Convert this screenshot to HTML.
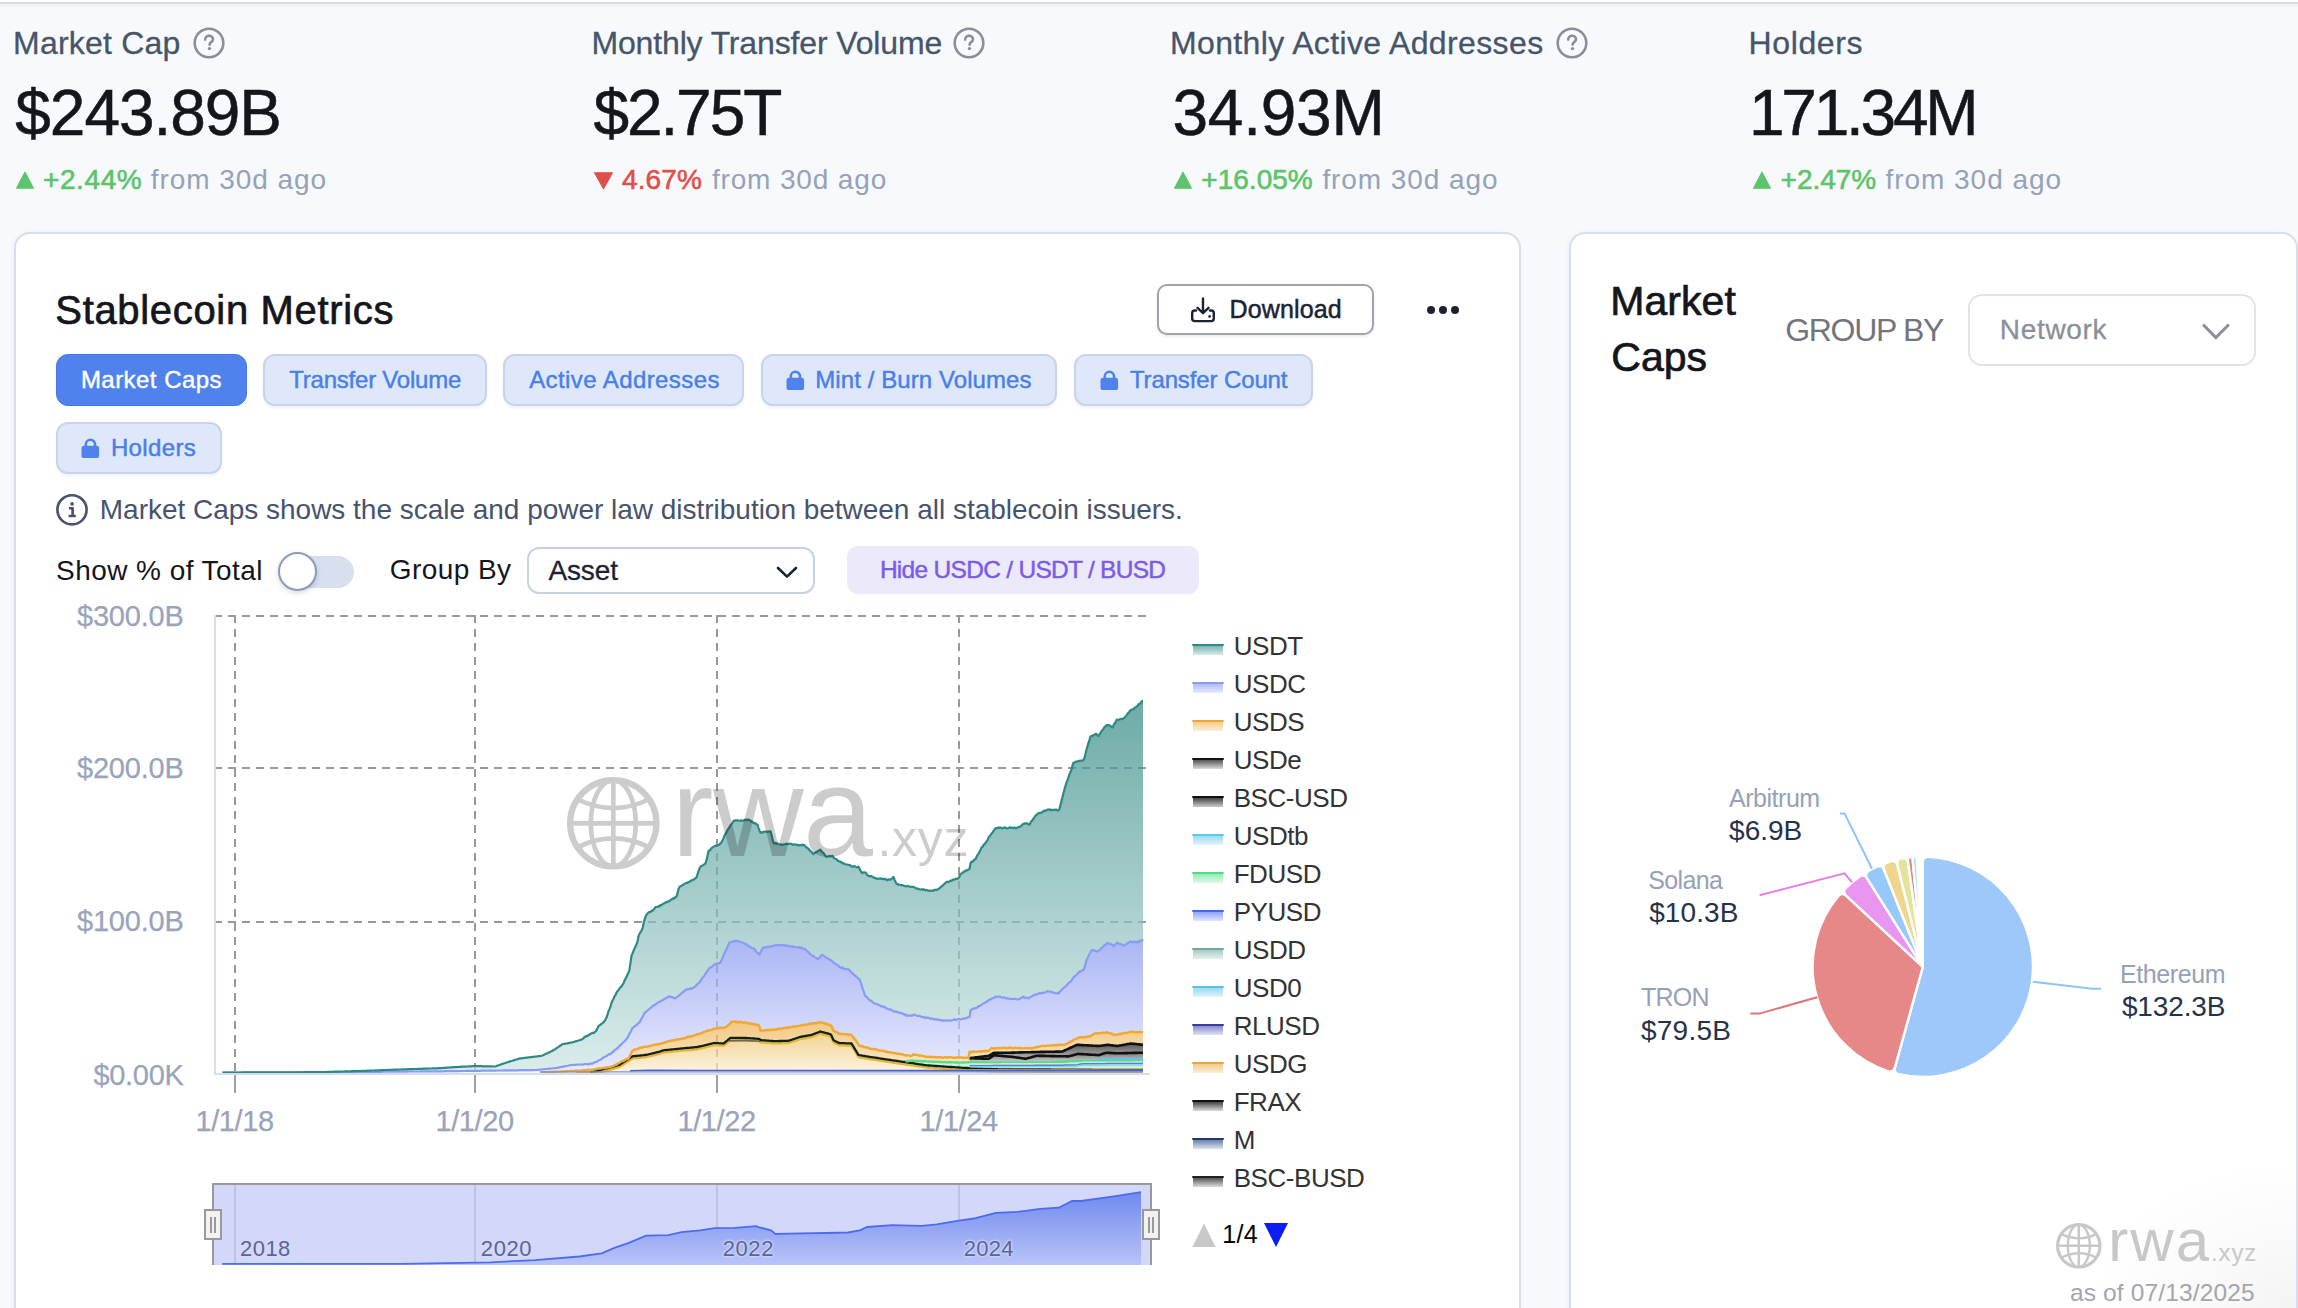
<!DOCTYPE html>
<html><head><meta charset="utf-8"><title>Stablecoin Metrics</title>
<style>
html,body{margin:0;padding:0}
body{width:2298px;height:1308px;overflow:hidden;position:relative;background:#f8f9fd;font-family:"Liberation Sans",Arial,sans-serif}
.t{position:absolute;white-space:nowrap;line-height:1;font-family:"Liberation Sans",Arial,sans-serif}
.b{position:absolute}
.card{background:#fff;border:2px solid #d7ddec;border-radius:16px;box-sizing:border-box;box-shadow:-2px 0 4px rgba(20,40,80,0.03)}
</style></head><body>
<div class="b" style="left:0;top:0;width:2298px;height:2px;background:#fff"></div>
<div class="b" style="left:0;top:2px;width:2298px;height:2px;background:#d5dcea"></div>
<div class="b" style="left:0;top:4px;width:2298px;height:6px;background:linear-gradient(#eff1f6,#f8f9fd)"></div>
<div class="t" style="left:13.00px;top:26.91px;font-size:32px;color:#475569;letter-spacing:0.22px;-webkit-text-stroke:0.3px #475569;">Market Cap</div>
<svg class="b" style="left:192px;top:25.700000000000003px" width="34" height="34" viewBox="0 0 34 34"><circle cx="17" cy="17" r="14.3" fill="none" stroke="#8a8e98" stroke-width="2.6"/><path d="M13.2 13.6c0-2.3 1.7-3.8 3.9-3.8s3.9 1.4 3.9 3.4c0 2.6-3.4 2.8-3.4 5.4" fill="none" stroke="#8a8e98" stroke-width="2.6" stroke-linecap="round"/><circle cx="17.5" cy="22.6" r="1.7" fill="#8a8e98"/></svg>
<div class="t" style="left:15.30px;top:80.81px;font-size:64px;color:#15161c;letter-spacing:-1.04px;-webkit-text-stroke:0.5px #15161c;">$243.89B</div>
<svg class="b" style="left:16px;top:171px" width="18" height="18" viewBox="0 0 18 18"><path d="M9.0 1.2 L17.4 17.2 L0.6 17.2Z" fill="#5cc46a" stroke="#5cc46a" stroke-width="1.2" stroke-linejoin="round"/></svg>
<div class="t" style="left:43.00px;top:166.29px;font-size:28px;color:#5cc46a;letter-spacing:0.60px;-webkit-text-stroke:0.6px #5cc46a;">+2.44%</div>
<div class="t" style="left:150.70px;top:166.29px;font-size:28px;color:#94a3b8;letter-spacing:0.94px;">from 30d ago</div>
<div class="t" style="left:591.40px;top:26.91px;font-size:32px;color:#475569;letter-spacing:-0.14px;-webkit-text-stroke:0.3px #475569;">Monthly Transfer Volume</div>
<svg class="b" style="left:952px;top:25.700000000000003px" width="34" height="34" viewBox="0 0 34 34"><circle cx="17" cy="17" r="14.3" fill="none" stroke="#8a8e98" stroke-width="2.6"/><path d="M13.2 13.6c0-2.3 1.7-3.8 3.9-3.8s3.9 1.4 3.9 3.4c0 2.6-3.4 2.8-3.4 5.4" fill="none" stroke="#8a8e98" stroke-width="2.6" stroke-linecap="round"/><circle cx="17.5" cy="22.6" r="1.7" fill="#8a8e98"/></svg>
<div class="t" style="left:593.40px;top:80.81px;font-size:64px;color:#15161c;letter-spacing:-2.08px;-webkit-text-stroke:0.5px #15161c;">$2.75T</div>
<svg class="b" style="left:594px;top:172px" width="19" height="18" viewBox="0 0 19 18"><path d="M0.6 0.8 L18.4 0.8 L9.5 16.8Z" fill="#e0504a" stroke="#e0504a" stroke-width="1.2" stroke-linejoin="round"/></svg>
<div class="t" style="left:622.00px;top:166.29px;font-size:28px;color:#e0504a;letter-spacing:0.10px;-webkit-text-stroke:0.6px #e0504a;">4.67%</div>
<div class="t" style="left:711.90px;top:166.29px;font-size:28px;color:#94a3b8;letter-spacing:0.85px;">from 30d ago</div>
<div class="t" style="left:1170.00px;top:26.91px;font-size:32px;color:#475569;letter-spacing:0.37px;-webkit-text-stroke:0.3px #475569;">Monthly Active Addresses</div>
<svg class="b" style="left:1555px;top:25.700000000000003px" width="34" height="34" viewBox="0 0 34 34"><circle cx="17" cy="17" r="14.3" fill="none" stroke="#8a8e98" stroke-width="2.6"/><path d="M13.2 13.6c0-2.3 1.7-3.8 3.9-3.8s3.9 1.4 3.9 3.4c0 2.6-3.4 2.8-3.4 5.4" fill="none" stroke="#8a8e98" stroke-width="2.6" stroke-linecap="round"/><circle cx="17.5" cy="22.6" r="1.7" fill="#8a8e98"/></svg>
<div class="t" style="left:1172.40px;top:80.81px;font-size:64px;color:#15161c;letter-spacing:-0.22px;-webkit-text-stroke:0.5px #15161c;">34.93M</div>
<svg class="b" style="left:1174px;top:171px" width="18" height="18" viewBox="0 0 18 18"><path d="M9.0 1.2 L17.4 17.2 L0.6 17.2Z" fill="#5cc46a" stroke="#5cc46a" stroke-width="1.2" stroke-linejoin="round"/></svg>
<div class="t" style="left:1201.30px;top:166.29px;font-size:28px;color:#5cc46a;letter-spacing:0.02px;-webkit-text-stroke:0.6px #5cc46a;">+16.05%</div>
<div class="t" style="left:1322.40px;top:166.29px;font-size:28px;color:#94a3b8;letter-spacing:0.92px;">from 30d ago</div>
<div class="t" style="left:1748.50px;top:26.91px;font-size:32px;color:#475569;letter-spacing:0.62px;-webkit-text-stroke:0.3px #475569;">Holders</div>
<div class="t" style="left:1749.00px;top:80.81px;font-size:64px;color:#15161c;letter-spacing:-3.25px;-webkit-text-stroke:0.5px #15161c;">171.34M</div>
<svg class="b" style="left:1753px;top:171px" width="18" height="18" viewBox="0 0 18 18"><path d="M9.0 1.2 L17.4 17.2 L0.6 17.2Z" fill="#5cc46a" stroke="#5cc46a" stroke-width="1.2" stroke-linejoin="round"/></svg>
<div class="t" style="left:1780.60px;top:166.29px;font-size:28px;color:#5cc46a;letter-spacing:-0.02px;-webkit-text-stroke:0.6px #5cc46a;">+2.47%</div>
<div class="t" style="left:1885.50px;top:166.29px;font-size:28px;color:#94a3b8;letter-spacing:0.96px;">from 30d ago</div>
<div class="b card" style="left:14px;top:232px;width:1507px;height:1100px"></div>
<div class="b card" style="left:1569px;top:232px;width:729px;height:1100px"></div>
<div class="t" style="left:55.30px;top:289.93px;font-size:40px;color:#15161c;letter-spacing:0.67px;-webkit-text-stroke:0.7px #15161c;">Stablecoin Metrics</div>
<div class="b" style="left:1157px;top:284px;width:217px;height:51px;border:2px solid #9ea3ad;border-radius:10px;box-sizing:border-box;background:#fff;box-shadow:0 2px 3px rgba(0,0,0,0.08)"></div>
<svg class="b" style="left:1189px;top:296px" width="28" height="28" viewBox="0 0 28 28"><path d="M14 2.5V17M8.5 11.8L14 17.2L19.5 11.8" fill="none" stroke="#1b2333" stroke-width="2.4" stroke-linecap="round" stroke-linejoin="round"/><path d="M7 14.5H5.8a2.6 2.6 0 0 0-2.6 2.6v5.4a2.6 2.6 0 0 0 2.6 2.6h16.4a2.6 2.6 0 0 0 2.6-2.6v-5.4a2.6 2.6 0 0 0-2.6-2.6H21" fill="none" stroke="#1b2333" stroke-width="2.4" stroke-linecap="round"/><circle cx="20.6" cy="20.4" r="1.3" fill="#1b2333"/></svg>
<div class="t" style="left:1229.60px;top:297.33px;font-size:25px;color:#1b2333;letter-spacing:0.13px;-webkit-text-stroke:0.5px #1b2333;">Download</div>
<div class="b" style="left:1426.5px;top:305.8px;width:8.4px;height:8.4px;border-radius:50%;background:#1b2333"></div>
<div class="b" style="left:1438.8px;top:305.8px;width:8.4px;height:8.4px;border-radius:50%;background:#1b2333"></div>
<div class="b" style="left:1451.1px;top:305.8px;width:8.4px;height:8.4px;border-radius:50%;background:#1b2333"></div>
<div class="b" style="left:56px;top:354px;width:191px;height:52px;border-radius:12px;background:#4f82ec;border:1.5px solid #4577e6;box-sizing:border-box"></div>
<div class="t" style="left:80.90px;top:367.98px;font-size:24px;color:#ffffff;letter-spacing:0.46px;-webkit-text-stroke:0.45px #ffffff;">Market Caps</div>
<div class="b" style="left:263px;top:354px;width:224px;height:52px;border-radius:12px;background:#dfe8fa;border:2px solid #c7d4ec;box-sizing:border-box;box-shadow:0 2px 3px rgba(30,50,90,0.07)"></div>
<div class="t" style="left:289.30px;top:367.98px;font-size:24px;color:#4a7fe8;letter-spacing:-0.23px;-webkit-text-stroke:0.45px #4a7fe8;">Transfer Volume</div>
<div class="b" style="left:503px;top:354px;width:241px;height:52px;border-radius:12px;background:#dfe8fa;border:2px solid #c7d4ec;box-sizing:border-box;box-shadow:0 2px 3px rgba(30,50,90,0.07)"></div>
<div class="t" style="left:529.20px;top:367.98px;font-size:24px;color:#4a7fe8;letter-spacing:0.41px;-webkit-text-stroke:0.45px #4a7fe8;">Active Addresses</div>
<div class="b" style="left:761px;top:354px;width:296px;height:52px;border-radius:12px;background:#dfe8fa;border:2px solid #c7d4ec;box-sizing:border-box;box-shadow:0 2px 3px rgba(30,50,90,0.07)"></div>
<svg class="b" style="left:786px;top:370px" width="19" height="21" viewBox="0 0 19 21"><path d="M4.8 8.5V6.3a4.6 4.6 0 0 1 9.2 0V8.5" fill="none" stroke="#4f82ec" stroke-width="2.6"/><rect x="0.5" y="7.8" width="17.6" height="12.2" rx="2.6" fill="#4f82ec"/></svg>
<div class="t" style="left:815.30px;top:367.98px;font-size:24px;color:#4a7fe8;letter-spacing:0.08px;-webkit-text-stroke:0.45px #4a7fe8;">Mint / Burn Volumes</div>
<div class="b" style="left:1074px;top:354px;width:239px;height:52px;border-radius:12px;background:#dfe8fa;border:2px solid #c7d4ec;box-sizing:border-box;box-shadow:0 2px 3px rgba(30,50,90,0.07)"></div>
<svg class="b" style="left:1099.5px;top:370px" width="19" height="21" viewBox="0 0 19 21"><path d="M4.8 8.5V6.3a4.6 4.6 0 0 1 9.2 0V8.5" fill="none" stroke="#4f82ec" stroke-width="2.6"/><rect x="0.5" y="7.8" width="17.6" height="12.2" rx="2.6" fill="#4f82ec"/></svg>
<div class="t" style="left:1129.90px;top:367.98px;font-size:24px;color:#4a7fe8;letter-spacing:-0.12px;-webkit-text-stroke:0.45px #4a7fe8;">Transfer Count</div>
<div class="b" style="left:56px;top:422px;width:166px;height:52px;border-radius:12px;background:#dfe8fa;border:2px solid #c7d4ec;box-sizing:border-box;box-shadow:0 2px 3px rgba(30,50,90,0.07)"></div>
<svg class="b" style="left:81px;top:438px" width="19" height="21" viewBox="0 0 19 21"><path d="M4.8 8.5V6.3a4.6 4.6 0 0 1 9.2 0V8.5" fill="none" stroke="#4f82ec" stroke-width="2.6"/><rect x="0.5" y="7.8" width="17.6" height="12.2" rx="2.6" fill="#4f82ec"/></svg>
<div class="t" style="left:110.90px;top:435.68px;font-size:24px;color:#4a7fe8;letter-spacing:0.38px;-webkit-text-stroke:0.45px #4a7fe8;">Holders</div>
<svg class="b" style="left:55px;top:493px" width="34" height="34" viewBox="0 0 34 34"><circle cx="17" cy="16.8" r="14.6" fill="none" stroke="#46536d" stroke-width="2.6"/><circle cx="17.1" cy="10.9" r="1.8" fill="#46536d"/><path d="M14 15.2h3.6v7.6M13.6 23h7.2" fill="none" stroke="#46536d" stroke-width="2.6" stroke-linejoin="round"/></svg>
<div class="t" style="left:99.80px;top:496.29px;font-size:28px;color:#46536d;letter-spacing:-0.02px;">Market Caps shows the scale and power law distribution between all stablecoin issuers.</div>
<div class="t" style="left:56.00px;top:557.29px;font-size:28px;color:#15161c;letter-spacing:0.45px;">Show % of Total</div>
<div class="b" style="left:280px;top:556px;width:74px;height:31.5px;border-radius:16px;background:#d8dfef"></div>
<div class="b" style="left:278.4px;top:552px;width:39px;height:39px;border-radius:50%;background:#fff;border:2px solid #8a9ab8;box-sizing:border-box;box-shadow:0 2px 5px rgba(0,0,0,0.15)"></div>
<div class="t" style="left:389.80px;top:556.39px;font-size:28px;color:#15161c;letter-spacing:0.43px;">Group By</div>
<div class="b" style="left:527px;top:547px;width:287.5px;height:47px;border:2px solid #c6d1e2;border-radius:12px;box-sizing:border-box;background:#fff"></div>
<div class="t" style="left:548.40px;top:557.39px;font-size:28px;color:#1b2333;letter-spacing:-0.12px;-webkit-text-stroke:0.3px #1b2333;">Asset</div>
<svg class="b" style="left:775px;top:564px" width="24" height="16" viewBox="0 0 24 16"><path d="M3 4L12 12.6L21 4" fill="none" stroke="#1b2333" stroke-width="2.6" stroke-linecap="round" stroke-linejoin="round"/></svg>
<div class="b" style="left:847px;top:546px;width:352px;height:47.5px;border-radius:11px;background:#ece9fb"></div>
<div class="t" style="left:879.90px;top:557.56px;font-size:24.5px;color:#7b5ce9;letter-spacing:-0.71px;-webkit-text-stroke:0.45px #7b5ce9;">Hide USDC / USDT / BUSD</div>
<svg class="b" style="left:0;top:0" width="2298" height="1308" viewBox="0 0 2298 1308">
<defs>
<linearGradient id="gT" x1="0" y1="701" x2="0" y2="1073" gradientUnits="userSpaceOnUse"><stop offset="0" stop-color="#2f8783"/><stop offset="1" stop-color="#cbe5e3"/></linearGradient>
<linearGradient id="gC" x1="0" y1="940" x2="0" y2="1073" gradientUnits="userSpaceOnUse"><stop offset="0" stop-color="#8797f0"/><stop offset="1" stop-color="#dfe3fc"/></linearGradient>
<linearGradient id="gO" x1="0" y1="1022" x2="0" y2="1073" gradientUnits="userSpaceOnUse"><stop offset="0" stop-color="#eeb04e"/><stop offset="1" stop-color="#f9e2b8"/></linearGradient>
<linearGradient id="gY" x1="0" y1="1031" x2="0" y2="1073" gradientUnits="userSpaceOnUse"><stop offset="0" stop-color="#ebbf5c"/><stop offset="1" stop-color="#fbf0d6"/></linearGradient>
<linearGradient id="gK" x1="0" y1="1044" x2="0" y2="1062" gradientUnits="userSpaceOnUse"><stop offset="0" stop-color="#222"/><stop offset="1" stop-color="#b8b8b8"/></linearGradient>
<linearGradient id="gK1" x1="0" y1="0" x2="0" y2="1"><stop offset="0" stop-color="#3c3c3c"/><stop offset="1" stop-color="#a8a8a8"/></linearGradient>
<linearGradient id="gK2" x1="0" y1="0" x2="0" y2="1"><stop offset="0" stop-color="#5a5a5a"/><stop offset="1" stop-color="#c4c4c4"/></linearGradient>
<linearGradient id="gN" x1="0" y1="1192" x2="0" y2="1265" gradientUnits="userSpaceOnUse"><stop offset="0" stop-color="#7089ef"/><stop offset="1" stop-color="#b9c4f8"/></linearGradient>
</defs>
<line x1="214" y1="616" x2="1146" y2="616" stroke="#999" stroke-width="2" stroke-dasharray="8 6"/>
<line x1="214" y1="768" x2="1146" y2="768" stroke="#999" stroke-width="2" stroke-dasharray="8 6"/>
<line x1="214" y1="922" x2="1146" y2="922" stroke="#999" stroke-width="2" stroke-dasharray="8 6"/>
<line x1="235" y1="615" x2="235" y2="1073" stroke="#999" stroke-width="2" stroke-dasharray="8 6"/>
<line x1="235" y1="1075" x2="235" y2="1093" stroke="#a0a0a0" stroke-width="2"/>
<line x1="475" y1="615" x2="475" y2="1073" stroke="#999" stroke-width="2" stroke-dasharray="8 6"/>
<line x1="475" y1="1075" x2="475" y2="1093" stroke="#a0a0a0" stroke-width="2"/>
<line x1="717" y1="615" x2="717" y2="1073" stroke="#999" stroke-width="2" stroke-dasharray="8 6"/>
<line x1="717" y1="1075" x2="717" y2="1093" stroke="#a0a0a0" stroke-width="2"/>
<line x1="959" y1="615" x2="959" y2="1073" stroke="#999" stroke-width="2" stroke-dasharray="8 6"/>
<line x1="959" y1="1075" x2="959" y2="1093" stroke="#a0a0a0" stroke-width="2"/>
<path d="M222.5,1072.5 223.5,1072.5 224.5,1072.5 225.5,1072.5 226.5,1072.5 227.5,1072.5 228.5,1072.5 229.5,1072.5 230.5,1072.5 231.5,1072.5 232.5,1072.5 233.5,1072.5 234.5,1072.5 235.5,1072.5 236.5,1072.5 237.5,1072.5 238.5,1072.5 239.5,1072.5 240.5,1072.5 241.5,1072.5 242.5,1072.4 243.5,1072.4 244.5,1072.4 245.5,1072.4 246.5,1072.4 247.5,1072.4 248.5,1072.4 249.5,1072.4 250.5,1072.4 251.5,1072.4 252.5,1072.4 253.5,1072.4 254.5,1072.4 255.5,1072.4 256.5,1072.4 257.5,1072.4 258.5,1072.4 259.5,1072.4 260.5,1072.4 261.5,1072.4 262.5,1072.4 263.5,1072.4 264.5,1072.4 265.5,1072.4 266.5,1072.4 267.5,1072.4 268.5,1072.4 269.5,1072.4 270.5,1072.4 271.5,1072.4 272.5,1072.4 273.5,1072.4 274.5,1072.4 275.5,1072.4 276.5,1072.4 277.5,1072.4 278.5,1072.4 279.5,1072.4 280.5,1072.4 281.5,1072.3 282.5,1072.3 283.5,1072.3 284.5,1072.3 285.5,1072.3 286.5,1072.3 287.5,1072.3 288.5,1072.3 289.5,1072.3 290.5,1072.3 291.5,1072.3 292.5,1072.3 293.5,1072.3 294.5,1072.3 295.5,1072.3 296.5,1072.3 297.5,1072.3 298.5,1072.3 299.5,1072.3 300.5,1072.3 301.5,1072.3 302.5,1072.3 303.5,1072.3 304.5,1072.2 305.5,1072.2 306.5,1072.2 307.5,1072.2 308.5,1072.2 309.5,1072.2 310.5,1072.2 311.5,1072.2 312.5,1072.2 313.5,1072.1 314.5,1072.1 315.5,1072.1 316.5,1072.1 317.5,1072.1 318.5,1072.1 319.5,1072.1 320.5,1072.1 321.5,1072.0 322.5,1072.0 323.5,1072.0 324.5,1072.0 325.5,1072.0 326.5,1072.0 327.5,1071.9 328.5,1071.9 329.5,1071.9 330.5,1071.8 331.5,1071.8 332.5,1071.8 333.5,1071.8 334.5,1071.7 335.5,1071.7 336.5,1071.7 337.5,1071.6 338.5,1071.6 339.5,1071.6 340.5,1071.6 341.5,1071.5 342.5,1071.5 343.5,1071.5 344.5,1071.4 345.5,1071.4 346.5,1071.4 347.5,1071.4 348.5,1071.3 349.5,1071.3 350.5,1071.3 351.5,1071.2 352.5,1071.2 353.5,1071.2 354.5,1071.2 355.5,1071.1 356.5,1071.1 357.5,1071.1 358.5,1071.0 359.5,1071.0 360.5,1071.0 361.5,1070.9 362.5,1070.9 363.5,1070.9 364.5,1070.8 365.5,1070.8 366.5,1070.8 367.5,1070.7 368.5,1070.7 369.5,1070.6 370.5,1070.6 371.5,1070.6 372.5,1070.5 373.5,1070.5 374.5,1070.5 375.5,1070.4 376.5,1070.4 377.5,1070.3 378.5,1070.3 379.5,1070.3 380.5,1070.2 381.5,1070.2 382.5,1070.2 383.5,1070.1 384.5,1070.1 385.5,1070.0 386.5,1070.0 387.5,1070.0 388.5,1069.9 389.5,1069.9 390.5,1069.9 391.5,1069.8 392.5,1069.8 393.5,1069.7 394.5,1069.7 395.5,1069.7 396.5,1069.6 397.5,1069.6 398.5,1069.6 399.5,1069.5 400.5,1069.5 401.5,1069.5 402.5,1069.4 403.5,1069.4 404.5,1069.4 405.5,1069.3 406.5,1069.3 407.5,1069.3 408.5,1069.2 409.5,1069.2 410.5,1069.2 411.5,1069.1 412.5,1069.1 413.5,1069.1 414.5,1069.0 415.5,1069.0 416.5,1069.0 417.5,1068.9 418.5,1068.9 419.5,1068.9 420.5,1068.8 421.5,1068.8 422.5,1068.8 423.5,1068.7 424.5,1068.7 425.5,1068.7 426.5,1068.6 427.5,1068.6 428.5,1068.6 429.5,1068.5 430.5,1068.5 431.5,1068.5 432.5,1068.4 433.5,1068.4 434.5,1068.4 435.5,1068.3 436.5,1068.3 437.5,1068.3 438.5,1068.2 439.5,1068.2 440.5,1068.2 441.5,1068.1 442.5,1068.0 443.5,1067.9 444.5,1067.9 445.5,1067.8 446.5,1067.7 447.5,1067.7 448.5,1067.6 449.5,1067.5 450.5,1067.4 451.5,1067.4 452.5,1067.3 453.5,1067.2 454.5,1067.2 455.5,1067.1 456.5,1067.1 457.5,1067.0 458.5,1066.9 459.5,1066.9 460.5,1066.8 461.5,1066.8 462.5,1066.7 463.5,1066.7 464.5,1066.6 465.5,1066.6 466.5,1066.5 467.5,1066.5 468.5,1066.4 469.5,1066.4 470.5,1066.3 471.5,1066.3 472.5,1066.2 473.5,1066.1 474.5,1066.1 475.5,1066.1 476.5,1066.1 477.5,1066.2 478.5,1066.2 479.5,1066.2 480.5,1066.2 481.5,1066.2 482.5,1066.3 483.5,1066.3 484.5,1066.3 485.5,1066.3 486.5,1066.3 487.5,1066.4 488.5,1066.4 489.5,1066.4 490.5,1066.4 491.5,1066.4 492.5,1066.5 493.5,1066.5 494.5,1066.5 495.5,1066.3 496.5,1066.0 497.5,1065.6 498.5,1065.3 499.5,1064.9 500.5,1064.6 501.5,1064.2 502.5,1063.9 503.5,1063.5 504.5,1063.2 505.5,1062.9 506.5,1062.6 507.5,1062.2 508.5,1061.9 509.5,1061.6 510.5,1061.3 511.5,1061.0 512.5,1060.7 513.5,1060.4 514.5,1060.1 515.5,1059.8 516.5,1059.5 517.5,1059.2 518.5,1058.9 519.5,1058.6 520.5,1058.4 521.5,1058.3 522.5,1058.2 523.5,1058.0 524.5,1057.9 525.5,1057.8 526.5,1057.7 527.5,1057.6 528.5,1057.4 529.5,1057.3 530.5,1057.2 531.5,1057.1 532.5,1056.9 533.5,1056.8 534.5,1056.7 535.5,1056.6 536.5,1056.5 537.5,1056.3 538.5,1056.2 539.5,1056.1 540.5,1056.0 541.5,1055.8 542.5,1055.5 543.5,1055.0 544.5,1054.5 545.5,1054.1 546.5,1053.6 547.5,1053.2 548.5,1052.7 549.5,1052.2 550.5,1051.8 551.5,1051.3 552.5,1050.8 553.5,1050.2 554.5,1049.6 555.5,1048.9 556.5,1048.2 557.5,1047.6 558.5,1046.9 559.5,1046.2 560.5,1045.5 561.5,1044.9 562.5,1044.2 563.5,1044.0 564.5,1043.8 565.5,1043.6 566.5,1043.5 567.5,1043.3 568.5,1043.1 569.5,1042.9 570.5,1042.7 571.5,1042.5 572.5,1042.3 573.5,1042.0 574.5,1041.7 575.5,1041.4 576.5,1041.1 577.5,1040.8 578.5,1040.5 579.5,1040.2 580.5,1039.8 581.5,1039.6 582.5,1038.8 583.5,1038.4 584.5,1037.0 585.5,1036.3 586.5,1036.6 587.5,1035.5 588.5,1035.4 589.5,1034.5 590.5,1033.8 591.5,1033.4 592.5,1032.8 593.5,1033.1 594.5,1032.3 595.5,1031.5 596.5,1030.3 597.5,1028.2 598.5,1025.9 599.5,1025.5 600.5,1024.4 601.5,1024.1 602.5,1022.9 603.5,1022.4 604.5,1021.2 605.5,1019.5 606.5,1017.6 607.5,1014.7 608.5,1011.2 609.5,1009.1 610.5,1006.3 611.5,1003.0 612.5,1000.6 613.5,998.7 614.5,996.4 615.5,995.1 616.5,992.5 617.5,991.2 618.5,990.3 619.5,988.4 620.5,987.2 621.5,986.5 622.5,984.8 623.5,983.3 624.5,980.8 625.5,978.7 626.5,976.9 627.5,974.3 628.5,972.7 629.5,969.5 630.5,962.7 631.5,955.6 632.5,953.5 633.5,950.8 634.5,948.7 635.5,946.3 636.5,944.4 637.5,941.5 638.5,936.3 639.5,933.9 640.5,932.2 641.5,930.6 642.5,928.6 643.5,923.8 644.5,919.9 645.5,916.8 646.5,914.7 647.5,913.6 648.5,912.4 649.5,912.1 650.5,912.2 651.5,910.9 652.5,910.6 653.5,909.7 654.5,908.5 655.5,907.2 656.5,907.0 657.5,907.0 658.5,906.1 659.5,906.3 660.5,905.0 661.5,905.3 662.5,904.3 663.5,903.5 664.5,903.3 665.5,902.4 666.5,902.5 667.5,901.5 668.5,901.7 669.5,900.8 670.5,900.0 671.5,899.3 672.5,899.1 673.5,898.1 674.5,898.3 675.5,896.9 676.5,896.7 677.5,893.4 678.5,889.1 679.5,887.0 680.5,886.1 681.5,885.8 682.5,885.2 683.5,884.4 684.5,884.0 685.5,883.2 686.5,882.8 687.5,883.0 688.5,882.0 689.5,881.8 690.5,880.7 691.5,880.7 692.5,880.0 693.5,879.7 694.5,879.0 695.5,878.2 696.5,877.5 697.5,874.3 698.5,871.2 699.5,868.8 700.5,866.6 701.5,865.9 702.5,865.7 703.5,864.8 704.5,864.1 705.5,863.3 706.5,860.2 707.5,855.7 708.5,850.9 709.5,850.6 710.5,849.6 711.5,848.2 712.5,847.3 713.5,846.6 714.5,846.4 715.5,845.6 716.5,846.0 717.5,845.2 718.5,845.2 719.5,844.4 720.5,843.4 721.5,842.4 722.5,840.3 723.5,838.4 724.5,835.7 725.5,833.8 726.5,832.1 727.5,830.2 728.5,828.6 729.5,827.2 730.5,825.3 731.5,824.1 732.5,822.9 733.5,820.9 734.5,820.6 735.5,820.4 736.5,820.6 737.5,820.2 738.5,820.5 739.5,820.8 740.5,820.6 741.5,820.3 742.5,821.0 743.5,820.7 744.5,820.0 745.5,819.5 746.5,820.2 747.5,819.7 748.5,819.6 749.5,820.3 750.5,820.6 751.5,821.9 752.5,821.7 753.5,823.0 754.5,823.3 755.5,823.1 756.5,824.3 757.5,824.7 758.5,827.8 759.5,830.6 760.5,832.8 761.5,832.1 762.5,832.7 763.5,831.7 764.5,831.8 765.5,831.5 766.5,831.6 767.5,831.8 768.5,831.7 769.5,831.6 770.5,831.3 771.5,834.8 772.5,839.1 773.5,842.9 774.5,843.6 775.5,842.9 776.5,843.9 777.5,843.3 778.5,844.3 779.5,844.6 780.5,844.3 781.5,844.6 782.5,845.0 783.5,844.6 784.5,844.4 785.5,844.0 786.5,843.7 787.5,844.0 788.5,844.0 789.5,843.7 790.5,843.9 791.5,843.9 792.5,844.6 793.5,844.7 794.5,844.3 795.5,844.5 796.5,844.9 797.5,844.9 798.5,845.6 799.5,845.1 800.5,845.0 801.5,845.5 802.5,844.6 803.5,844.9 804.5,845.1 805.5,846.6 806.5,847.2 807.5,848.3 808.5,848.6 809.5,850.1 810.5,851.1 811.5,851.9 812.5,853.2 813.5,854.3 814.5,852.9 815.5,852.6 816.5,852.1 817.5,851.3 818.5,850.6 819.5,850.3 820.5,849.7 821.5,851.4 822.5,852.4 823.5,853.2 824.5,854.7 825.5,856.0 826.5,857.1 827.5,856.7 828.5,856.3 829.5,855.9 830.5,856.7 831.5,856.1 832.5,855.8 833.5,857.3 834.5,858.4 835.5,858.8 836.5,859.1 837.5,860.3 838.5,861.1 839.5,861.3 840.5,862.1 841.5,861.9 842.5,863.3 843.5,863.3 844.5,863.7 845.5,864.5 846.5,864.5 847.5,864.5 848.5,864.9 849.5,865.2 850.5,865.4 851.5,866.5 852.5,866.7 853.5,866.2 854.5,866.2 855.5,866.8 856.5,867.1 857.5,867.3 858.5,866.6 859.5,868.7 860.5,870.6 861.5,872.4 862.5,873.1 863.5,872.3 864.5,872.4 865.5,872.5 866.5,873.9 867.5,875.4 868.5,875.5 869.5,876.3 870.5,876.0 871.5,876.1 872.5,877.0 873.5,877.3 874.5,877.9 875.5,878.1 876.5,878.6 877.5,878.9 878.5,878.5 879.5,878.6 880.5,878.4 881.5,878.7 882.5,879.1 883.5,878.7 884.5,879.5 885.5,879.1 886.5,879.5 887.5,880.3 888.5,879.4 889.5,879.5 890.5,879.7 891.5,878.7 892.5,878.5 893.5,876.9 894.5,879.6 895.5,881.7 896.5,883.7 897.5,884.4 898.5,884.4 899.5,885.0 900.5,885.0 901.5,885.1 902.5,885.2 903.5,885.5 904.5,885.9 905.5,886.3 906.5,886.5 907.5,885.9 908.5,886.2 909.5,886.5 910.5,886.8 911.5,886.8 912.5,886.8 913.5,886.9 914.5,887.4 915.5,887.8 916.5,888.6 917.5,888.7 918.5,888.9 919.5,889.3 920.5,889.5 921.5,889.3 922.5,889.8 923.5,889.2 924.5,890.0 925.5,890.1 926.5,889.9 927.5,890.3 928.5,890.9 929.5,890.5 930.5,890.9 931.5,890.6 932.5,890.6 933.5,891.0 934.5,889.8 935.5,889.8 936.5,890.1 937.5,889.6 938.5,888.7 939.5,888.4 940.5,887.2 941.5,886.6 942.5,885.5 943.5,884.8 944.5,883.9 945.5,882.9 946.5,882.0 947.5,881.7 948.5,882.1 949.5,881.4 950.5,880.6 951.5,881.0 952.5,880.0 953.5,879.4 954.5,879.6 955.5,878.9 956.5,878.9 957.5,878.7 958.5,878.1 959.5,876.7 960.5,873.8 961.5,873.5 962.5,873.0 963.5,871.8 964.5,871.6 965.5,870.6 966.5,870.4 967.5,870.3 968.5,869.4 969.5,869.0 970.5,863.2 971.5,861.7 972.5,861.9 973.5,860.9 974.5,859.4 975.5,859.4 976.5,857.0 977.5,854.9 978.5,854.0 979.5,851.7 980.5,850.1 981.5,847.5 982.5,847.0 983.5,845.1 984.5,844.1 985.5,843.1 986.5,841.5 987.5,840.3 988.5,837.8 989.5,836.1 990.5,835.2 991.5,833.5 992.5,832.6 993.5,830.9 994.5,829.7 995.5,828.0 996.5,828.3 997.5,828.2 998.5,827.4 999.5,828.1 1000.5,827.6 1001.5,828.1 1002.5,828.0 1003.5,828.2 1004.5,827.4 1005.5,827.7 1006.5,828.1 1007.5,828.3 1008.5,828.0 1009.5,827.3 1010.5,827.9 1011.5,827.4 1012.5,827.9 1013.5,828.1 1014.5,827.4 1015.5,828.3 1016.5,828.0 1017.5,827.5 1018.5,827.0 1019.5,826.7 1020.5,826.5 1021.5,825.6 1022.5,824.5 1023.5,823.9 1024.5,823.4 1025.5,823.5 1026.5,823.2 1027.5,823.9 1028.5,824.0 1029.5,824.6 1030.5,822.7 1031.5,821.0 1032.5,820.3 1033.5,818.4 1034.5,817.1 1035.5,815.7 1036.5,815.0 1037.5,813.6 1038.5,813.5 1039.5,812.8 1040.5,812.8 1041.5,812.7 1042.5,812.2 1043.5,810.9 1044.5,810.6 1045.5,810.9 1046.5,810.3 1047.5,809.5 1048.5,809.6 1049.5,809.3 1050.5,810.1 1051.5,809.7 1052.5,810.3 1053.5,810.0 1054.5,809.5 1055.5,809.8 1056.5,809.7 1057.5,810.5 1058.5,810.3 1059.5,808.9 1060.5,804.9 1061.5,800.9 1062.5,796.9 1063.5,793.0 1064.5,789.3 1065.5,785.8 1066.5,782.4 1067.5,780.3 1068.5,777.3 1069.5,774.2 1070.5,771.9 1071.5,769.6 1072.5,765.6 1073.5,762.7 1074.5,762.7 1075.5,761.9 1076.5,761.6 1077.5,761.5 1078.5,760.9 1079.5,760.9 1080.5,760.5 1081.5,760.7 1082.5,760.7 1083.5,759.7 1084.5,758.0 1085.5,753.7 1086.5,749.4 1087.5,746.1 1088.5,742.9 1089.5,739.9 1090.5,736.6 1091.5,735.9 1092.5,735.9 1093.5,735.3 1094.5,734.7 1095.5,733.8 1096.5,734.1 1097.5,735.6 1098.5,736.1 1099.5,734.3 1100.5,733.0 1101.5,731.2 1102.5,730.0 1103.5,728.7 1104.5,727.2 1105.5,726.4 1106.5,725.2 1107.5,725.0 1108.5,725.1 1109.5,725.6 1110.5,726.1 1111.5,726.7 1112.5,727.5 1113.5,725.5 1114.5,723.4 1115.5,722.3 1116.5,719.8 1117.5,719.7 1118.5,719.8 1119.5,719.4 1120.5,719.1 1121.5,718.9 1122.5,719.0 1123.5,718.4 1124.5,717.6 1125.5,716.3 1126.5,715.5 1127.5,713.6 1128.5,713.1 1129.5,711.5 1130.5,710.2 1131.5,709.7 1132.5,709.4 1133.5,709.2 1134.5,707.8 1135.5,707.5 1136.5,706.4 1137.5,705.9 1138.5,704.2 1139.5,703.7 1140.5,703.3 1141.5,701.7 1142.5,700.7 1143.0,700.5 L1143.0,939.3 1142.5,940.0 1141.5,940.7 1140.5,940.4 1139.5,941.7 1138.5,941.5 1137.5,942.4 1136.5,941.8 1135.5,942.0 1134.5,941.7 1133.5,941.9 1132.5,942.3 1131.5,941.8 1130.5,941.7 1129.5,942.0 1128.5,942.5 1127.5,943.6 1126.5,943.6 1125.5,944.5 1124.5,945.3 1123.5,945.3 1122.5,944.9 1121.5,944.4 1120.5,944.3 1119.5,943.7 1118.5,943.5 1117.5,942.6 1116.5,943.2 1115.5,944.3 1114.5,945.3 1113.5,946.0 1112.5,944.7 1111.5,944.5 1110.5,943.7 1109.5,943.9 1108.5,943.4 1107.5,943.1 1106.5,943.4 1105.5,945.0 1104.5,945.1 1103.5,946.2 1102.5,947.6 1101.5,947.9 1100.5,949.4 1099.5,949.9 1098.5,950.9 1097.5,951.4 1096.5,951.4 1095.5,950.8 1094.5,950.6 1093.5,950.4 1092.5,949.9 1091.5,950.6 1090.5,952.3 1089.5,953.9 1088.5,956.1 1087.5,958.2 1086.5,960.5 1085.5,963.9 1084.5,967.7 1083.5,969.8 1082.5,970.1 1081.5,970.8 1080.5,971.5 1079.5,971.4 1078.5,972.7 1077.5,973.8 1076.5,974.9 1075.5,975.5 1074.5,976.6 1073.5,977.5 1072.5,978.8 1071.5,980.7 1070.5,981.8 1069.5,982.2 1068.5,983.4 1067.5,984.2 1066.5,985.4 1065.5,986.6 1064.5,987.2 1063.5,988.1 1062.5,988.7 1061.5,990.4 1060.5,990.8 1059.5,992.3 1058.5,993.5 1057.5,992.8 1056.5,993.4 1055.5,993.3 1054.5,992.7 1053.5,992.9 1052.5,992.5 1051.5,991.8 1050.5,991.7 1049.5,991.6 1048.5,991.5 1047.5,991.2 1046.5,991.6 1045.5,992.5 1044.5,992.6 1043.5,992.7 1042.5,993.1 1041.5,992.9 1040.5,993.4 1039.5,993.2 1038.5,993.6 1037.5,993.8 1036.5,994.4 1035.5,995.0 1034.5,994.6 1033.5,995.1 1032.5,996.1 1031.5,996.4 1030.5,997.2 1029.5,997.3 1028.5,998.4 1027.5,998.3 1026.5,997.6 1025.5,997.5 1024.5,997.9 1023.5,996.8 1022.5,997.1 1021.5,997.9 1020.5,998.3 1019.5,999.0 1018.5,999.3 1017.5,999.6 1016.5,999.0 1015.5,998.9 1014.5,998.8 1013.5,999.1 1012.5,998.8 1011.5,998.8 1010.5,999.0 1009.5,998.9 1008.5,998.5 1007.5,998.1 1006.5,998.4 1005.5,998.3 1004.5,997.4 1003.5,997.6 1002.5,997.7 1001.5,997.5 1000.5,996.9 999.5,996.7 998.5,996.7 997.5,996.8 996.5,996.5 995.5,996.6 994.5,997.7 993.5,998.0 992.5,998.0 991.5,999.1 990.5,999.3 989.5,999.4 988.5,1000.2 987.5,1001.3 986.5,1001.7 985.5,1002.4 984.5,1003.1 983.5,1003.2 982.5,1004.0 981.5,1004.9 980.5,1005.5 979.5,1006.1 978.5,1006.0 977.5,1007.4 976.5,1007.9 975.5,1008.1 974.5,1008.4 973.5,1008.7 972.5,1008.9 971.5,1009.6 970.5,1010.6 969.5,1017.1 968.5,1017.2 967.5,1017.6 966.5,1017.7 965.5,1018.5 964.5,1018.4 963.5,1018.4 962.5,1018.8 961.5,1019.1 960.5,1019.3 959.5,1019.1 958.5,1018.9 957.5,1019.5 956.5,1019.6 955.5,1020.0 954.5,1019.3 953.5,1019.7 952.5,1020.1 951.5,1020.5 950.5,1020.7 949.5,1020.6 948.5,1020.3 947.5,1020.3 946.5,1020.6 945.5,1020.6 944.5,1020.4 943.5,1020.8 942.5,1020.3 941.5,1020.6 940.5,1020.2 939.5,1020.2 938.5,1019.8 937.5,1019.4 936.5,1019.6 935.5,1019.7 934.5,1018.9 933.5,1019.2 932.5,1018.7 931.5,1018.3 930.5,1018.8 929.5,1018.4 928.5,1017.7 927.5,1017.5 926.5,1018.0 925.5,1018.0 924.5,1017.1 923.5,1017.5 922.5,1016.8 921.5,1016.8 920.5,1016.4 919.5,1015.7 918.5,1016.0 917.5,1015.9 916.5,1015.5 915.5,1015.3 914.5,1014.5 913.5,1014.8 912.5,1015.5 911.5,1015.3 910.5,1015.9 909.5,1015.5 908.5,1015.5 907.5,1015.9 906.5,1014.8 905.5,1015.3 904.5,1014.2 903.5,1014.4 902.5,1013.4 901.5,1013.1 900.5,1012.9 899.5,1012.6 898.5,1012.7 897.5,1011.9 896.5,1011.8 895.5,1011.5 894.5,1011.7 893.5,1011.3 892.5,1010.6 891.5,1010.1 890.5,1009.4 889.5,1009.4 888.5,1009.4 887.5,1008.7 886.5,1008.5 885.5,1007.5 884.5,1007.0 883.5,1007.1 882.5,1006.2 881.5,1006.6 880.5,1005.9 879.5,1005.3 878.5,1004.8 877.5,1004.5 876.5,1004.0 875.5,1003.6 874.5,1003.5 873.5,1002.9 872.5,1002.2 871.5,1001.0 870.5,1000.5 869.5,1000.0 868.5,999.1 867.5,997.7 866.5,997.0 865.5,996.2 864.5,994.1 863.5,990.8 862.5,988.1 861.5,984.7 860.5,982.1 859.5,979.3 858.5,978.6 857.5,977.7 856.5,976.8 855.5,976.0 854.5,975.4 853.5,974.4 852.5,973.4 851.5,972.4 850.5,971.7 849.5,970.0 848.5,969.4 847.5,969.4 846.5,968.8 845.5,969.0 844.5,969.0 843.5,968.5 842.5,967.6 841.5,968.0 840.5,967.5 839.5,966.9 838.5,965.9 837.5,965.2 836.5,964.4 835.5,964.1 834.5,963.2 833.5,962.7 832.5,961.5 831.5,960.6 830.5,960.1 829.5,959.4 828.5,959.1 827.5,958.0 826.5,957.9 825.5,957.0 824.5,956.3 823.5,955.7 822.5,954.9 821.5,955.3 820.5,956.4 819.5,957.6 818.5,958.8 817.5,959.1 816.5,958.0 815.5,957.7 814.5,957.2 813.5,956.0 812.5,956.1 811.5,955.2 810.5,954.2 809.5,953.7 808.5,952.1 807.5,951.7 806.5,950.5 805.5,949.5 804.5,948.7 803.5,948.9 802.5,948.5 801.5,947.6 800.5,948.1 799.5,947.4 798.5,947.2 797.5,947.5 796.5,947.2 795.5,947.0 794.5,946.8 793.5,947.0 792.5,946.1 791.5,946.7 790.5,946.3 789.5,946.1 788.5,946.0 787.5,945.6 786.5,945.8 785.5,945.3 784.5,945.6 783.5,945.2 782.5,945.2 781.5,945.1 780.5,945.3 779.5,945.4 778.5,944.9 777.5,945.1 776.5,945.1 775.5,945.5 774.5,945.2 773.5,946.0 772.5,946.2 771.5,946.4 770.5,946.4 769.5,946.7 768.5,946.8 767.5,947.2 766.5,946.8 765.5,947.5 764.5,947.8 763.5,947.3 762.5,948.1 761.5,950.7 760.5,952.3 759.5,954.4 758.5,953.9 757.5,952.7 756.5,951.9 755.5,950.9 754.5,948.9 753.5,948.3 752.5,948.3 751.5,947.9 750.5,946.7 749.5,946.6 748.5,946.1 747.5,945.5 746.5,944.2 745.5,944.3 744.5,943.8 743.5,942.7 742.5,942.6 741.5,942.3 740.5,941.9 739.5,941.7 738.5,941.3 737.5,941.0 736.5,940.8 735.5,941.3 734.5,940.9 733.5,941.3 732.5,941.8 731.5,941.9 730.5,942.2 729.5,942.4 728.5,944.9 727.5,946.7 726.5,949.3 725.5,950.9 724.5,953.5 723.5,955.4 722.5,957.8 721.5,960.3 720.5,962.5 719.5,963.1 718.5,963.1 717.5,963.9 716.5,963.6 715.5,964.2 714.5,964.4 713.5,965.3 712.5,966.3 711.5,967.1 710.5,967.3 709.5,968.2 708.5,969.3 707.5,971.1 706.5,972.0 705.5,973.8 704.5,975.6 703.5,976.8 702.5,977.8 701.5,979.3 700.5,980.8 699.5,982.5 698.5,983.2 697.5,984.2 696.5,984.9 695.5,986.2 694.5,987.1 693.5,987.6 692.5,988.1 691.5,988.8 690.5,988.3 689.5,989.1 688.5,989.0 687.5,989.4 686.5,989.2 685.5,990.3 684.5,990.7 683.5,991.6 682.5,992.7 681.5,993.4 680.5,994.1 679.5,995.1 678.5,995.8 677.5,996.7 676.5,997.1 675.5,998.2 674.5,998.3 673.5,997.9 672.5,997.1 671.5,997.2 670.5,996.5 669.5,997.1 668.5,996.6 667.5,997.1 666.5,998.0 665.5,998.5 664.5,998.6 663.5,999.9 662.5,1000.3 661.5,1000.6 660.5,1001.4 659.5,1001.8 658.5,1002.3 657.5,1002.8 656.5,1003.7 655.5,1004.3 654.5,1005.1 653.5,1005.5 652.5,1006.0 651.5,1007.3 650.5,1007.8 649.5,1008.7 648.5,1009.7 647.5,1010.5 646.5,1011.4 645.5,1012.1 644.5,1013.0 643.5,1015.1 642.5,1017.0 641.5,1018.5 640.5,1020.6 639.5,1022.4 638.5,1023.1 637.5,1023.8 636.5,1025.1 635.5,1025.8 634.5,1026.4 633.5,1027.4 632.5,1028.0 631.5,1030.1 630.5,1032.1 629.5,1033.8 628.5,1035.7 627.5,1037.6 626.5,1039.1 625.5,1040.2 624.5,1041.5 623.5,1042.2 622.5,1043.0 621.5,1044.4 620.5,1044.9 619.5,1046.0 618.5,1047.1 617.5,1048.1 616.5,1049.1 615.5,1049.5 614.5,1050.1 613.5,1051.8 612.5,1051.9 611.5,1053.2 610.5,1054.0 609.5,1053.9 608.5,1054.7 607.5,1055.1 606.5,1056.0 605.5,1056.5 604.5,1057.0 603.5,1057.5 602.5,1058.1 601.5,1059.3 600.5,1059.8 599.5,1060.0 598.5,1060.5 597.5,1061.1 596.5,1062.0 595.5,1062.1 594.5,1062.2 593.5,1063.0 592.5,1063.6 591.5,1063.7 590.5,1063.6 589.5,1064.1 588.5,1064.1 587.5,1064.4 586.5,1063.8 585.5,1064.0 584.5,1064.1 583.5,1064.4 582.5,1064.6 581.5,1064.7 580.5,1064.5 579.5,1064.5 578.5,1064.6 577.5,1064.7 576.5,1064.7 575.5,1064.8 574.5,1064.9 573.5,1064.9 572.5,1065.0 571.5,1065.0 570.5,1065.1 569.5,1065.3 568.5,1065.5 567.5,1065.8 566.5,1066.0 565.5,1066.2 564.5,1066.4 563.5,1066.6 562.5,1066.8 561.5,1067.0 560.5,1067.2 559.5,1067.4 558.5,1067.6 557.5,1067.8 556.5,1068.0 555.5,1068.1 554.5,1068.2 553.5,1068.3 552.5,1068.4 551.5,1068.5 550.5,1068.6 549.5,1068.7 548.5,1068.8 547.5,1068.9 546.5,1069.0 545.5,1069.1 544.5,1069.2 543.5,1069.3 542.5,1069.4 541.5,1069.5 540.5,1069.6 539.5,1069.7 538.5,1069.8 537.5,1069.9 536.5,1070.0 535.5,1070.0 534.5,1070.0 533.5,1070.0 532.5,1070.1 531.5,1070.1 530.5,1070.1 529.5,1070.1 528.5,1070.1 527.5,1070.1 526.5,1070.1 525.5,1070.1 524.5,1070.2 523.5,1070.2 522.5,1070.2 521.5,1070.2 520.5,1070.2 519.5,1070.2 518.5,1070.2 517.5,1070.3 516.5,1070.3 515.5,1070.3 514.5,1070.3 513.5,1070.3 512.5,1070.3 511.5,1070.3 510.5,1070.3 509.5,1070.4 508.5,1070.4 507.5,1070.4 506.5,1070.4 505.5,1070.4 504.5,1070.4 503.5,1070.4 502.5,1070.5 501.5,1070.5 500.5,1070.5 499.5,1070.5 498.5,1070.5 497.5,1070.5 496.5,1070.5 495.5,1070.6 494.5,1070.6 493.5,1070.6 492.5,1070.6 491.5,1070.6 490.5,1070.6 489.5,1070.6 488.5,1070.6 487.5,1070.7 486.5,1070.7 485.5,1070.7 484.5,1070.7 483.5,1070.7 482.5,1070.7 481.5,1070.7 480.5,1070.8 479.5,1070.8 478.5,1070.8 477.5,1070.8 476.5,1070.8 475.5,1070.8 474.5,1070.8 473.5,1070.8 472.5,1070.9 471.5,1070.9 470.5,1070.9 469.5,1070.9 468.5,1070.9 467.5,1070.9 466.5,1070.9 465.5,1071.0 464.5,1071.0 463.5,1071.0 462.5,1071.0 461.5,1071.0 460.5,1071.0 459.5,1071.0 458.5,1071.1 457.5,1071.1 456.5,1071.1 455.5,1071.1 454.5,1071.1 453.5,1071.1 452.5,1071.1 451.5,1071.1 450.5,1071.2 449.5,1071.2 448.5,1071.2 447.5,1071.2 446.5,1071.2 445.5,1071.2 444.5,1071.2 443.5,1071.3 442.5,1071.3 441.5,1071.3 440.5,1071.3 439.5,1071.3 438.5,1071.3 437.5,1071.3 436.5,1071.3 435.5,1071.3 434.5,1071.3 433.5,1071.4 432.5,1071.4 431.5,1071.4 430.5,1071.4 429.5,1071.4 428.5,1071.4 427.5,1071.4 426.5,1071.4 425.5,1071.4 424.5,1071.4 423.5,1071.4 422.5,1071.4 421.5,1071.4 420.5,1071.5 419.5,1071.5 418.5,1071.5 417.5,1071.5 416.5,1071.5 415.5,1071.5 414.5,1071.5 413.5,1071.5 412.5,1071.5 411.5,1071.5 410.5,1071.5 409.5,1071.5 408.5,1071.5 407.5,1071.6 406.5,1071.6 405.5,1071.6 404.5,1071.6 403.5,1071.6 402.5,1071.6 401.5,1071.6 400.5,1071.6 399.5,1071.6 398.5,1071.6 397.5,1071.6 396.5,1071.6 395.5,1071.6 394.5,1071.7 393.5,1071.7 392.5,1071.7 391.5,1071.7 390.5,1071.7 389.5,1071.7 388.5,1071.7 387.5,1071.7 386.5,1071.7 385.5,1071.7 384.5,1071.7 383.5,1071.7 382.5,1071.7 381.5,1071.8 380.5,1071.8 379.5,1071.8 378.5,1071.8 377.5,1071.8 376.5,1071.8 375.5,1071.8 374.5,1071.8 373.5,1071.8 372.5,1071.8 371.5,1071.8 370.5,1071.8 369.5,1071.9 368.5,1071.9 367.5,1071.9 366.5,1071.9 365.5,1071.9 364.5,1071.9 363.5,1071.9 362.5,1071.9 361.5,1071.9 360.5,1071.9 359.5,1071.9 358.5,1071.9 357.5,1071.9 356.5,1072.0 355.5,1072.0 354.5,1072.0 353.5,1072.0 352.5,1072.0 351.5,1072.0 350.5,1072.0 349.5,1072.0 348.5,1072.0 347.5,1072.0 346.5,1072.0 345.5,1072.0 344.5,1072.0 343.5,1072.1 342.5,1072.1 341.5,1072.1 340.5,1072.1 339.5,1072.1 338.5,1072.1 337.5,1072.1 336.5,1072.1 335.5,1072.1 334.5,1072.1 333.5,1072.1 332.5,1072.1 331.5,1072.1 330.5,1072.2 329.5,1072.2 328.5,1072.2 327.5,1072.2 326.5,1072.2 325.5,1072.2 324.5,1072.2 323.5,1072.2 322.5,1072.2 321.5,1072.2 320.5,1072.2 319.5,1072.2 318.5,1072.2 317.5,1072.3 316.5,1072.3 315.5,1072.3 314.5,1072.3 313.5,1072.3 312.5,1072.3 311.5,1072.3 310.5,1072.3 309.5,1072.3 308.5,1072.3 307.5,1072.3 306.5,1072.3 305.5,1072.4 304.5,1072.4 303.5,1072.4 302.5,1072.4 301.5,1072.4 300.5,1072.4 299.5,1072.4 298.5,1072.4 297.5,1072.4 296.5,1072.4 295.5,1072.4 294.5,1072.4 293.5,1072.4 292.5,1072.5 291.5,1072.5 290.5,1072.5 289.5,1072.5 288.5,1072.5 287.5,1072.5 286.5,1072.5 285.5,1072.5 284.5,1072.5 283.5,1072.5 282.5,1072.5 281.5,1072.5 280.5,1072.5 279.5,1072.5 278.5,1072.5 277.5,1072.5 276.5,1072.5 275.5,1072.5 274.5,1072.5 273.5,1072.5 272.5,1072.5 271.5,1072.5 270.5,1072.5 269.5,1072.5 268.5,1072.5 267.5,1072.5 266.5,1072.5 265.5,1072.5 264.5,1072.5 263.5,1072.5 262.5,1072.5 261.5,1072.5 260.5,1072.5 259.5,1072.5 258.5,1072.5 257.5,1072.5 256.5,1072.5 255.5,1072.5 254.5,1072.5 253.5,1072.5 252.5,1072.5 251.5,1072.5 250.5,1072.5 249.5,1072.5 248.5,1072.5 247.5,1072.5 246.5,1072.5 245.5,1072.5 244.5,1072.5 243.5,1072.5 242.5,1072.5 241.5,1072.5 240.5,1072.5 239.5,1072.5 238.5,1072.5 237.5,1072.5 236.5,1072.5 235.5,1072.5 234.5,1072.5 233.5,1072.5 232.5,1072.5 231.5,1072.5 230.5,1072.5 229.5,1072.5 228.5,1072.5 227.5,1072.5 226.5,1072.5 225.5,1072.5 224.5,1072.5 223.5,1072.5 222.5,1072.5 Z" fill="url(#gT)" fill-opacity="0.7"/>
<path d="M222.5,1072.5 223.5,1072.5 224.5,1072.5 225.5,1072.5 226.5,1072.5 227.5,1072.5 228.5,1072.5 229.5,1072.5 230.5,1072.5 231.5,1072.5 232.5,1072.5 233.5,1072.5 234.5,1072.5 235.5,1072.5 236.5,1072.5 237.5,1072.5 238.5,1072.5 239.5,1072.5 240.5,1072.5 241.5,1072.5 242.5,1072.5 243.5,1072.5 244.5,1072.5 245.5,1072.5 246.5,1072.5 247.5,1072.5 248.5,1072.5 249.5,1072.5 250.5,1072.5 251.5,1072.5 252.5,1072.5 253.5,1072.5 254.5,1072.5 255.5,1072.5 256.5,1072.5 257.5,1072.5 258.5,1072.5 259.5,1072.5 260.5,1072.5 261.5,1072.5 262.5,1072.5 263.5,1072.5 264.5,1072.5 265.5,1072.5 266.5,1072.5 267.5,1072.5 268.5,1072.5 269.5,1072.5 270.5,1072.5 271.5,1072.5 272.5,1072.5 273.5,1072.5 274.5,1072.5 275.5,1072.5 276.5,1072.5 277.5,1072.5 278.5,1072.5 279.5,1072.5 280.5,1072.5 281.5,1072.5 282.5,1072.5 283.5,1072.5 284.5,1072.5 285.5,1072.5 286.5,1072.5 287.5,1072.5 288.5,1072.5 289.5,1072.5 290.5,1072.5 291.5,1072.5 292.5,1072.5 293.5,1072.4 294.5,1072.4 295.5,1072.4 296.5,1072.4 297.5,1072.4 298.5,1072.4 299.5,1072.4 300.5,1072.4 301.5,1072.4 302.5,1072.4 303.5,1072.4 304.5,1072.4 305.5,1072.4 306.5,1072.3 307.5,1072.3 308.5,1072.3 309.5,1072.3 310.5,1072.3 311.5,1072.3 312.5,1072.3 313.5,1072.3 314.5,1072.3 315.5,1072.3 316.5,1072.3 317.5,1072.3 318.5,1072.2 319.5,1072.2 320.5,1072.2 321.5,1072.2 322.5,1072.2 323.5,1072.2 324.5,1072.2 325.5,1072.2 326.5,1072.2 327.5,1072.2 328.5,1072.2 329.5,1072.2 330.5,1072.2 331.5,1072.1 332.5,1072.1 333.5,1072.1 334.5,1072.1 335.5,1072.1 336.5,1072.1 337.5,1072.1 338.5,1072.1 339.5,1072.1 340.5,1072.1 341.5,1072.1 342.5,1072.1 343.5,1072.1 344.5,1072.0 345.5,1072.0 346.5,1072.0 347.5,1072.0 348.5,1072.0 349.5,1072.0 350.5,1072.0 351.5,1072.0 352.5,1072.0 353.5,1072.0 354.5,1072.0 355.5,1072.0 356.5,1072.0 357.5,1071.9 358.5,1071.9 359.5,1071.9 360.5,1071.9 361.5,1071.9 362.5,1071.9 363.5,1071.9 364.5,1071.9 365.5,1071.9 366.5,1071.9 367.5,1071.9 368.5,1071.9 369.5,1071.9 370.5,1071.8 371.5,1071.8 372.5,1071.8 373.5,1071.8 374.5,1071.8 375.5,1071.8 376.5,1071.8 377.5,1071.8 378.5,1071.8 379.5,1071.8 380.5,1071.8 381.5,1071.8 382.5,1071.7 383.5,1071.7 384.5,1071.7 385.5,1071.7 386.5,1071.7 387.5,1071.7 388.5,1071.7 389.5,1071.7 390.5,1071.7 391.5,1071.7 392.5,1071.7 393.5,1071.7 394.5,1071.7 395.5,1071.6 396.5,1071.6 397.5,1071.6 398.5,1071.6 399.5,1071.6 400.5,1071.6 401.5,1071.6 402.5,1071.6 403.5,1071.6 404.5,1071.6 405.5,1071.6 406.5,1071.6 407.5,1071.6 408.5,1071.5 409.5,1071.5 410.5,1071.5 411.5,1071.5 412.5,1071.5 413.5,1071.5 414.5,1071.5 415.5,1071.5 416.5,1071.5 417.5,1071.5 418.5,1071.5 419.5,1071.5 420.5,1071.5 421.5,1071.4 422.5,1071.4 423.5,1071.4 424.5,1071.4 425.5,1071.4 426.5,1071.4 427.5,1071.4 428.5,1071.4 429.5,1071.4 430.5,1071.4 431.5,1071.4 432.5,1071.4 433.5,1071.4 434.5,1071.3 435.5,1071.3 436.5,1071.3 437.5,1071.3 438.5,1071.3 439.5,1071.3 440.5,1071.3 441.5,1071.3 442.5,1071.3 443.5,1071.3 444.5,1071.2 445.5,1071.2 446.5,1071.2 447.5,1071.2 448.5,1071.2 449.5,1071.2 450.5,1071.2 451.5,1071.1 452.5,1071.1 453.5,1071.1 454.5,1071.1 455.5,1071.1 456.5,1071.1 457.5,1071.1 458.5,1071.1 459.5,1071.0 460.5,1071.0 461.5,1071.0 462.5,1071.0 463.5,1071.0 464.5,1071.0 465.5,1071.0 466.5,1070.9 467.5,1070.9 468.5,1070.9 469.5,1070.9 470.5,1070.9 471.5,1070.9 472.5,1070.9 473.5,1070.8 474.5,1070.8 475.5,1070.8 476.5,1070.8 477.5,1070.8 478.5,1070.8 479.5,1070.8 480.5,1070.8 481.5,1070.7 482.5,1070.7 483.5,1070.7 484.5,1070.7 485.5,1070.7 486.5,1070.7 487.5,1070.7 488.5,1070.6 489.5,1070.6 490.5,1070.6 491.5,1070.6 492.5,1070.6 493.5,1070.6 494.5,1070.6 495.5,1070.6 496.5,1070.5 497.5,1070.5 498.5,1070.5 499.5,1070.5 500.5,1070.5 501.5,1070.5 502.5,1070.5 503.5,1070.4 504.5,1070.4 505.5,1070.4 506.5,1070.4 507.5,1070.4 508.5,1070.4 509.5,1070.4 510.5,1070.3 511.5,1070.3 512.5,1070.3 513.5,1070.3 514.5,1070.3 515.5,1070.3 516.5,1070.3 517.5,1070.3 518.5,1070.2 519.5,1070.2 520.5,1070.2 521.5,1070.2 522.5,1070.2 523.5,1070.2 524.5,1070.2 525.5,1070.1 526.5,1070.1 527.5,1070.1 528.5,1070.1 529.5,1070.1 530.5,1070.1 531.5,1070.1 532.5,1070.1 533.5,1070.0 534.5,1070.0 535.5,1070.0 536.5,1070.0 537.5,1069.9 538.5,1069.8 539.5,1069.7 540.5,1069.6 541.5,1069.5 542.5,1069.4 543.5,1069.3 544.5,1069.2 545.5,1069.1 546.5,1069.0 547.5,1068.9 548.5,1068.8 549.5,1068.7 550.5,1068.6 551.5,1068.5 552.5,1068.4 553.5,1068.3 554.5,1068.2 555.5,1068.1 556.5,1068.0 557.5,1067.8 558.5,1067.6 559.5,1067.4 560.5,1067.2 561.5,1067.0 562.5,1066.8 563.5,1066.6 564.5,1066.4 565.5,1066.2 566.5,1066.0 567.5,1065.8 568.5,1065.5 569.5,1065.3 570.5,1065.1 571.5,1065.0 572.5,1065.0 573.5,1064.9 574.5,1064.9 575.5,1064.8 576.5,1064.7 577.5,1064.7 578.5,1064.6 579.5,1064.5 580.5,1064.5 581.5,1064.7 582.5,1064.6 583.5,1064.4 584.5,1064.1 585.5,1064.0 586.5,1063.8 587.5,1064.4 588.5,1064.1 589.5,1064.1 590.5,1063.6 591.5,1063.7 592.5,1063.6 593.5,1063.0 594.5,1062.2 595.5,1062.1 596.5,1062.0 597.5,1061.1 598.5,1060.5 599.5,1060.0 600.5,1059.8 601.5,1059.3 602.5,1058.1 603.5,1057.5 604.5,1057.0 605.5,1056.5 606.5,1056.0 607.5,1055.1 608.5,1054.7 609.5,1053.9 610.5,1054.0 611.5,1053.2 612.5,1051.9 613.5,1051.8 614.5,1050.1 615.5,1049.5 616.5,1049.1 617.5,1048.1 618.5,1047.1 619.5,1046.0 620.5,1044.9 621.5,1044.4 622.5,1043.0 623.5,1042.2 624.5,1041.5 625.5,1040.2 626.5,1039.1 627.5,1037.6 628.5,1035.7 629.5,1033.8 630.5,1032.1 631.5,1030.1 632.5,1028.0 633.5,1027.4 634.5,1026.4 635.5,1025.8 636.5,1025.1 637.5,1023.8 638.5,1023.1 639.5,1022.4 640.5,1020.6 641.5,1018.5 642.5,1017.0 643.5,1015.1 644.5,1013.0 645.5,1012.1 646.5,1011.4 647.5,1010.5 648.5,1009.7 649.5,1008.7 650.5,1007.8 651.5,1007.3 652.5,1006.0 653.5,1005.5 654.5,1005.1 655.5,1004.3 656.5,1003.7 657.5,1002.8 658.5,1002.3 659.5,1001.8 660.5,1001.4 661.5,1000.6 662.5,1000.3 663.5,999.9 664.5,998.6 665.5,998.5 666.5,998.0 667.5,997.1 668.5,996.6 669.5,997.1 670.5,996.5 671.5,997.2 672.5,997.1 673.5,997.9 674.5,998.3 675.5,998.2 676.5,997.1 677.5,996.7 678.5,995.8 679.5,995.1 680.5,994.1 681.5,993.4 682.5,992.7 683.5,991.6 684.5,990.7 685.5,990.3 686.5,989.2 687.5,989.4 688.5,989.0 689.5,989.1 690.5,988.3 691.5,988.8 692.5,988.1 693.5,987.6 694.5,987.1 695.5,986.2 696.5,984.9 697.5,984.2 698.5,983.2 699.5,982.5 700.5,980.8 701.5,979.3 702.5,977.8 703.5,976.8 704.5,975.6 705.5,973.8 706.5,972.0 707.5,971.1 708.5,969.3 709.5,968.2 710.5,967.3 711.5,967.1 712.5,966.3 713.5,965.3 714.5,964.4 715.5,964.2 716.5,963.6 717.5,963.9 718.5,963.1 719.5,963.1 720.5,962.5 721.5,960.3 722.5,957.8 723.5,955.4 724.5,953.5 725.5,950.9 726.5,949.3 727.5,946.7 728.5,944.9 729.5,942.4 730.5,942.2 731.5,941.9 732.5,941.8 733.5,941.3 734.5,940.9 735.5,941.3 736.5,940.8 737.5,941.0 738.5,941.3 739.5,941.7 740.5,941.9 741.5,942.3 742.5,942.6 743.5,942.7 744.5,943.8 745.5,944.3 746.5,944.2 747.5,945.5 748.5,946.1 749.5,946.6 750.5,946.7 751.5,947.9 752.5,948.3 753.5,948.3 754.5,948.9 755.5,950.9 756.5,951.9 757.5,952.7 758.5,953.9 759.5,954.4 760.5,952.3 761.5,950.7 762.5,948.1 763.5,947.3 764.5,947.8 765.5,947.5 766.5,946.8 767.5,947.2 768.5,946.8 769.5,946.7 770.5,946.4 771.5,946.4 772.5,946.2 773.5,946.0 774.5,945.2 775.5,945.5 776.5,945.1 777.5,945.1 778.5,944.9 779.5,945.4 780.5,945.3 781.5,945.1 782.5,945.2 783.5,945.2 784.5,945.6 785.5,945.3 786.5,945.8 787.5,945.6 788.5,946.0 789.5,946.1 790.5,946.3 791.5,946.7 792.5,946.1 793.5,947.0 794.5,946.8 795.5,947.0 796.5,947.2 797.5,947.5 798.5,947.2 799.5,947.4 800.5,948.1 801.5,947.6 802.5,948.5 803.5,948.9 804.5,948.7 805.5,949.5 806.5,950.5 807.5,951.7 808.5,952.1 809.5,953.7 810.5,954.2 811.5,955.2 812.5,956.1 813.5,956.0 814.5,957.2 815.5,957.7 816.5,958.0 817.5,959.1 818.5,958.8 819.5,957.6 820.5,956.4 821.5,955.3 822.5,954.9 823.5,955.7 824.5,956.3 825.5,957.0 826.5,957.9 827.5,958.0 828.5,959.1 829.5,959.4 830.5,960.1 831.5,960.6 832.5,961.5 833.5,962.7 834.5,963.2 835.5,964.1 836.5,964.4 837.5,965.2 838.5,965.9 839.5,966.9 840.5,967.5 841.5,968.0 842.5,967.6 843.5,968.5 844.5,969.0 845.5,969.0 846.5,968.8 847.5,969.4 848.5,969.4 849.5,970.0 850.5,971.7 851.5,972.4 852.5,973.4 853.5,974.4 854.5,975.4 855.5,976.0 856.5,976.8 857.5,977.7 858.5,978.6 859.5,979.3 860.5,982.1 861.5,984.7 862.5,988.1 863.5,990.8 864.5,994.1 865.5,996.2 866.5,997.0 867.5,997.7 868.5,999.1 869.5,1000.0 870.5,1000.5 871.5,1001.0 872.5,1002.2 873.5,1002.9 874.5,1003.5 875.5,1003.6 876.5,1004.0 877.5,1004.5 878.5,1004.8 879.5,1005.3 880.5,1005.9 881.5,1006.6 882.5,1006.2 883.5,1007.1 884.5,1007.0 885.5,1007.5 886.5,1008.5 887.5,1008.7 888.5,1009.4 889.5,1009.4 890.5,1009.4 891.5,1010.1 892.5,1010.6 893.5,1011.3 894.5,1011.7 895.5,1011.5 896.5,1011.8 897.5,1011.9 898.5,1012.7 899.5,1012.6 900.5,1012.9 901.5,1013.1 902.5,1013.4 903.5,1014.4 904.5,1014.2 905.5,1015.3 906.5,1014.8 907.5,1015.9 908.5,1015.5 909.5,1015.5 910.5,1015.9 911.5,1015.3 912.5,1015.5 913.5,1014.8 914.5,1014.5 915.5,1015.3 916.5,1015.5 917.5,1015.9 918.5,1016.0 919.5,1015.7 920.5,1016.4 921.5,1016.8 922.5,1016.8 923.5,1017.5 924.5,1017.1 925.5,1018.0 926.5,1018.0 927.5,1017.5 928.5,1017.7 929.5,1018.4 930.5,1018.8 931.5,1018.3 932.5,1018.7 933.5,1019.2 934.5,1018.9 935.5,1019.7 936.5,1019.6 937.5,1019.4 938.5,1019.8 939.5,1020.2 940.5,1020.2 941.5,1020.6 942.5,1020.3 943.5,1020.8 944.5,1020.4 945.5,1020.6 946.5,1020.6 947.5,1020.3 948.5,1020.3 949.5,1020.6 950.5,1020.7 951.5,1020.5 952.5,1020.1 953.5,1019.7 954.5,1019.3 955.5,1020.0 956.5,1019.6 957.5,1019.5 958.5,1018.9 959.5,1019.1 960.5,1019.3 961.5,1019.1 962.5,1018.8 963.5,1018.4 964.5,1018.4 965.5,1018.5 966.5,1017.7 967.5,1017.6 968.5,1017.2 969.5,1017.1 970.5,1010.6 971.5,1009.6 972.5,1008.9 973.5,1008.7 974.5,1008.4 975.5,1008.1 976.5,1007.9 977.5,1007.4 978.5,1006.0 979.5,1006.1 980.5,1005.5 981.5,1004.9 982.5,1004.0 983.5,1003.2 984.5,1003.1 985.5,1002.4 986.5,1001.7 987.5,1001.3 988.5,1000.2 989.5,999.4 990.5,999.3 991.5,999.1 992.5,998.0 993.5,998.0 994.5,997.7 995.5,996.6 996.5,996.5 997.5,996.8 998.5,996.7 999.5,996.7 1000.5,996.9 1001.5,997.5 1002.5,997.7 1003.5,997.6 1004.5,997.4 1005.5,998.3 1006.5,998.4 1007.5,998.1 1008.5,998.5 1009.5,998.9 1010.5,999.0 1011.5,998.8 1012.5,998.8 1013.5,999.1 1014.5,998.8 1015.5,998.9 1016.5,999.0 1017.5,999.6 1018.5,999.3 1019.5,999.0 1020.5,998.3 1021.5,997.9 1022.5,997.1 1023.5,996.8 1024.5,997.9 1025.5,997.5 1026.5,997.6 1027.5,998.3 1028.5,998.4 1029.5,997.3 1030.5,997.2 1031.5,996.4 1032.5,996.1 1033.5,995.1 1034.5,994.6 1035.5,995.0 1036.5,994.4 1037.5,993.8 1038.5,993.6 1039.5,993.2 1040.5,993.4 1041.5,992.9 1042.5,993.1 1043.5,992.7 1044.5,992.6 1045.5,992.5 1046.5,991.6 1047.5,991.2 1048.5,991.5 1049.5,991.6 1050.5,991.7 1051.5,991.8 1052.5,992.5 1053.5,992.9 1054.5,992.7 1055.5,993.3 1056.5,993.4 1057.5,992.8 1058.5,993.5 1059.5,992.3 1060.5,990.8 1061.5,990.4 1062.5,988.7 1063.5,988.1 1064.5,987.2 1065.5,986.6 1066.5,985.4 1067.5,984.2 1068.5,983.4 1069.5,982.2 1070.5,981.8 1071.5,980.7 1072.5,978.8 1073.5,977.5 1074.5,976.6 1075.5,975.5 1076.5,974.9 1077.5,973.8 1078.5,972.7 1079.5,971.4 1080.5,971.5 1081.5,970.8 1082.5,970.1 1083.5,969.8 1084.5,967.7 1085.5,963.9 1086.5,960.5 1087.5,958.2 1088.5,956.1 1089.5,953.9 1090.5,952.3 1091.5,950.6 1092.5,949.9 1093.5,950.4 1094.5,950.6 1095.5,950.8 1096.5,951.4 1097.5,951.4 1098.5,950.9 1099.5,949.9 1100.5,949.4 1101.5,947.9 1102.5,947.6 1103.5,946.2 1104.5,945.1 1105.5,945.0 1106.5,943.4 1107.5,943.1 1108.5,943.4 1109.5,943.9 1110.5,943.7 1111.5,944.5 1112.5,944.7 1113.5,946.0 1114.5,945.3 1115.5,944.3 1116.5,943.2 1117.5,942.6 1118.5,943.5 1119.5,943.7 1120.5,944.3 1121.5,944.4 1122.5,944.9 1123.5,945.3 1124.5,945.3 1125.5,944.5 1126.5,943.6 1127.5,943.6 1128.5,942.5 1129.5,942.0 1130.5,941.7 1131.5,941.8 1132.5,942.3 1133.5,941.9 1134.5,941.7 1135.5,942.0 1136.5,941.8 1137.5,942.4 1138.5,941.5 1139.5,941.7 1140.5,940.4 1141.5,940.7 1142.5,940.0 1143.0,939.3 L1143.0,1032.6 1142.5,1032.4 1141.5,1032.3 1140.5,1031.9 1139.5,1031.9 1138.5,1032.1 1137.5,1032.4 1136.5,1032.0 1135.5,1032.3 1134.5,1032.0 1133.5,1032.3 1132.5,1031.6 1131.5,1031.7 1130.5,1032.1 1129.5,1031.9 1128.5,1032.3 1127.5,1032.9 1126.5,1033.0 1125.5,1032.9 1124.5,1033.0 1123.5,1033.4 1122.5,1033.4 1121.5,1034.0 1120.5,1033.8 1119.5,1034.0 1118.5,1034.2 1117.5,1034.6 1116.5,1034.5 1115.5,1034.6 1114.5,1035.0 1113.5,1034.6 1112.5,1034.1 1111.5,1033.6 1110.5,1033.2 1109.5,1033.2 1108.5,1033.0 1107.5,1032.3 1106.5,1032.5 1105.5,1032.5 1104.5,1032.9 1103.5,1032.7 1102.5,1032.6 1101.5,1032.8 1100.5,1033.2 1099.5,1033.3 1098.5,1033.1 1097.5,1033.2 1096.5,1033.2 1095.5,1033.5 1094.5,1033.5 1093.5,1034.2 1092.5,1034.8 1091.5,1035.2 1090.5,1036.4 1089.5,1036.5 1088.5,1036.3 1087.5,1036.6 1086.5,1037.0 1085.5,1036.8 1084.5,1037.3 1083.5,1037.2 1082.5,1037.6 1081.5,1037.2 1080.5,1037.3 1079.5,1037.5 1078.5,1037.5 1077.5,1038.2 1076.5,1038.5 1075.5,1039.1 1074.5,1039.4 1073.5,1039.7 1072.5,1040.9 1071.5,1041.2 1070.5,1041.8 1069.5,1042.0 1068.5,1042.7 1067.5,1043.6 1066.5,1043.8 1065.5,1044.3 1064.5,1044.9 1063.5,1045.1 1062.5,1044.7 1061.5,1044.8 1060.5,1044.8 1059.5,1044.8 1058.5,1045.2 1057.5,1045.0 1056.5,1045.2 1055.5,1045.0 1054.5,1045.5 1053.5,1045.0 1052.5,1045.4 1051.5,1045.6 1050.5,1045.6 1049.5,1045.6 1048.5,1045.6 1047.5,1045.6 1046.5,1045.6 1045.5,1045.8 1044.5,1046.1 1043.5,1046.0 1042.5,1045.9 1041.5,1045.9 1040.5,1046.2 1039.5,1046.8 1038.5,1046.8 1037.5,1047.0 1036.5,1047.0 1035.5,1047.5 1034.5,1047.5 1033.5,1047.9 1032.5,1048.2 1031.5,1048.5 1030.5,1048.1 1029.5,1048.0 1028.5,1048.5 1027.5,1048.2 1026.5,1048.1 1025.5,1048.1 1024.5,1048.3 1023.5,1048.4 1022.5,1048.4 1021.5,1048.3 1020.5,1048.3 1019.5,1047.8 1018.5,1048.3 1017.5,1048.0 1016.5,1047.9 1015.5,1047.8 1014.5,1047.9 1013.5,1048.2 1012.5,1048.2 1011.5,1047.9 1010.5,1047.7 1009.5,1047.5 1008.5,1048.1 1007.5,1047.9 1006.5,1048.2 1005.5,1048.1 1004.5,1047.6 1003.5,1047.8 1002.5,1047.9 1001.5,1048.2 1000.5,1047.9 999.5,1048.2 998.5,1048.5 997.5,1048.0 996.5,1048.1 995.5,1048.5 994.5,1048.5 993.5,1048.2 992.5,1048.7 991.5,1048.1 990.5,1049.0 989.5,1050.0 988.5,1051.1 987.5,1051.2 986.5,1051.0 985.5,1050.8 984.5,1051.4 983.5,1051.1 982.5,1051.1 981.5,1051.6 980.5,1051.3 979.5,1051.5 978.5,1051.2 977.5,1051.6 976.5,1051.9 975.5,1051.9 974.5,1051.7 973.5,1051.6 972.5,1052.2 971.5,1051.7 970.5,1052.4 969.5,1052.0 968.5,1058.0 967.5,1057.7 966.5,1057.7 965.5,1057.8 964.5,1057.7 963.5,1057.6 962.5,1057.7 961.5,1057.2 960.5,1057.6 959.5,1057.7 958.5,1057.2 957.5,1057.3 956.5,1057.7 955.5,1057.8 954.5,1057.6 953.5,1057.7 952.5,1057.7 951.5,1057.4 950.5,1057.1 949.5,1057.1 948.5,1057.2 947.5,1057.8 946.5,1057.3 945.5,1057.4 944.5,1057.2 943.5,1057.8 942.5,1057.6 941.5,1057.4 940.5,1057.2 939.5,1057.1 938.5,1057.3 937.5,1057.5 936.5,1057.0 935.5,1057.3 934.5,1056.9 933.5,1056.9 932.5,1057.2 931.5,1056.8 930.5,1057.2 929.5,1056.7 928.5,1056.8 927.5,1056.9 926.5,1056.9 925.5,1056.4 924.5,1056.5 923.5,1056.2 922.5,1055.9 921.5,1055.5 920.5,1055.5 919.5,1055.8 918.5,1055.4 917.5,1055.0 916.5,1054.9 915.5,1054.9 914.5,1054.6 913.5,1054.1 912.5,1055.0 911.5,1056.0 910.5,1056.3 909.5,1055.6 908.5,1055.4 907.5,1055.4 906.5,1055.5 905.5,1055.2 904.5,1055.3 903.5,1054.7 902.5,1054.4 901.5,1054.1 900.5,1054.3 899.5,1053.9 898.5,1053.8 897.5,1053.8 896.5,1053.6 895.5,1053.1 894.5,1052.9 893.5,1053.2 892.5,1052.9 891.5,1052.5 890.5,1052.2 889.5,1052.1 888.5,1052.2 887.5,1052.2 886.5,1051.5 885.5,1051.7 884.5,1050.9 883.5,1051.1 882.5,1050.8 881.5,1050.8 880.5,1050.6 879.5,1050.4 878.5,1050.4 877.5,1050.0 876.5,1049.7 875.5,1049.2 874.5,1049.0 873.5,1048.9 872.5,1049.2 871.5,1048.9 870.5,1048.7 869.5,1048.5 868.5,1047.9 867.5,1047.4 866.5,1047.6 865.5,1047.3 864.5,1047.3 863.5,1046.9 862.5,1046.2 861.5,1045.9 860.5,1046.3 859.5,1045.9 858.5,1044.6 857.5,1042.9 856.5,1041.5 855.5,1040.0 854.5,1038.7 853.5,1037.3 852.5,1036.4 851.5,1035.0 850.5,1034.8 849.5,1034.4 848.5,1034.9 847.5,1034.4 846.5,1034.1 845.5,1034.2 844.5,1034.1 843.5,1034.1 842.5,1034.0 841.5,1033.9 840.5,1034.0 839.5,1033.8 838.5,1033.2 837.5,1032.5 836.5,1032.1 835.5,1031.6 834.5,1031.3 833.5,1030.7 832.5,1028.7 831.5,1026.2 830.5,1025.0 829.5,1025.1 828.5,1024.8 827.5,1024.0 826.5,1023.9 825.5,1024.0 824.5,1023.2 823.5,1022.9 822.5,1022.6 821.5,1022.5 820.5,1022.4 819.5,1022.3 818.5,1022.7 817.5,1022.6 816.5,1023.2 815.5,1023.2 814.5,1023.1 813.5,1023.2 812.5,1023.5 811.5,1023.4 810.5,1024.1 809.5,1023.6 808.5,1024.0 807.5,1024.4 806.5,1024.6 805.5,1024.6 804.5,1024.9 803.5,1024.6 802.5,1025.2 801.5,1025.3 800.5,1025.7 799.5,1025.9 798.5,1025.9 797.5,1026.2 796.5,1026.4 795.5,1026.6 794.5,1026.4 793.5,1026.5 792.5,1026.9 791.5,1026.9 790.5,1027.1 789.5,1027.7 788.5,1027.4 787.5,1027.9 786.5,1027.6 785.5,1027.7 784.5,1028.0 783.5,1028.2 782.5,1028.3 781.5,1028.6 780.5,1029.0 779.5,1028.7 778.5,1028.8 777.5,1028.9 776.5,1029.5 775.5,1029.5 774.5,1029.8 773.5,1029.3 772.5,1030.0 771.5,1030.0 770.5,1029.6 769.5,1030.3 768.5,1030.0 767.5,1030.1 766.5,1030.1 765.5,1030.3 764.5,1030.5 763.5,1030.6 762.5,1030.4 761.5,1030.5 760.5,1030.9 759.5,1026.5 758.5,1024.9 757.5,1025.0 756.5,1025.0 755.5,1024.5 754.5,1024.6 753.5,1023.9 752.5,1024.3 751.5,1023.8 750.5,1023.4 749.5,1023.5 748.5,1023.1 747.5,1023.4 746.5,1022.7 745.5,1022.6 744.5,1022.5 743.5,1022.7 742.5,1022.5 741.5,1022.2 740.5,1021.8 739.5,1022.4 738.5,1022.4 737.5,1021.8 736.5,1022.2 735.5,1021.6 734.5,1021.8 733.5,1021.8 732.5,1021.8 731.5,1021.8 730.5,1023.0 729.5,1024.1 728.5,1025.1 727.5,1025.8 726.5,1026.7 725.5,1027.2 724.5,1027.7 723.5,1027.6 722.5,1028.0 721.5,1027.8 720.5,1027.8 719.5,1027.8 718.5,1028.3 717.5,1028.4 716.5,1028.6 715.5,1028.6 714.5,1028.6 713.5,1028.9 712.5,1029.3 711.5,1029.9 710.5,1030.1 709.5,1030.1 708.5,1030.8 707.5,1030.8 706.5,1031.0 705.5,1031.5 704.5,1032.1 703.5,1032.0 702.5,1032.8 701.5,1033.0 700.5,1033.3 699.5,1033.8 698.5,1034.2 697.5,1034.0 696.5,1034.6 695.5,1035.1 694.5,1035.3 693.5,1035.6 692.5,1035.9 691.5,1036.4 690.5,1036.2 689.5,1036.6 688.5,1036.8 687.5,1037.0 686.5,1037.4 685.5,1038.0 684.5,1038.2 683.5,1038.5 682.5,1038.5 681.5,1038.9 680.5,1039.1 679.5,1039.3 678.5,1039.3 677.5,1039.5 676.5,1039.4 675.5,1040.1 674.5,1040.2 673.5,1040.3 672.5,1040.7 671.5,1040.9 670.5,1040.5 669.5,1041.1 668.5,1041.4 667.5,1041.3 666.5,1042.2 665.5,1042.1 664.5,1042.4 663.5,1043.1 662.5,1043.2 661.5,1043.5 660.5,1043.9 659.5,1044.0 658.5,1044.3 657.5,1044.2 656.5,1044.5 655.5,1044.5 654.5,1044.8 653.5,1045.3 652.5,1045.3 651.5,1045.6 650.5,1045.6 649.5,1046.2 648.5,1046.1 647.5,1046.5 646.5,1046.7 645.5,1046.8 644.5,1046.7 643.5,1047.1 642.5,1047.2 641.5,1047.9 640.5,1047.5 639.5,1047.9 638.5,1048.6 637.5,1049.0 636.5,1049.0 635.5,1049.5 634.5,1049.7 633.5,1050.3 632.5,1050.9 631.5,1052.7 630.5,1054.5 629.5,1056.6 628.5,1058.6 627.5,1059.0 626.5,1059.0 625.5,1059.6 624.5,1060.1 623.5,1061.0 622.5,1061.0 621.5,1061.5 620.5,1062.0 619.5,1062.7 618.5,1063.2 617.5,1063.9 616.5,1064.4 615.5,1065.0 614.5,1065.1 613.5,1066.1 612.5,1066.4 611.5,1066.6 610.5,1066.7 609.5,1067.2 608.5,1067.1 607.5,1067.2 606.5,1067.7 605.5,1067.3 604.5,1068.1 603.5,1067.9 602.5,1067.9 601.5,1068.3 600.5,1068.6 599.5,1068.3 598.5,1068.6 597.5,1068.6 596.5,1069.0 595.5,1069.1 594.5,1069.5 593.5,1069.5 592.5,1070.0 591.5,1069.8 590.5,1069.9 589.5,1069.9 588.5,1069.8 587.5,1070.0 586.5,1070.0 585.5,1070.1 584.5,1070.4 583.5,1070.1 582.5,1070.3 581.5,1070.8 580.5,1070.6 579.5,1070.6 578.5,1070.6 577.5,1070.7 576.5,1070.7 575.5,1070.8 574.5,1070.8 573.5,1070.9 572.5,1070.9 571.5,1071.0 570.5,1071.0 569.5,1071.1 568.5,1071.1 567.5,1071.2 566.5,1071.2 565.5,1071.3 564.5,1071.3 563.5,1071.4 562.5,1071.4 561.5,1071.5 560.5,1071.5 559.5,1071.6 558.5,1071.6 557.5,1071.6 556.5,1071.7 555.5,1071.7 554.5,1071.8 553.5,1071.8 552.5,1071.9 551.5,1071.9 550.5,1072.0 549.5,1072.0 548.5,1072.1 547.5,1072.1 546.5,1072.2 545.5,1072.2 544.5,1072.3 543.5,1072.3 542.5,1072.4 541.5,1072.4 540.5,1072.5 539.5,1072.5 538.5,1072.5 537.5,1072.5 536.5,1072.5 535.5,1072.5 534.5,1072.5 533.5,1072.5 532.5,1072.5 531.5,1072.5 530.5,1072.5 529.5,1072.5 528.5,1072.5 527.5,1072.5 526.5,1072.5 525.5,1072.5 524.5,1072.5 523.5,1072.5 522.5,1072.5 521.5,1072.5 520.5,1072.5 519.5,1072.5 518.5,1072.5 517.5,1072.5 516.5,1072.5 515.5,1072.5 514.5,1072.5 513.5,1072.5 512.5,1072.5 511.5,1072.5 510.5,1072.5 509.5,1072.5 508.5,1072.5 507.5,1072.5 506.5,1072.5 505.5,1072.5 504.5,1072.5 503.5,1072.5 502.5,1072.5 501.5,1072.5 500.5,1072.5 499.5,1072.5 498.5,1072.5 497.5,1072.5 496.5,1072.5 495.5,1072.5 494.5,1072.5 493.5,1072.5 492.5,1072.5 491.5,1072.5 490.5,1072.5 489.5,1072.5 488.5,1072.5 487.5,1072.5 486.5,1072.5 485.5,1072.5 484.5,1072.5 483.5,1072.5 482.5,1072.5 481.5,1072.5 480.5,1072.5 479.5,1072.5 478.5,1072.5 477.5,1072.5 476.5,1072.5 475.5,1072.5 474.5,1072.5 473.5,1072.5 472.5,1072.5 471.5,1072.5 470.5,1072.5 469.5,1072.5 468.5,1072.5 467.5,1072.5 466.5,1072.5 465.5,1072.5 464.5,1072.5 463.5,1072.5 462.5,1072.5 461.5,1072.5 460.5,1072.5 459.5,1072.5 458.5,1072.5 457.5,1072.5 456.5,1072.5 455.5,1072.5 454.5,1072.5 453.5,1072.5 452.5,1072.5 451.5,1072.5 450.5,1072.5 449.5,1072.5 448.5,1072.5 447.5,1072.5 446.5,1072.5 445.5,1072.5 444.5,1072.5 443.5,1072.5 442.5,1072.5 441.5,1072.5 440.5,1072.5 439.5,1072.5 438.5,1072.5 437.5,1072.5 436.5,1072.5 435.5,1072.5 434.5,1072.5 433.5,1072.5 432.5,1072.5 431.5,1072.5 430.5,1072.5 429.5,1072.5 428.5,1072.5 427.5,1072.5 426.5,1072.5 425.5,1072.5 424.5,1072.5 423.5,1072.5 422.5,1072.5 421.5,1072.5 420.5,1072.5 419.5,1072.5 418.5,1072.5 417.5,1072.5 416.5,1072.5 415.5,1072.5 414.5,1072.5 413.5,1072.5 412.5,1072.5 411.5,1072.5 410.5,1072.5 409.5,1072.5 408.5,1072.5 407.5,1072.5 406.5,1072.5 405.5,1072.5 404.5,1072.5 403.5,1072.5 402.5,1072.5 401.5,1072.5 400.5,1072.5 399.5,1072.5 398.5,1072.5 397.5,1072.5 396.5,1072.5 395.5,1072.5 394.5,1072.5 393.5,1072.5 392.5,1072.5 391.5,1072.5 390.5,1072.5 389.5,1072.5 388.5,1072.5 387.5,1072.5 386.5,1072.5 385.5,1072.5 384.5,1072.5 383.5,1072.5 382.5,1072.5 381.5,1072.5 380.5,1072.5 379.5,1072.5 378.5,1072.5 377.5,1072.5 376.5,1072.5 375.5,1072.5 374.5,1072.5 373.5,1072.5 372.5,1072.5 371.5,1072.5 370.5,1072.5 369.5,1072.5 368.5,1072.5 367.5,1072.5 366.5,1072.5 365.5,1072.5 364.5,1072.5 363.5,1072.5 362.5,1072.5 361.5,1072.5 360.5,1072.5 359.5,1072.5 358.5,1072.5 357.5,1072.5 356.5,1072.5 355.5,1072.5 354.5,1072.5 353.5,1072.5 352.5,1072.5 351.5,1072.5 350.5,1072.5 349.5,1072.5 348.5,1072.5 347.5,1072.5 346.5,1072.5 345.5,1072.5 344.5,1072.5 343.5,1072.5 342.5,1072.5 341.5,1072.5 340.5,1072.5 339.5,1072.5 338.5,1072.5 337.5,1072.5 336.5,1072.5 335.5,1072.5 334.5,1072.5 333.5,1072.5 332.5,1072.5 331.5,1072.5 330.5,1072.5 329.5,1072.5 328.5,1072.5 327.5,1072.5 326.5,1072.5 325.5,1072.5 324.5,1072.5 323.5,1072.5 322.5,1072.5 321.5,1072.5 320.5,1072.5 319.5,1072.5 318.5,1072.5 317.5,1072.5 316.5,1072.5 315.5,1072.5 314.5,1072.5 313.5,1072.5 312.5,1072.5 311.5,1072.5 310.5,1072.5 309.5,1072.5 308.5,1072.5 307.5,1072.5 306.5,1072.5 305.5,1072.5 304.5,1072.5 303.5,1072.5 302.5,1072.5 301.5,1072.5 300.5,1072.5 299.5,1072.5 298.5,1072.5 297.5,1072.5 296.5,1072.5 295.5,1072.5 294.5,1072.5 293.5,1072.5 292.5,1072.5 291.5,1072.5 290.5,1072.5 289.5,1072.5 288.5,1072.5 287.5,1072.5 286.5,1072.5 285.5,1072.5 284.5,1072.5 283.5,1072.5 282.5,1072.5 281.5,1072.5 280.5,1072.5 279.5,1072.5 278.5,1072.5 277.5,1072.5 276.5,1072.5 275.5,1072.5 274.5,1072.5 273.5,1072.5 272.5,1072.5 271.5,1072.5 270.5,1072.5 269.5,1072.5 268.5,1072.5 267.5,1072.5 266.5,1072.5 265.5,1072.5 264.5,1072.5 263.5,1072.5 262.5,1072.5 261.5,1072.5 260.5,1072.5 259.5,1072.5 258.5,1072.5 257.5,1072.5 256.5,1072.5 255.5,1072.5 254.5,1072.5 253.5,1072.5 252.5,1072.5 251.5,1072.5 250.5,1072.5 249.5,1072.5 248.5,1072.5 247.5,1072.5 246.5,1072.5 245.5,1072.5 244.5,1072.5 243.5,1072.5 242.5,1072.5 241.5,1072.5 240.5,1072.5 239.5,1072.5 238.5,1072.5 237.5,1072.5 236.5,1072.5 235.5,1072.5 234.5,1072.5 233.5,1072.5 232.5,1072.5 231.5,1072.5 230.5,1072.5 229.5,1072.5 228.5,1072.5 227.5,1072.5 226.5,1072.5 225.5,1072.5 224.5,1072.5 223.5,1072.5 222.5,1072.5 Z" fill="url(#gC)" fill-opacity="0.7"/>
<path d="M222.5,1072.5 223.5,1072.5 224.5,1072.5 225.5,1072.5 226.5,1072.5 227.5,1072.5 228.5,1072.5 229.5,1072.5 230.5,1072.5 231.5,1072.5 232.5,1072.5 233.5,1072.5 234.5,1072.5 235.5,1072.5 236.5,1072.5 237.5,1072.5 238.5,1072.5 239.5,1072.5 240.5,1072.5 241.5,1072.5 242.5,1072.5 243.5,1072.5 244.5,1072.5 245.5,1072.5 246.5,1072.5 247.5,1072.5 248.5,1072.5 249.5,1072.5 250.5,1072.5 251.5,1072.5 252.5,1072.5 253.5,1072.5 254.5,1072.5 255.5,1072.5 256.5,1072.5 257.5,1072.5 258.5,1072.5 259.5,1072.5 260.5,1072.5 261.5,1072.5 262.5,1072.5 263.5,1072.5 264.5,1072.5 265.5,1072.5 266.5,1072.5 267.5,1072.5 268.5,1072.5 269.5,1072.5 270.5,1072.5 271.5,1072.5 272.5,1072.5 273.5,1072.5 274.5,1072.5 275.5,1072.5 276.5,1072.5 277.5,1072.5 278.5,1072.5 279.5,1072.5 280.5,1072.5 281.5,1072.5 282.5,1072.5 283.5,1072.5 284.5,1072.5 285.5,1072.5 286.5,1072.5 287.5,1072.5 288.5,1072.5 289.5,1072.5 290.5,1072.5 291.5,1072.5 292.5,1072.5 293.5,1072.5 294.5,1072.5 295.5,1072.5 296.5,1072.5 297.5,1072.5 298.5,1072.5 299.5,1072.5 300.5,1072.5 301.5,1072.5 302.5,1072.5 303.5,1072.5 304.5,1072.5 305.5,1072.5 306.5,1072.5 307.5,1072.5 308.5,1072.5 309.5,1072.5 310.5,1072.5 311.5,1072.5 312.5,1072.5 313.5,1072.5 314.5,1072.5 315.5,1072.5 316.5,1072.5 317.5,1072.5 318.5,1072.5 319.5,1072.5 320.5,1072.5 321.5,1072.5 322.5,1072.5 323.5,1072.5 324.5,1072.5 325.5,1072.5 326.5,1072.5 327.5,1072.5 328.5,1072.5 329.5,1072.5 330.5,1072.5 331.5,1072.5 332.5,1072.5 333.5,1072.5 334.5,1072.5 335.5,1072.5 336.5,1072.5 337.5,1072.5 338.5,1072.5 339.5,1072.5 340.5,1072.5 341.5,1072.5 342.5,1072.5 343.5,1072.5 344.5,1072.5 345.5,1072.5 346.5,1072.5 347.5,1072.5 348.5,1072.5 349.5,1072.5 350.5,1072.5 351.5,1072.5 352.5,1072.5 353.5,1072.5 354.5,1072.5 355.5,1072.5 356.5,1072.5 357.5,1072.5 358.5,1072.5 359.5,1072.5 360.5,1072.5 361.5,1072.5 362.5,1072.5 363.5,1072.5 364.5,1072.5 365.5,1072.5 366.5,1072.5 367.5,1072.5 368.5,1072.5 369.5,1072.5 370.5,1072.5 371.5,1072.5 372.5,1072.5 373.5,1072.5 374.5,1072.5 375.5,1072.5 376.5,1072.5 377.5,1072.5 378.5,1072.5 379.5,1072.5 380.5,1072.5 381.5,1072.5 382.5,1072.5 383.5,1072.5 384.5,1072.5 385.5,1072.5 386.5,1072.5 387.5,1072.5 388.5,1072.5 389.5,1072.5 390.5,1072.5 391.5,1072.5 392.5,1072.5 393.5,1072.5 394.5,1072.5 395.5,1072.5 396.5,1072.5 397.5,1072.5 398.5,1072.5 399.5,1072.5 400.5,1072.5 401.5,1072.5 402.5,1072.5 403.5,1072.5 404.5,1072.5 405.5,1072.5 406.5,1072.5 407.5,1072.5 408.5,1072.5 409.5,1072.5 410.5,1072.5 411.5,1072.5 412.5,1072.5 413.5,1072.5 414.5,1072.5 415.5,1072.5 416.5,1072.5 417.5,1072.5 418.5,1072.5 419.5,1072.5 420.5,1072.5 421.5,1072.5 422.5,1072.5 423.5,1072.5 424.5,1072.5 425.5,1072.5 426.5,1072.5 427.5,1072.5 428.5,1072.5 429.5,1072.5 430.5,1072.5 431.5,1072.5 432.5,1072.5 433.5,1072.5 434.5,1072.5 435.5,1072.5 436.5,1072.5 437.5,1072.5 438.5,1072.5 439.5,1072.5 440.5,1072.5 441.5,1072.5 442.5,1072.5 443.5,1072.5 444.5,1072.5 445.5,1072.5 446.5,1072.5 447.5,1072.5 448.5,1072.5 449.5,1072.5 450.5,1072.5 451.5,1072.5 452.5,1072.5 453.5,1072.5 454.5,1072.5 455.5,1072.5 456.5,1072.5 457.5,1072.5 458.5,1072.5 459.5,1072.5 460.5,1072.5 461.5,1072.5 462.5,1072.5 463.5,1072.5 464.5,1072.5 465.5,1072.5 466.5,1072.5 467.5,1072.5 468.5,1072.5 469.5,1072.5 470.5,1072.5 471.5,1072.5 472.5,1072.5 473.5,1072.5 474.5,1072.5 475.5,1072.5 476.5,1072.5 477.5,1072.5 478.5,1072.5 479.5,1072.5 480.5,1072.5 481.5,1072.5 482.5,1072.5 483.5,1072.5 484.5,1072.5 485.5,1072.5 486.5,1072.5 487.5,1072.5 488.5,1072.5 489.5,1072.5 490.5,1072.5 491.5,1072.5 492.5,1072.5 493.5,1072.5 494.5,1072.5 495.5,1072.5 496.5,1072.5 497.5,1072.5 498.5,1072.5 499.5,1072.5 500.5,1072.5 501.5,1072.5 502.5,1072.5 503.5,1072.5 504.5,1072.5 505.5,1072.5 506.5,1072.5 507.5,1072.5 508.5,1072.5 509.5,1072.5 510.5,1072.5 511.5,1072.5 512.5,1072.5 513.5,1072.5 514.5,1072.5 515.5,1072.5 516.5,1072.5 517.5,1072.5 518.5,1072.5 519.5,1072.5 520.5,1072.5 521.5,1072.5 522.5,1072.5 523.5,1072.5 524.5,1072.5 525.5,1072.5 526.5,1072.5 527.5,1072.5 528.5,1072.5 529.5,1072.5 530.5,1072.5 531.5,1072.5 532.5,1072.5 533.5,1072.5 534.5,1072.5 535.5,1072.5 536.5,1072.5 537.5,1072.5 538.5,1072.5 539.5,1072.5 540.5,1072.5 541.5,1072.4 542.5,1072.4 543.5,1072.3 544.5,1072.3 545.5,1072.2 546.5,1072.2 547.5,1072.1 548.5,1072.1 549.5,1072.0 550.5,1072.0 551.5,1071.9 552.5,1071.9 553.5,1071.8 554.5,1071.8 555.5,1071.7 556.5,1071.7 557.5,1071.6 558.5,1071.6 559.5,1071.6 560.5,1071.5 561.5,1071.5 562.5,1071.4 563.5,1071.4 564.5,1071.3 565.5,1071.3 566.5,1071.2 567.5,1071.2 568.5,1071.1 569.5,1071.1 570.5,1071.0 571.5,1071.0 572.5,1070.9 573.5,1070.9 574.5,1070.8 575.5,1070.8 576.5,1070.7 577.5,1070.7 578.5,1070.6 579.5,1070.6 580.5,1070.6 581.5,1070.8 582.5,1070.3 583.5,1070.1 584.5,1070.4 585.5,1070.1 586.5,1070.0 587.5,1070.0 588.5,1069.8 589.5,1069.9 590.5,1069.9 591.5,1069.8 592.5,1070.0 593.5,1069.5 594.5,1069.5 595.5,1069.1 596.5,1069.0 597.5,1068.6 598.5,1068.6 599.5,1068.3 600.5,1068.6 601.5,1068.3 602.5,1067.9 603.5,1067.9 604.5,1068.1 605.5,1067.3 606.5,1067.7 607.5,1067.2 608.5,1067.1 609.5,1067.2 610.5,1066.7 611.5,1066.6 612.5,1066.4 613.5,1066.1 614.5,1065.1 615.5,1065.0 616.5,1064.4 617.5,1063.9 618.5,1063.2 619.5,1062.7 620.5,1062.0 621.5,1061.5 622.5,1061.0 623.5,1061.0 624.5,1060.1 625.5,1059.6 626.5,1059.0 627.5,1059.0 628.5,1058.6 629.5,1056.6 630.5,1054.5 631.5,1052.7 632.5,1050.9 633.5,1050.3 634.5,1049.7 635.5,1049.5 636.5,1049.0 637.5,1049.0 638.5,1048.6 639.5,1047.9 640.5,1047.5 641.5,1047.9 642.5,1047.2 643.5,1047.1 644.5,1046.7 645.5,1046.8 646.5,1046.7 647.5,1046.5 648.5,1046.1 649.5,1046.2 650.5,1045.6 651.5,1045.6 652.5,1045.3 653.5,1045.3 654.5,1044.8 655.5,1044.5 656.5,1044.5 657.5,1044.2 658.5,1044.3 659.5,1044.0 660.5,1043.9 661.5,1043.5 662.5,1043.2 663.5,1043.1 664.5,1042.4 665.5,1042.1 666.5,1042.2 667.5,1041.3 668.5,1041.4 669.5,1041.1 670.5,1040.5 671.5,1040.9 672.5,1040.7 673.5,1040.3 674.5,1040.2 675.5,1040.1 676.5,1039.4 677.5,1039.5 678.5,1039.3 679.5,1039.3 680.5,1039.1 681.5,1038.9 682.5,1038.5 683.5,1038.5 684.5,1038.2 685.5,1038.0 686.5,1037.4 687.5,1037.0 688.5,1036.8 689.5,1036.6 690.5,1036.2 691.5,1036.4 692.5,1035.9 693.5,1035.6 694.5,1035.3 695.5,1035.1 696.5,1034.6 697.5,1034.0 698.5,1034.2 699.5,1033.8 700.5,1033.3 701.5,1033.0 702.5,1032.8 703.5,1032.0 704.5,1032.1 705.5,1031.5 706.5,1031.0 707.5,1030.8 708.5,1030.8 709.5,1030.1 710.5,1030.1 711.5,1029.9 712.5,1029.3 713.5,1028.9 714.5,1028.6 715.5,1028.6 716.5,1028.6 717.5,1028.4 718.5,1028.3 719.5,1027.8 720.5,1027.8 721.5,1027.8 722.5,1028.0 723.5,1027.6 724.5,1027.7 725.5,1027.2 726.5,1026.7 727.5,1025.8 728.5,1025.1 729.5,1024.1 730.5,1023.0 731.5,1021.8 732.5,1021.8 733.5,1021.8 734.5,1021.8 735.5,1021.6 736.5,1022.2 737.5,1021.8 738.5,1022.4 739.5,1022.4 740.5,1021.8 741.5,1022.2 742.5,1022.5 743.5,1022.7 744.5,1022.5 745.5,1022.6 746.5,1022.7 747.5,1023.4 748.5,1023.1 749.5,1023.5 750.5,1023.4 751.5,1023.8 752.5,1024.3 753.5,1023.9 754.5,1024.6 755.5,1024.5 756.5,1025.0 757.5,1025.0 758.5,1024.9 759.5,1026.5 760.5,1030.9 761.5,1030.5 762.5,1030.4 763.5,1030.6 764.5,1030.5 765.5,1030.3 766.5,1030.1 767.5,1030.1 768.5,1030.0 769.5,1030.3 770.5,1029.6 771.5,1030.0 772.5,1030.0 773.5,1029.3 774.5,1029.8 775.5,1029.5 776.5,1029.5 777.5,1028.9 778.5,1028.8 779.5,1028.7 780.5,1029.0 781.5,1028.6 782.5,1028.3 783.5,1028.2 784.5,1028.0 785.5,1027.7 786.5,1027.6 787.5,1027.9 788.5,1027.4 789.5,1027.7 790.5,1027.1 791.5,1026.9 792.5,1026.9 793.5,1026.5 794.5,1026.4 795.5,1026.6 796.5,1026.4 797.5,1026.2 798.5,1025.9 799.5,1025.9 800.5,1025.7 801.5,1025.3 802.5,1025.2 803.5,1024.6 804.5,1024.9 805.5,1024.6 806.5,1024.6 807.5,1024.4 808.5,1024.0 809.5,1023.6 810.5,1024.1 811.5,1023.4 812.5,1023.5 813.5,1023.2 814.5,1023.1 815.5,1023.2 816.5,1023.2 817.5,1022.6 818.5,1022.7 819.5,1022.3 820.5,1022.4 821.5,1022.5 822.5,1022.6 823.5,1022.9 824.5,1023.2 825.5,1024.0 826.5,1023.9 827.5,1024.0 828.5,1024.8 829.5,1025.1 830.5,1025.0 831.5,1026.2 832.5,1028.7 833.5,1030.7 834.5,1031.3 835.5,1031.6 836.5,1032.1 837.5,1032.5 838.5,1033.2 839.5,1033.8 840.5,1034.0 841.5,1033.9 842.5,1034.0 843.5,1034.1 844.5,1034.1 845.5,1034.2 846.5,1034.1 847.5,1034.4 848.5,1034.9 849.5,1034.4 850.5,1034.8 851.5,1035.0 852.5,1036.4 853.5,1037.3 854.5,1038.7 855.5,1040.0 856.5,1041.5 857.5,1042.9 858.5,1044.6 859.5,1045.9 860.5,1046.3 861.5,1045.9 862.5,1046.2 863.5,1046.9 864.5,1047.3 865.5,1047.3 866.5,1047.6 867.5,1047.4 868.5,1047.9 869.5,1048.5 870.5,1048.7 871.5,1048.9 872.5,1049.2 873.5,1048.9 874.5,1049.0 875.5,1049.2 876.5,1049.7 877.5,1050.0 878.5,1050.4 879.5,1050.4 880.5,1050.6 881.5,1050.8 882.5,1050.8 883.5,1051.1 884.5,1050.9 885.5,1051.7 886.5,1051.5 887.5,1052.2 888.5,1052.2 889.5,1052.1 890.5,1052.2 891.5,1052.5 892.5,1052.9 893.5,1053.2 894.5,1052.9 895.5,1053.1 896.5,1053.6 897.5,1053.8 898.5,1053.8 899.5,1053.9 900.5,1054.3 901.5,1054.1 902.5,1054.4 903.5,1054.7 904.5,1055.3 905.5,1055.2 906.5,1055.5 907.5,1055.4 908.5,1055.4 909.5,1055.6 910.5,1056.3 911.5,1056.0 912.5,1055.0 913.5,1054.1 914.5,1054.6 915.5,1054.9 916.5,1054.9 917.5,1055.0 918.5,1055.4 919.5,1055.8 920.5,1055.5 921.5,1055.5 922.5,1055.9 923.5,1056.2 924.5,1056.5 925.5,1056.4 926.5,1056.9 927.5,1056.9 928.5,1056.8 929.5,1056.7 930.5,1057.2 931.5,1056.8 932.5,1057.2 933.5,1056.9 934.5,1056.9 935.5,1057.3 936.5,1057.0 937.5,1057.5 938.5,1057.3 939.5,1057.1 940.5,1057.2 941.5,1057.4 942.5,1057.6 943.5,1057.8 944.5,1057.2 945.5,1057.4 946.5,1057.3 947.5,1057.8 948.5,1057.2 949.5,1057.1 950.5,1057.1 951.5,1057.4 952.5,1057.7 953.5,1057.7 954.5,1057.6 955.5,1057.8 956.5,1057.7 957.5,1057.3 958.5,1057.2 959.5,1057.7 960.5,1057.6 961.5,1057.2 962.5,1057.7 963.5,1057.6 964.5,1057.7 965.5,1057.8 966.5,1057.7 967.5,1057.7 968.5,1058.0 969.5,1052.0 970.5,1052.4 971.5,1051.7 972.5,1052.2 973.5,1051.6 974.5,1051.7 975.5,1051.9 976.5,1051.9 977.5,1051.6 978.5,1051.2 979.5,1051.5 980.5,1051.3 981.5,1051.6 982.5,1051.1 983.5,1051.1 984.5,1051.4 985.5,1050.8 986.5,1051.0 987.5,1051.2 988.5,1051.1 989.5,1050.0 990.5,1049.0 991.5,1048.1 992.5,1048.7 993.5,1048.2 994.5,1048.5 995.5,1048.5 996.5,1048.1 997.5,1048.0 998.5,1048.5 999.5,1048.2 1000.5,1047.9 1001.5,1048.2 1002.5,1047.9 1003.5,1047.8 1004.5,1047.6 1005.5,1048.1 1006.5,1048.2 1007.5,1047.9 1008.5,1048.1 1009.5,1047.5 1010.5,1047.7 1011.5,1047.9 1012.5,1048.2 1013.5,1048.2 1014.5,1047.9 1015.5,1047.8 1016.5,1047.9 1017.5,1048.0 1018.5,1048.3 1019.5,1047.8 1020.5,1048.3 1021.5,1048.3 1022.5,1048.4 1023.5,1048.4 1024.5,1048.3 1025.5,1048.1 1026.5,1048.1 1027.5,1048.2 1028.5,1048.5 1029.5,1048.0 1030.5,1048.1 1031.5,1048.5 1032.5,1048.2 1033.5,1047.9 1034.5,1047.5 1035.5,1047.5 1036.5,1047.0 1037.5,1047.0 1038.5,1046.8 1039.5,1046.8 1040.5,1046.2 1041.5,1045.9 1042.5,1045.9 1043.5,1046.0 1044.5,1046.1 1045.5,1045.8 1046.5,1045.6 1047.5,1045.6 1048.5,1045.6 1049.5,1045.6 1050.5,1045.6 1051.5,1045.6 1052.5,1045.4 1053.5,1045.0 1054.5,1045.5 1055.5,1045.0 1056.5,1045.2 1057.5,1045.0 1058.5,1045.2 1059.5,1044.8 1060.5,1044.8 1061.5,1044.8 1062.5,1044.7 1063.5,1045.1 1064.5,1044.9 1065.5,1044.3 1066.5,1043.8 1067.5,1043.6 1068.5,1042.7 1069.5,1042.0 1070.5,1041.8 1071.5,1041.2 1072.5,1040.9 1073.5,1039.7 1074.5,1039.4 1075.5,1039.1 1076.5,1038.5 1077.5,1038.2 1078.5,1037.5 1079.5,1037.5 1080.5,1037.3 1081.5,1037.2 1082.5,1037.6 1083.5,1037.2 1084.5,1037.3 1085.5,1036.8 1086.5,1037.0 1087.5,1036.6 1088.5,1036.3 1089.5,1036.5 1090.5,1036.4 1091.5,1035.2 1092.5,1034.8 1093.5,1034.2 1094.5,1033.5 1095.5,1033.5 1096.5,1033.2 1097.5,1033.2 1098.5,1033.1 1099.5,1033.3 1100.5,1033.2 1101.5,1032.8 1102.5,1032.6 1103.5,1032.7 1104.5,1032.9 1105.5,1032.5 1106.5,1032.5 1107.5,1032.3 1108.5,1033.0 1109.5,1033.2 1110.5,1033.2 1111.5,1033.6 1112.5,1034.1 1113.5,1034.6 1114.5,1035.0 1115.5,1034.6 1116.5,1034.5 1117.5,1034.6 1118.5,1034.2 1119.5,1034.0 1120.5,1033.8 1121.5,1034.0 1122.5,1033.4 1123.5,1033.4 1124.5,1033.0 1125.5,1032.9 1126.5,1033.0 1127.5,1032.9 1128.5,1032.3 1129.5,1031.9 1130.5,1032.1 1131.5,1031.7 1132.5,1031.6 1133.5,1032.3 1134.5,1032.0 1135.5,1032.3 1136.5,1032.0 1137.5,1032.4 1138.5,1032.1 1139.5,1031.9 1140.5,1031.9 1141.5,1032.3 1142.5,1032.4 1143.0,1032.6 L1143.0,1044.8 1142.5,1044.7 1141.5,1044.6 1140.5,1044.5 1139.5,1044.4 1138.5,1044.3 1137.5,1044.2 1136.5,1044.1 1135.5,1044.0 1134.5,1043.9 1133.5,1043.8 1132.5,1043.7 1131.5,1043.6 1130.5,1043.6 1129.5,1043.7 1128.5,1043.9 1127.5,1044.1 1126.5,1044.3 1125.5,1044.5 1124.5,1044.7 1123.5,1044.9 1122.5,1045.0 1121.5,1045.2 1120.5,1045.4 1119.5,1045.6 1118.5,1045.8 1117.5,1046.0 1116.5,1045.9 1115.5,1045.8 1114.5,1045.7 1113.5,1045.5 1112.5,1045.4 1111.5,1045.3 1110.5,1045.2 1109.5,1045.0 1108.5,1044.9 1107.5,1044.8 1106.5,1045.0 1105.5,1045.1 1104.5,1045.2 1103.5,1045.4 1102.5,1045.5 1101.5,1045.7 1100.5,1045.8 1099.5,1045.9 1098.5,1046.0 1097.5,1045.9 1096.5,1045.9 1095.5,1045.8 1094.5,1045.8 1093.5,1045.7 1092.5,1045.6 1091.5,1045.6 1090.5,1045.5 1089.5,1045.5 1088.5,1045.4 1087.5,1045.4 1086.5,1045.3 1085.5,1045.3 1084.5,1045.2 1083.5,1045.2 1082.5,1045.1 1081.5,1045.0 1080.5,1045.0 1079.5,1044.9 1078.5,1044.9 1077.5,1044.8 1076.5,1045.0 1075.5,1045.5 1074.5,1045.9 1073.5,1046.4 1072.5,1046.9 1071.5,1047.3 1070.5,1047.8 1069.5,1048.2 1068.5,1048.7 1067.5,1049.1 1066.5,1049.6 1065.5,1050.0 1064.5,1050.5 1063.5,1051.0 1062.5,1051.4 1061.5,1051.5 1060.5,1051.5 1059.5,1051.6 1058.5,1051.6 1057.5,1051.6 1056.5,1051.6 1055.5,1051.6 1054.5,1051.7 1053.5,1051.7 1052.5,1051.7 1051.5,1051.7 1050.5,1051.7 1049.5,1051.8 1048.5,1051.8 1047.5,1051.8 1046.5,1051.8 1045.5,1051.8 1044.5,1051.9 1043.5,1051.9 1042.5,1051.9 1041.5,1051.9 1040.5,1051.9 1039.5,1052.0 1038.5,1052.0 1037.5,1052.0 1036.5,1052.0 1035.5,1052.0 1034.5,1052.1 1033.5,1052.1 1032.5,1052.1 1031.5,1052.1 1030.5,1052.2 1029.5,1052.2 1028.5,1052.2 1027.5,1052.2 1026.5,1052.3 1025.5,1052.3 1024.5,1052.3 1023.5,1052.3 1022.5,1052.4 1021.5,1052.4 1020.5,1052.4 1019.5,1052.4 1018.5,1052.5 1017.5,1052.5 1016.5,1052.5 1015.5,1052.5 1014.5,1052.6 1013.5,1052.6 1012.5,1052.6 1011.5,1052.6 1010.5,1052.7 1009.5,1052.7 1008.5,1052.7 1007.5,1052.7 1006.5,1052.7 1005.5,1052.7 1004.5,1052.7 1003.5,1052.7 1002.5,1052.7 1001.5,1052.7 1000.5,1052.7 999.5,1052.7 998.5,1052.7 997.5,1052.7 996.5,1052.7 995.5,1052.7 994.5,1052.7 993.5,1052.9 992.5,1053.5 991.5,1054.2 990.5,1054.8 989.5,1055.4 988.5,1055.8 987.5,1056.0 986.5,1056.1 985.5,1056.2 984.5,1056.3 983.5,1056.5 982.5,1056.6 981.5,1056.7 980.5,1056.8 979.5,1057.0 978.5,1057.1 977.5,1057.2 976.5,1057.3 975.5,1057.4 974.5,1057.6 973.5,1057.7 972.5,1057.8 971.5,1057.9 970.5,1058.1 969.5,1058.2 968.5,1062.3 967.5,1062.4 966.5,1062.4 965.5,1062.4 964.5,1062.5 963.5,1062.5 962.5,1062.5 961.5,1062.6 960.5,1062.6 959.5,1062.6 958.5,1062.6 957.5,1062.5 956.5,1062.5 955.5,1062.5 954.5,1062.4 953.5,1062.4 952.5,1062.4 951.5,1062.3 950.5,1062.3 949.5,1062.3 948.5,1062.3 947.5,1062.2 946.5,1062.2 945.5,1062.2 944.5,1062.1 943.5,1062.1 942.5,1062.1 941.5,1062.0 940.5,1062.0 939.5,1062.0 938.5,1061.9 937.5,1061.9 936.5,1061.8 935.5,1061.8 934.5,1061.8 933.5,1061.7 932.5,1061.7 931.5,1061.6 930.5,1061.6 929.5,1061.5 928.5,1061.5 927.5,1061.4 926.5,1061.4 925.5,1061.3 924.5,1061.3 923.5,1061.3 922.5,1061.2 921.5,1061.2 920.5,1061.1 919.5,1061.1 918.5,1061.0 917.5,1061.0 916.5,1060.9 915.5,1060.9 914.5,1060.9 913.5,1060.8 912.5,1060.8 911.5,1060.7 910.5,1060.8 909.5,1060.9 908.5,1061.0 907.5,1061.2 906.5,1061.3 905.5,1061.4 904.5,1062.0 903.5,1061.9 902.5,1061.8 901.5,1061.6 900.5,1061.5 899.5,1061.3 898.5,1061.2 897.5,1061.0 896.5,1060.9 895.5,1060.7 894.5,1060.6 893.5,1060.5 892.5,1060.3 891.5,1060.2 890.5,1060.0 889.5,1059.9 888.5,1059.7 887.5,1059.6 886.5,1059.4 885.5,1059.3 884.5,1059.1 883.5,1058.9 882.5,1058.8 881.5,1058.6 880.5,1058.5 879.5,1058.3 878.5,1058.2 877.5,1058.0 876.5,1057.9 875.5,1057.7 874.5,1057.6 873.5,1057.4 872.5,1057.3 871.5,1057.1 870.5,1057.0 869.5,1056.8 868.5,1056.7 867.5,1056.5 866.5,1056.3 865.5,1056.2 864.5,1056.0 863.5,1055.8 862.5,1055.7 861.5,1055.5 860.5,1055.3 859.5,1055.2 858.5,1055.0 857.5,1053.3 856.5,1051.7 855.5,1050.0 854.5,1048.3 853.5,1046.7 852.5,1045.0 851.5,1043.5 850.5,1043.5 849.5,1043.4 848.5,1043.4 847.5,1043.3 846.5,1043.3 845.5,1043.3 844.5,1043.2 843.5,1043.2 842.5,1043.1 841.5,1043.1 840.5,1043.1 839.5,1043.0 838.5,1042.7 837.5,1042.2 836.5,1041.7 835.5,1041.2 834.5,1040.7 833.5,1040.2 832.5,1038.1 831.5,1035.6 830.5,1034.3 829.5,1034.0 828.5,1033.7 827.5,1033.4 826.5,1033.1 825.5,1032.9 824.5,1032.6 823.5,1032.3 822.5,1032.0 821.5,1031.8 820.5,1031.5 819.5,1031.9 818.5,1032.3 817.5,1032.7 816.5,1033.0 815.5,1033.4 814.5,1033.8 813.5,1034.2 812.5,1034.5 811.5,1034.9 810.5,1035.1 809.5,1035.3 808.5,1035.4 807.5,1035.6 806.5,1035.8 805.5,1036.0 804.5,1036.2 803.5,1036.4 802.5,1036.5 801.5,1036.7 800.5,1036.9 799.5,1037.2 798.5,1037.5 797.5,1037.8 796.5,1038.2 795.5,1038.5 794.5,1038.9 793.5,1039.2 792.5,1039.5 791.5,1039.9 790.5,1040.2 789.5,1040.6 788.5,1040.7 787.5,1040.8 786.5,1040.8 785.5,1040.8 784.5,1040.9 783.5,1040.9 782.5,1040.9 781.5,1041.0 780.5,1041.0 779.5,1041.0 778.5,1041.1 777.5,1041.1 776.5,1041.2 775.5,1041.2 774.5,1041.1 773.5,1041.1 772.5,1041.0 771.5,1040.9 770.5,1040.8 769.5,1040.8 768.5,1040.7 767.5,1040.6 766.5,1040.6 765.5,1040.5 764.5,1040.4 763.5,1040.3 762.5,1040.3 761.5,1040.2 760.5,1040.1 759.5,1039.1 758.5,1038.8 757.5,1038.8 756.5,1038.7 755.5,1038.6 754.5,1038.6 753.5,1038.5 752.5,1038.4 751.5,1038.4 750.5,1038.3 749.5,1038.2 748.5,1038.2 747.5,1038.1 746.5,1038.0 745.5,1038.0 744.5,1037.9 743.5,1037.8 742.5,1037.8 741.5,1037.8 740.5,1037.8 739.5,1037.8 738.5,1037.8 737.5,1037.8 736.5,1037.8 735.5,1037.8 734.5,1037.8 733.5,1037.8 732.5,1037.8 731.5,1037.8 730.5,1037.9 729.5,1038.7 728.5,1039.5 727.5,1040.4 726.5,1041.2 725.5,1042.0 724.5,1042.8 723.5,1043.5 722.5,1043.4 721.5,1043.4 720.5,1043.3 719.5,1043.3 718.5,1043.2 717.5,1043.2 716.5,1043.1 715.5,1043.1 714.5,1043.0 713.5,1043.2 712.5,1043.5 711.5,1043.7 710.5,1043.9 709.5,1044.2 708.5,1044.4 707.5,1044.6 706.5,1044.9 705.5,1045.1 704.5,1045.3 703.5,1045.6 702.5,1045.8 701.5,1046.0 700.5,1046.3 699.5,1046.5 698.5,1046.7 697.5,1047.0 696.5,1047.1 695.5,1047.2 694.5,1047.3 693.5,1047.4 692.5,1047.5 691.5,1047.6 690.5,1047.7 689.5,1047.8 688.5,1047.8 687.5,1047.9 686.5,1048.0 685.5,1048.1 684.5,1048.2 683.5,1048.3 682.5,1048.4 681.5,1048.5 680.5,1048.6 679.5,1048.7 678.5,1048.8 677.5,1048.9 676.5,1049.0 675.5,1049.1 674.5,1049.2 673.5,1049.3 672.5,1049.4 671.5,1049.5 670.5,1049.6 669.5,1049.7 668.5,1049.8 667.5,1049.9 666.5,1050.0 665.5,1050.1 664.5,1050.2 663.5,1050.3 662.5,1050.5 661.5,1050.9 660.5,1051.3 659.5,1051.6 658.5,1051.8 657.5,1052.1 656.5,1052.3 655.5,1052.6 654.5,1052.8 653.5,1053.1 652.5,1053.3 651.5,1053.5 650.5,1053.8 649.5,1054.0 648.5,1054.3 647.5,1054.5 646.5,1054.8 645.5,1054.9 644.5,1055.0 643.5,1055.2 642.5,1055.3 641.5,1055.4 640.5,1055.5 639.5,1055.6 638.5,1055.7 637.5,1055.8 636.5,1055.9 635.5,1056.0 634.5,1056.1 633.5,1056.1 632.5,1056.3 631.5,1057.0 630.5,1057.6 629.5,1058.3 628.5,1058.9 627.5,1059.6 626.5,1060.2 625.5,1060.8 624.5,1061.5 623.5,1062.1 622.5,1062.8 621.5,1063.4 620.5,1064.1 619.5,1064.7 618.5,1065.2 617.5,1065.5 616.5,1065.7 615.5,1066.0 614.5,1066.3 613.5,1066.5 612.5,1066.8 611.5,1067.1 610.5,1067.3 609.5,1067.6 608.5,1067.9 607.5,1068.1 606.5,1068.4 605.5,1068.7 604.5,1068.9 603.5,1069.2 602.5,1069.5 601.5,1069.7 600.5,1070.0 599.5,1070.3 598.5,1070.5 597.5,1070.7 596.5,1070.8 595.5,1070.9 594.5,1071.0 593.5,1071.1 592.5,1071.2 591.5,1071.3 590.5,1071.4 589.5,1071.5 588.5,1071.5 587.5,1071.6 586.5,1071.6 585.5,1071.7 584.5,1071.7 583.5,1071.7 582.5,1071.8 581.5,1071.8 580.5,1071.8 579.5,1071.8 578.5,1071.9 577.5,1071.9 576.5,1072.0 575.5,1072.0 574.5,1072.0 573.5,1072.0 572.5,1072.1 571.5,1072.1 570.5,1072.2 569.5,1072.2 568.5,1072.2 567.5,1072.2 566.5,1072.3 565.5,1072.3 564.5,1072.3 563.5,1072.4 562.5,1072.4 561.5,1072.5 560.5,1072.5 559.5,1072.5 558.5,1072.5 557.5,1072.5 556.5,1072.5 555.5,1072.5 554.5,1072.5 553.5,1072.5 552.5,1072.5 551.5,1072.5 550.5,1072.5 549.5,1072.5 548.5,1072.5 547.5,1072.5 546.5,1072.5 545.5,1072.5 544.5,1072.5 543.5,1072.5 542.5,1072.5 541.5,1072.5 540.5,1072.5 539.5,1072.5 538.5,1072.5 537.5,1072.5 536.5,1072.5 535.5,1072.5 534.5,1072.5 533.5,1072.5 532.5,1072.5 531.5,1072.5 530.5,1072.5 529.5,1072.5 528.5,1072.5 527.5,1072.5 526.5,1072.5 525.5,1072.5 524.5,1072.5 523.5,1072.5 522.5,1072.5 521.5,1072.5 520.5,1072.5 519.5,1072.5 518.5,1072.5 517.5,1072.5 516.5,1072.5 515.5,1072.5 514.5,1072.5 513.5,1072.5 512.5,1072.5 511.5,1072.5 510.5,1072.5 509.5,1072.5 508.5,1072.5 507.5,1072.5 506.5,1072.5 505.5,1072.5 504.5,1072.5 503.5,1072.5 502.5,1072.5 501.5,1072.5 500.5,1072.5 499.5,1072.5 498.5,1072.5 497.5,1072.5 496.5,1072.5 495.5,1072.5 494.5,1072.5 493.5,1072.5 492.5,1072.5 491.5,1072.5 490.5,1072.5 489.5,1072.5 488.5,1072.5 487.5,1072.5 486.5,1072.5 485.5,1072.5 484.5,1072.5 483.5,1072.5 482.5,1072.5 481.5,1072.5 480.5,1072.5 479.5,1072.5 478.5,1072.5 477.5,1072.5 476.5,1072.5 475.5,1072.5 474.5,1072.5 473.5,1072.5 472.5,1072.5 471.5,1072.5 470.5,1072.5 469.5,1072.5 468.5,1072.5 467.5,1072.5 466.5,1072.5 465.5,1072.5 464.5,1072.5 463.5,1072.5 462.5,1072.5 461.5,1072.5 460.5,1072.5 459.5,1072.5 458.5,1072.5 457.5,1072.5 456.5,1072.5 455.5,1072.5 454.5,1072.5 453.5,1072.5 452.5,1072.5 451.5,1072.5 450.5,1072.5 449.5,1072.5 448.5,1072.5 447.5,1072.5 446.5,1072.5 445.5,1072.5 444.5,1072.5 443.5,1072.5 442.5,1072.5 441.5,1072.5 440.5,1072.5 439.5,1072.5 438.5,1072.5 437.5,1072.5 436.5,1072.5 435.5,1072.5 434.5,1072.5 433.5,1072.5 432.5,1072.5 431.5,1072.5 430.5,1072.5 429.5,1072.5 428.5,1072.5 427.5,1072.5 426.5,1072.5 425.5,1072.5 424.5,1072.5 423.5,1072.5 422.5,1072.5 421.5,1072.5 420.5,1072.5 419.5,1072.5 418.5,1072.5 417.5,1072.5 416.5,1072.5 415.5,1072.5 414.5,1072.5 413.5,1072.5 412.5,1072.5 411.5,1072.5 410.5,1072.5 409.5,1072.5 408.5,1072.5 407.5,1072.5 406.5,1072.5 405.5,1072.5 404.5,1072.5 403.5,1072.5 402.5,1072.5 401.5,1072.5 400.5,1072.5 399.5,1072.5 398.5,1072.5 397.5,1072.5 396.5,1072.5 395.5,1072.5 394.5,1072.5 393.5,1072.5 392.5,1072.5 391.5,1072.5 390.5,1072.5 389.5,1072.5 388.5,1072.5 387.5,1072.5 386.5,1072.5 385.5,1072.5 384.5,1072.5 383.5,1072.5 382.5,1072.5 381.5,1072.5 380.5,1072.5 379.5,1072.5 378.5,1072.5 377.5,1072.5 376.5,1072.5 375.5,1072.5 374.5,1072.5 373.5,1072.5 372.5,1072.5 371.5,1072.5 370.5,1072.5 369.5,1072.5 368.5,1072.5 367.5,1072.5 366.5,1072.5 365.5,1072.5 364.5,1072.5 363.5,1072.5 362.5,1072.5 361.5,1072.5 360.5,1072.5 359.5,1072.5 358.5,1072.5 357.5,1072.5 356.5,1072.5 355.5,1072.5 354.5,1072.5 353.5,1072.5 352.5,1072.5 351.5,1072.5 350.5,1072.5 349.5,1072.5 348.5,1072.5 347.5,1072.5 346.5,1072.5 345.5,1072.5 344.5,1072.5 343.5,1072.5 342.5,1072.5 341.5,1072.5 340.5,1072.5 339.5,1072.5 338.5,1072.5 337.5,1072.5 336.5,1072.5 335.5,1072.5 334.5,1072.5 333.5,1072.5 332.5,1072.5 331.5,1072.5 330.5,1072.5 329.5,1072.5 328.5,1072.5 327.5,1072.5 326.5,1072.5 325.5,1072.5 324.5,1072.5 323.5,1072.5 322.5,1072.5 321.5,1072.5 320.5,1072.5 319.5,1072.5 318.5,1072.5 317.5,1072.5 316.5,1072.5 315.5,1072.5 314.5,1072.5 313.5,1072.5 312.5,1072.5 311.5,1072.5 310.5,1072.5 309.5,1072.5 308.5,1072.5 307.5,1072.5 306.5,1072.5 305.5,1072.5 304.5,1072.5 303.5,1072.5 302.5,1072.5 301.5,1072.5 300.5,1072.5 299.5,1072.5 298.5,1072.5 297.5,1072.5 296.5,1072.5 295.5,1072.5 294.5,1072.5 293.5,1072.5 292.5,1072.5 291.5,1072.5 290.5,1072.5 289.5,1072.5 288.5,1072.5 287.5,1072.5 286.5,1072.5 285.5,1072.5 284.5,1072.5 283.5,1072.5 282.5,1072.5 281.5,1072.5 280.5,1072.5 279.5,1072.5 278.5,1072.5 277.5,1072.5 276.5,1072.5 275.5,1072.5 274.5,1072.5 273.5,1072.5 272.5,1072.5 271.5,1072.5 270.5,1072.5 269.5,1072.5 268.5,1072.5 267.5,1072.5 266.5,1072.5 265.5,1072.5 264.5,1072.5 263.5,1072.5 262.5,1072.5 261.5,1072.5 260.5,1072.5 259.5,1072.5 258.5,1072.5 257.5,1072.5 256.5,1072.5 255.5,1072.5 254.5,1072.5 253.5,1072.5 252.5,1072.5 251.5,1072.5 250.5,1072.5 249.5,1072.5 248.5,1072.5 247.5,1072.5 246.5,1072.5 245.5,1072.5 244.5,1072.5 243.5,1072.5 242.5,1072.5 241.5,1072.5 240.5,1072.5 239.5,1072.5 238.5,1072.5 237.5,1072.5 236.5,1072.5 235.5,1072.5 234.5,1072.5 233.5,1072.5 232.5,1072.5 231.5,1072.5 230.5,1072.5 229.5,1072.5 228.5,1072.5 227.5,1072.5 226.5,1072.5 225.5,1072.5 224.5,1072.5 223.5,1072.5 222.5,1072.5 Z" fill="url(#gO)" fill-opacity="0.7"/>
<path d="M969.5,1058.2 970.5,1058.1 971.5,1057.9 972.5,1057.8 973.5,1057.7 974.5,1057.6 975.5,1057.4 976.5,1057.3 977.5,1057.2 978.5,1057.1 979.5,1057.0 980.5,1056.8 981.5,1056.7 982.5,1056.6 983.5,1056.5 984.5,1056.3 985.5,1056.2 986.5,1056.1 987.5,1056.0 988.5,1055.8 989.5,1055.4 990.5,1054.8 991.5,1054.2 992.5,1053.5 993.5,1052.9 994.5,1052.7 995.5,1052.7 996.5,1052.7 997.5,1052.7 998.5,1052.7 999.5,1052.7 1000.5,1052.7 1001.5,1052.7 1002.5,1052.7 1003.5,1052.7 1004.5,1052.7 1005.5,1052.7 1006.5,1052.7 1007.5,1052.7 1008.5,1052.7 1009.5,1052.7 1010.5,1052.7 1011.5,1052.6 1012.5,1052.6 1013.5,1052.6 1014.5,1052.6 1015.5,1052.5 1016.5,1052.5 1017.5,1052.5 1018.5,1052.5 1019.5,1052.4 1020.5,1052.4 1021.5,1052.4 1022.5,1052.4 1023.5,1052.3 1024.5,1052.3 1025.5,1052.3 1026.5,1052.3 1027.5,1052.2 1028.5,1052.2 1029.5,1052.2 1030.5,1052.2 1031.5,1052.1 1032.5,1052.1 1033.5,1052.1 1034.5,1052.1 1035.5,1052.0 1036.5,1052.0 1037.5,1052.0 1038.5,1052.0 1039.5,1052.0 1040.5,1051.9 1041.5,1051.9 1042.5,1051.9 1043.5,1051.9 1044.5,1051.9 1045.5,1051.8 1046.5,1051.8 1047.5,1051.8 1048.5,1051.8 1049.5,1051.8 1050.5,1051.7 1051.5,1051.7 1052.5,1051.7 1053.5,1051.7 1054.5,1051.7 1055.5,1051.6 1056.5,1051.6 1057.5,1051.6 1058.5,1051.6 1059.5,1051.6 1060.5,1051.5 1061.5,1051.5 1062.5,1051.4 1063.5,1051.0 1064.5,1050.5 1065.5,1050.0 1066.5,1049.6 1067.5,1049.1 1068.5,1048.7 1069.5,1048.2 1070.5,1047.8 1071.5,1047.3 1072.5,1046.9 1073.5,1046.4 1074.5,1045.9 1075.5,1045.5 1076.5,1045.0 1077.5,1044.8 1078.5,1044.9 1079.5,1044.9 1080.5,1045.0 1081.5,1045.0 1082.5,1045.1 1083.5,1045.2 1084.5,1045.2 1085.5,1045.3 1086.5,1045.3 1087.5,1045.4 1088.5,1045.4 1089.5,1045.5 1090.5,1045.5 1091.5,1045.6 1092.5,1045.6 1093.5,1045.7 1094.5,1045.8 1095.5,1045.8 1096.5,1045.9 1097.5,1045.9 1098.5,1046.0 1099.5,1045.9 1100.5,1045.8 1101.5,1045.7 1102.5,1045.5 1103.5,1045.4 1104.5,1045.2 1105.5,1045.1 1106.5,1045.0 1107.5,1044.8 1108.5,1044.9 1109.5,1045.0 1110.5,1045.2 1111.5,1045.3 1112.5,1045.4 1113.5,1045.5 1114.5,1045.7 1115.5,1045.8 1116.5,1045.9 1117.5,1046.0 1118.5,1045.8 1119.5,1045.6 1120.5,1045.4 1121.5,1045.2 1122.5,1045.0 1123.5,1044.9 1124.5,1044.7 1125.5,1044.5 1126.5,1044.3 1127.5,1044.1 1128.5,1043.9 1129.5,1043.7 1130.5,1043.6 1131.5,1043.6 1132.5,1043.7 1133.5,1043.8 1134.5,1043.9 1135.5,1044.0 1136.5,1044.1 1137.5,1044.2 1138.5,1044.3 1139.5,1044.4 1140.5,1044.5 1141.5,1044.6 1142.5,1044.7 1143.0,1044.8 L1143.0,1052.7 1142.5,1052.7 1141.5,1052.7 1140.5,1052.8 1139.5,1052.8 1138.5,1052.8 1137.5,1052.8 1136.5,1052.9 1135.5,1052.9 1134.5,1052.9 1133.5,1052.9 1132.5,1052.9 1131.5,1053.0 1130.5,1053.0 1129.5,1053.0 1128.5,1053.0 1127.5,1053.1 1126.5,1053.1 1125.5,1053.1 1124.5,1053.1 1123.5,1053.2 1122.5,1053.2 1121.5,1053.2 1120.5,1053.2 1119.5,1053.2 1118.5,1053.3 1117.5,1053.3 1116.5,1053.3 1115.5,1053.2 1114.5,1053.1 1113.5,1053.1 1112.5,1053.0 1111.5,1053.0 1110.5,1052.9 1109.5,1052.9 1108.5,1052.8 1107.5,1052.8 1106.5,1052.7 1105.5,1053.0 1104.5,1053.3 1103.5,1053.6 1102.5,1053.9 1101.5,1054.3 1100.5,1054.6 1099.5,1054.9 1098.5,1055.1 1097.5,1055.0 1096.5,1055.0 1095.5,1054.9 1094.5,1054.8 1093.5,1054.8 1092.5,1054.7 1091.5,1054.7 1090.5,1054.6 1089.5,1054.6 1088.5,1054.5 1087.5,1054.4 1086.5,1054.4 1085.5,1054.3 1084.5,1054.3 1083.5,1054.2 1082.5,1054.1 1081.5,1054.1 1080.5,1054.0 1079.5,1054.0 1078.5,1053.9 1077.5,1054.1 1076.5,1054.3 1075.5,1054.6 1074.5,1054.8 1073.5,1055.1 1072.5,1055.4 1071.5,1055.6 1070.5,1055.9 1069.5,1056.1 1068.5,1056.4 1067.5,1056.4 1066.5,1056.4 1065.5,1056.3 1064.5,1056.3 1063.5,1056.3 1062.5,1056.3 1061.5,1056.3 1060.5,1056.3 1059.5,1056.2 1058.5,1056.2 1057.5,1056.2 1056.5,1056.2 1055.5,1056.2 1054.5,1056.1 1053.5,1056.1 1052.5,1056.1 1051.5,1056.1 1050.5,1056.1 1049.5,1056.0 1048.5,1056.0 1047.5,1056.0 1046.5,1056.0 1045.5,1056.0 1044.5,1055.9 1043.5,1055.9 1042.5,1055.9 1041.5,1055.9 1040.5,1055.9 1039.5,1055.9 1038.5,1055.8 1037.5,1055.8 1036.5,1055.8 1035.5,1056.1 1034.5,1056.4 1033.5,1056.6 1032.5,1056.9 1031.5,1057.2 1030.5,1057.5 1029.5,1057.7 1028.5,1058.0 1027.5,1058.3 1026.5,1058.6 1025.5,1058.8 1024.5,1058.6 1023.5,1058.5 1022.5,1058.3 1021.5,1058.2 1020.5,1058.0 1019.5,1057.9 1018.5,1057.8 1017.5,1057.6 1016.5,1057.5 1015.5,1057.3 1014.5,1057.2 1013.5,1057.0 1012.5,1056.9 1011.5,1056.8 1010.5,1056.7 1009.5,1056.6 1008.5,1056.5 1007.5,1056.5 1006.5,1056.4 1005.5,1056.3 1004.5,1056.2 1003.5,1056.1 1002.5,1056.0 1001.5,1055.9 1000.5,1055.8 999.5,1055.7 998.5,1055.6 997.5,1055.5 996.5,1055.4 995.5,1055.4 994.5,1055.3 993.5,1055.4 992.5,1056.2 991.5,1056.9 990.5,1057.6 989.5,1058.4 988.5,1058.8 987.5,1058.8 986.5,1058.7 985.5,1058.7 984.5,1058.7 983.5,1058.6 982.5,1058.6 981.5,1058.6 980.5,1058.5 979.5,1058.5 978.5,1058.5 977.5,1058.4 976.5,1058.4 975.5,1058.4 974.5,1058.4 973.5,1058.3 972.5,1058.3 971.5,1058.3 970.5,1058.2 969.5,1058.2 Z" fill="url(#gK1)" fill-opacity="0.85"/>
<path d="M969.5,1058.2 970.5,1058.2 971.5,1058.3 972.5,1058.3 973.5,1058.3 974.5,1058.4 975.5,1058.4 976.5,1058.4 977.5,1058.4 978.5,1058.5 979.5,1058.5 980.5,1058.5 981.5,1058.6 982.5,1058.6 983.5,1058.6 984.5,1058.7 985.5,1058.7 986.5,1058.7 987.5,1058.8 988.5,1058.8 989.5,1058.4 990.5,1057.6 991.5,1056.9 992.5,1056.2 993.5,1055.4 994.5,1055.3 995.5,1055.4 996.5,1055.4 997.5,1055.5 998.5,1055.6 999.5,1055.7 1000.5,1055.8 1001.5,1055.9 1002.5,1056.0 1003.5,1056.1 1004.5,1056.2 1005.5,1056.3 1006.5,1056.4 1007.5,1056.5 1008.5,1056.5 1009.5,1056.6 1010.5,1056.7 1011.5,1056.8 1012.5,1056.9 1013.5,1057.0 1014.5,1057.2 1015.5,1057.3 1016.5,1057.5 1017.5,1057.6 1018.5,1057.8 1019.5,1057.9 1020.5,1058.0 1021.5,1058.2 1022.5,1058.3 1023.5,1058.5 1024.5,1058.6 1025.5,1058.8 1026.5,1058.6 1027.5,1058.3 1028.5,1058.0 1029.5,1057.7 1030.5,1057.5 1031.5,1057.2 1032.5,1056.9 1033.5,1056.6 1034.5,1056.4 1035.5,1056.1 1036.5,1055.8 1037.5,1055.8 1038.5,1055.8 1039.5,1055.9 1040.5,1055.9 1041.5,1055.9 1042.5,1055.9 1043.5,1055.9 1044.5,1055.9 1045.5,1056.0 1046.5,1056.0 1047.5,1056.0 1048.5,1056.0 1049.5,1056.0 1050.5,1056.1 1051.5,1056.1 1052.5,1056.1 1053.5,1056.1 1054.5,1056.1 1055.5,1056.2 1056.5,1056.2 1057.5,1056.2 1058.5,1056.2 1059.5,1056.2 1060.5,1056.3 1061.5,1056.3 1062.5,1056.3 1063.5,1056.3 1064.5,1056.3 1065.5,1056.3 1066.5,1056.4 1067.5,1056.4 1068.5,1056.4 1069.5,1056.1 1070.5,1055.9 1071.5,1055.6 1072.5,1055.4 1073.5,1055.1 1074.5,1054.8 1075.5,1054.6 1076.5,1054.3 1077.5,1054.1 1078.5,1053.9 1079.5,1054.0 1080.5,1054.0 1081.5,1054.1 1082.5,1054.1 1083.5,1054.2 1084.5,1054.3 1085.5,1054.3 1086.5,1054.4 1087.5,1054.4 1088.5,1054.5 1089.5,1054.6 1090.5,1054.6 1091.5,1054.7 1092.5,1054.7 1093.5,1054.8 1094.5,1054.8 1095.5,1054.9 1096.5,1055.0 1097.5,1055.0 1098.5,1055.1 1099.5,1054.9 1100.5,1054.6 1101.5,1054.3 1102.5,1053.9 1103.5,1053.6 1104.5,1053.3 1105.5,1053.0 1106.5,1052.7 1107.5,1052.8 1108.5,1052.8 1109.5,1052.9 1110.5,1052.9 1111.5,1053.0 1112.5,1053.0 1113.5,1053.1 1114.5,1053.1 1115.5,1053.2 1116.5,1053.3 1117.5,1053.3 1118.5,1053.3 1119.5,1053.2 1120.5,1053.2 1121.5,1053.2 1122.5,1053.2 1123.5,1053.2 1124.5,1053.1 1125.5,1053.1 1126.5,1053.1 1127.5,1053.1 1128.5,1053.0 1129.5,1053.0 1130.5,1053.0 1131.5,1053.0 1132.5,1052.9 1133.5,1052.9 1134.5,1052.9 1135.5,1052.9 1136.5,1052.9 1137.5,1052.8 1138.5,1052.8 1139.5,1052.8 1140.5,1052.8 1141.5,1052.7 1142.5,1052.7 1143.0,1052.7 L1143.0,1060.8 1142.5,1060.8 1141.5,1060.8 1140.5,1060.8 1139.5,1060.8 1138.5,1060.8 1137.5,1060.8 1136.5,1060.8 1135.5,1060.8 1134.5,1060.8 1133.5,1060.8 1132.5,1060.8 1131.5,1060.8 1130.5,1060.8 1129.5,1060.8 1128.5,1060.8 1127.5,1060.8 1126.5,1060.9 1125.5,1060.9 1124.5,1060.9 1123.5,1060.9 1122.5,1060.9 1121.5,1060.9 1120.5,1060.9 1119.5,1060.9 1118.5,1060.9 1117.5,1060.9 1116.5,1060.9 1115.5,1060.9 1114.5,1060.9 1113.5,1060.9 1112.5,1060.9 1111.5,1060.9 1110.5,1060.9 1109.5,1060.9 1108.5,1060.9 1107.5,1060.9 1106.5,1060.9 1105.5,1060.9 1104.5,1060.9 1103.5,1060.9 1102.5,1060.9 1101.5,1060.9 1100.5,1060.9 1099.5,1060.9 1098.5,1060.9 1097.5,1060.9 1096.5,1060.9 1095.5,1060.9 1094.5,1060.9 1093.5,1061.0 1092.5,1061.0 1091.5,1061.0 1090.5,1061.0 1089.5,1061.0 1088.5,1061.0 1087.5,1061.0 1086.5,1061.0 1085.5,1061.0 1084.5,1061.0 1083.5,1061.0 1082.5,1061.0 1081.5,1061.0 1080.5,1061.0 1079.5,1061.0 1078.5,1061.0 1077.5,1061.0 1076.5,1061.1 1075.5,1061.1 1074.5,1061.2 1073.5,1061.2 1072.5,1061.3 1071.5,1061.3 1070.5,1061.4 1069.5,1061.4 1068.5,1061.5 1067.5,1061.5 1066.5,1061.6 1065.5,1061.6 1064.5,1061.7 1063.5,1061.7 1062.5,1061.8 1061.5,1061.8 1060.5,1061.9 1059.5,1061.9 1058.5,1062.0 1057.5,1062.0 1056.5,1062.1 1055.5,1062.1 1054.5,1062.2 1053.5,1062.2 1052.5,1062.3 1051.5,1062.3 1050.5,1062.4 1049.5,1062.4 1048.5,1062.4 1047.5,1062.4 1046.5,1062.4 1045.5,1062.4 1044.5,1062.4 1043.5,1062.5 1042.5,1062.5 1041.5,1062.5 1040.5,1062.5 1039.5,1062.5 1038.5,1062.5 1037.5,1062.5 1036.5,1062.5 1035.5,1062.5 1034.5,1062.5 1033.5,1062.5 1032.5,1062.5 1031.5,1062.5 1030.5,1062.6 1029.5,1062.6 1028.5,1062.6 1027.5,1062.6 1026.5,1062.6 1025.5,1062.6 1024.5,1062.6 1023.5,1062.6 1022.5,1062.6 1021.5,1062.6 1020.5,1062.6 1019.5,1062.6 1018.5,1062.7 1017.5,1062.7 1016.5,1062.7 1015.5,1062.7 1014.5,1062.7 1013.5,1062.7 1012.5,1062.7 1011.5,1062.7 1010.5,1062.7 1009.5,1062.7 1008.5,1062.7 1007.5,1062.7 1006.5,1062.7 1005.5,1062.8 1004.5,1062.8 1003.5,1062.8 1002.5,1062.8 1001.5,1062.8 1000.5,1062.8 999.5,1062.8 998.5,1062.8 997.5,1062.8 996.5,1062.7 995.5,1062.7 994.5,1062.7 993.5,1062.7 992.5,1062.7 991.5,1062.7 990.5,1062.6 989.5,1062.6 988.5,1062.6 987.5,1062.6 986.5,1062.6 985.5,1062.6 984.5,1062.5 983.5,1062.5 982.5,1062.5 981.5,1062.5 980.5,1062.5 979.5,1062.5 978.5,1062.4 977.5,1062.4 976.5,1062.4 975.5,1062.4 974.5,1062.4 973.5,1062.4 972.5,1062.3 971.5,1062.3 970.5,1062.3 969.5,1062.3 Z" fill="url(#gK2)" fill-opacity="0.8"/>
<path d="M905.5,1061.4 906.5,1061.3 907.5,1061.2 908.5,1061.0 909.5,1060.9 910.5,1060.8 911.5,1060.7 912.5,1060.8 913.5,1060.8 914.5,1060.9 915.5,1060.9 916.5,1060.9 917.5,1061.0 918.5,1061.0 919.5,1061.1 920.5,1061.1 921.5,1061.2 922.5,1061.2 923.5,1061.3 924.5,1061.3 925.5,1061.3 926.5,1061.4 927.5,1061.4 928.5,1061.5 929.5,1061.5 930.5,1061.6 931.5,1061.6 932.5,1061.7 933.5,1061.7 934.5,1061.8 935.5,1061.8 936.5,1061.8 937.5,1061.9 938.5,1061.9 939.5,1062.0 940.5,1062.0 941.5,1062.0 942.5,1062.1 943.5,1062.1 944.5,1062.1 945.5,1062.2 946.5,1062.2 947.5,1062.2 948.5,1062.3 949.5,1062.3 950.5,1062.3 951.5,1062.3 952.5,1062.4 953.5,1062.4 954.5,1062.4 955.5,1062.5 956.5,1062.5 957.5,1062.5 958.5,1062.6 959.5,1062.6 960.5,1062.6 961.5,1062.6 962.5,1062.5 963.5,1062.5 964.5,1062.5 965.5,1062.4 966.5,1062.4 967.5,1062.4 968.5,1062.3 969.5,1062.3 970.5,1062.3 971.5,1062.3 972.5,1062.3 973.5,1062.4 974.5,1062.4 975.5,1062.4 976.5,1062.4 977.5,1062.4 978.5,1062.4 979.5,1062.5 980.5,1062.5 981.5,1062.5 982.5,1062.5 983.5,1062.5 984.5,1062.5 985.5,1062.6 986.5,1062.6 987.5,1062.6 988.5,1062.6 989.5,1062.6 990.5,1062.6 991.5,1062.7 992.5,1062.7 993.5,1062.7 994.5,1062.7 995.5,1062.7 996.5,1062.7 997.5,1062.8 998.5,1062.8 999.5,1062.8 1000.5,1062.8 1001.5,1062.8 1002.5,1062.8 1003.5,1062.8 1004.5,1062.8 1005.5,1062.8 1006.5,1062.7 1007.5,1062.7 1008.5,1062.7 1009.5,1062.7 1010.5,1062.7 1011.5,1062.7 1012.5,1062.7 1013.5,1062.7 1014.5,1062.7 1015.5,1062.7 1016.5,1062.7 1017.5,1062.7 1018.5,1062.7 1019.5,1062.6 1020.5,1062.6 1021.5,1062.6 1022.5,1062.6 1023.5,1062.6 1024.5,1062.6 1025.5,1062.6 1026.5,1062.6 1027.5,1062.6 1028.5,1062.6 1029.5,1062.6 1030.5,1062.6 1031.5,1062.5 1032.5,1062.5 1033.5,1062.5 1034.5,1062.5 1035.5,1062.5 1036.5,1062.5 1037.5,1062.5 1038.5,1062.5 1039.5,1062.5 1040.5,1062.5 1041.5,1062.5 1042.5,1062.5 1043.5,1062.5 1044.5,1062.4 1045.5,1062.4 1046.5,1062.4 1047.5,1062.4 1048.5,1062.4 1049.5,1062.4 1050.5,1062.4 1051.5,1062.3 1052.5,1062.3 1053.5,1062.2 1054.5,1062.2 1055.5,1062.1 1056.5,1062.1 1057.5,1062.0 1058.5,1062.0 1059.5,1061.9 1060.5,1061.9 1061.5,1061.8 1062.5,1061.8 1063.5,1061.7 1064.5,1061.7 1065.5,1061.6 1066.5,1061.6 1067.5,1061.5 1068.5,1061.5 1069.5,1061.4 1070.5,1061.4 1071.5,1061.3 1072.5,1061.3 1073.5,1061.2 1074.5,1061.2 1075.5,1061.1 1076.5,1061.1 1077.5,1061.0 1078.5,1061.0 1079.5,1061.0 1080.5,1061.0 1081.5,1061.0 1082.5,1061.0 1083.5,1061.0 1084.5,1061.0 1085.5,1061.0 1086.5,1061.0 1087.5,1061.0 1088.5,1061.0 1089.5,1061.0 1090.5,1061.0 1091.5,1061.0 1092.5,1061.0 1093.5,1061.0 1094.5,1060.9 1095.5,1060.9 1096.5,1060.9 1097.5,1060.9 1098.5,1060.9 1099.5,1060.9 1100.5,1060.9 1101.5,1060.9 1102.5,1060.9 1103.5,1060.9 1104.5,1060.9 1105.5,1060.9 1106.5,1060.9 1107.5,1060.9 1108.5,1060.9 1109.5,1060.9 1110.5,1060.9 1111.5,1060.9 1112.5,1060.9 1113.5,1060.9 1114.5,1060.9 1115.5,1060.9 1116.5,1060.9 1117.5,1060.9 1118.5,1060.9 1119.5,1060.9 1120.5,1060.9 1121.5,1060.9 1122.5,1060.9 1123.5,1060.9 1124.5,1060.9 1125.5,1060.9 1126.5,1060.9 1127.5,1060.8 1128.5,1060.8 1129.5,1060.8 1130.5,1060.8 1131.5,1060.8 1132.5,1060.8 1133.5,1060.8 1134.5,1060.8 1135.5,1060.8 1136.5,1060.8 1137.5,1060.8 1138.5,1060.8 1139.5,1060.8 1140.5,1060.8 1141.5,1060.8 1142.5,1060.8 1143.0,1060.8 L1143.0,1070.0 1142.5,1070.0 1141.5,1070.0 1140.5,1070.0 1139.5,1070.0 1138.5,1070.0 1137.5,1070.0 1136.5,1070.0 1135.5,1070.0 1134.5,1070.0 1133.5,1070.0 1132.5,1069.9 1131.5,1069.9 1130.5,1069.9 1129.5,1069.9 1128.5,1069.9 1127.5,1069.9 1126.5,1069.9 1125.5,1069.9 1124.5,1069.9 1123.5,1069.9 1122.5,1069.9 1121.5,1069.9 1120.5,1069.9 1119.5,1069.9 1118.5,1069.9 1117.5,1069.9 1116.5,1069.9 1115.5,1069.9 1114.5,1069.9 1113.5,1069.9 1112.5,1069.9 1111.5,1069.8 1110.5,1069.8 1109.5,1069.8 1108.5,1069.8 1107.5,1069.8 1106.5,1069.8 1105.5,1069.8 1104.5,1069.8 1103.5,1069.8 1102.5,1069.8 1101.5,1069.8 1100.5,1069.8 1099.5,1069.8 1098.5,1069.8 1097.5,1069.8 1096.5,1069.8 1095.5,1069.8 1094.5,1069.8 1093.5,1069.8 1092.5,1069.8 1091.5,1069.7 1090.5,1069.7 1089.5,1069.7 1088.5,1069.7 1087.5,1069.7 1086.5,1069.7 1085.5,1069.7 1084.5,1069.7 1083.5,1069.7 1082.5,1069.7 1081.5,1069.7 1080.5,1069.7 1079.5,1069.7 1078.5,1069.7 1077.5,1069.7 1076.5,1069.7 1075.5,1069.7 1074.5,1069.7 1073.5,1069.7 1072.5,1069.7 1071.5,1069.7 1070.5,1069.6 1069.5,1069.6 1068.5,1069.6 1067.5,1069.6 1066.5,1069.6 1065.5,1069.6 1064.5,1069.6 1063.5,1069.6 1062.5,1069.6 1061.5,1069.6 1060.5,1069.6 1059.5,1069.6 1058.5,1069.6 1057.5,1069.6 1056.5,1069.6 1055.5,1069.6 1054.5,1069.6 1053.5,1069.6 1052.5,1069.6 1051.5,1069.6 1050.5,1069.5 1049.5,1069.5 1048.5,1069.5 1047.5,1069.5 1046.5,1069.5 1045.5,1069.5 1044.5,1069.5 1043.5,1069.5 1042.5,1069.5 1041.5,1069.5 1040.5,1069.5 1039.5,1069.5 1038.5,1069.5 1037.5,1069.5 1036.5,1069.5 1035.5,1069.5 1034.5,1069.5 1033.5,1069.5 1032.5,1069.5 1031.5,1069.5 1030.5,1069.4 1029.5,1069.4 1028.5,1069.4 1027.5,1069.4 1026.5,1069.4 1025.5,1069.4 1024.5,1069.4 1023.5,1069.4 1022.5,1069.4 1021.5,1069.4 1020.5,1069.4 1019.5,1069.4 1018.5,1069.4 1017.5,1069.4 1016.5,1069.4 1015.5,1069.4 1014.5,1069.4 1013.5,1069.4 1012.5,1069.4 1011.5,1069.4 1010.5,1069.4 1009.5,1069.3 1008.5,1069.3 1007.5,1069.3 1006.5,1069.3 1005.5,1069.3 1004.5,1069.3 1003.5,1069.3 1002.5,1069.3 1001.5,1069.3 1000.5,1069.3 999.5,1069.3 998.5,1069.3 997.5,1069.2 996.5,1069.2 995.5,1069.2 994.5,1069.1 993.5,1069.1 992.5,1069.1 991.5,1069.0 990.5,1069.0 989.5,1069.0 988.5,1068.9 987.5,1068.9 986.5,1068.9 985.5,1068.8 984.5,1068.8 983.5,1068.8 982.5,1068.7 981.5,1068.7 980.5,1068.7 979.5,1068.6 978.5,1068.6 977.5,1068.6 976.5,1068.5 975.5,1068.5 974.5,1068.5 973.5,1068.4 972.5,1068.3 971.5,1068.3 970.5,1068.2 969.5,1068.2 968.5,1068.1 967.5,1068.0 966.5,1068.0 965.5,1067.9 964.5,1067.9 963.5,1067.8 962.5,1067.8 961.5,1067.7 960.5,1067.6 959.5,1067.6 958.5,1067.5 957.5,1067.4 956.5,1067.4 955.5,1067.3 954.5,1067.2 953.5,1067.2 952.5,1067.1 951.5,1067.0 950.5,1067.0 949.5,1066.9 948.5,1066.8 947.5,1066.8 946.5,1066.7 945.5,1066.6 944.5,1066.6 943.5,1066.5 942.5,1066.4 941.5,1066.4 940.5,1066.3 939.5,1066.2 938.5,1066.2 937.5,1066.1 936.5,1066.0 935.5,1066.0 934.5,1065.9 933.5,1065.8 932.5,1065.7 931.5,1065.7 930.5,1065.6 929.5,1065.5 928.5,1065.5 927.5,1065.4 926.5,1065.3 925.5,1065.2 924.5,1065.1 923.5,1064.9 922.5,1064.7 921.5,1064.6 920.5,1064.4 919.5,1064.3 918.5,1064.1 917.5,1064.0 916.5,1063.8 915.5,1063.7 914.5,1063.5 913.5,1063.4 912.5,1063.2 911.5,1063.0 910.5,1062.9 909.5,1062.8 908.5,1062.6 907.5,1062.5 906.5,1062.3 905.5,1062.2 Z" fill="#bfeed3" fill-opacity="0.8"/>
<path d="M222.5,1072.5 223.5,1072.5 224.5,1072.5 225.5,1072.5 226.5,1072.5 227.5,1072.5 228.5,1072.5 229.5,1072.5 230.5,1072.5 231.5,1072.5 232.5,1072.5 233.5,1072.5 234.5,1072.5 235.5,1072.5 236.5,1072.5 237.5,1072.5 238.5,1072.5 239.5,1072.5 240.5,1072.5 241.5,1072.5 242.5,1072.5 243.5,1072.5 244.5,1072.5 245.5,1072.5 246.5,1072.5 247.5,1072.5 248.5,1072.5 249.5,1072.5 250.5,1072.5 251.5,1072.5 252.5,1072.5 253.5,1072.5 254.5,1072.5 255.5,1072.5 256.5,1072.5 257.5,1072.5 258.5,1072.5 259.5,1072.5 260.5,1072.5 261.5,1072.5 262.5,1072.5 263.5,1072.5 264.5,1072.5 265.5,1072.5 266.5,1072.5 267.5,1072.5 268.5,1072.5 269.5,1072.5 270.5,1072.5 271.5,1072.5 272.5,1072.5 273.5,1072.5 274.5,1072.5 275.5,1072.5 276.5,1072.5 277.5,1072.5 278.5,1072.5 279.5,1072.5 280.5,1072.5 281.5,1072.5 282.5,1072.5 283.5,1072.5 284.5,1072.5 285.5,1072.5 286.5,1072.5 287.5,1072.5 288.5,1072.5 289.5,1072.5 290.5,1072.5 291.5,1072.5 292.5,1072.5 293.5,1072.5 294.5,1072.5 295.5,1072.5 296.5,1072.5 297.5,1072.5 298.5,1072.5 299.5,1072.5 300.5,1072.5 301.5,1072.5 302.5,1072.5 303.5,1072.5 304.5,1072.5 305.5,1072.5 306.5,1072.5 307.5,1072.5 308.5,1072.5 309.5,1072.5 310.5,1072.5 311.5,1072.5 312.5,1072.5 313.5,1072.5 314.5,1072.5 315.5,1072.5 316.5,1072.5 317.5,1072.5 318.5,1072.5 319.5,1072.5 320.5,1072.5 321.5,1072.5 322.5,1072.5 323.5,1072.5 324.5,1072.5 325.5,1072.5 326.5,1072.5 327.5,1072.5 328.5,1072.5 329.5,1072.5 330.5,1072.5 331.5,1072.5 332.5,1072.5 333.5,1072.5 334.5,1072.5 335.5,1072.5 336.5,1072.5 337.5,1072.5 338.5,1072.5 339.5,1072.5 340.5,1072.5 341.5,1072.5 342.5,1072.5 343.5,1072.5 344.5,1072.5 345.5,1072.5 346.5,1072.5 347.5,1072.5 348.5,1072.5 349.5,1072.5 350.5,1072.5 351.5,1072.5 352.5,1072.5 353.5,1072.5 354.5,1072.5 355.5,1072.5 356.5,1072.5 357.5,1072.5 358.5,1072.5 359.5,1072.5 360.5,1072.5 361.5,1072.5 362.5,1072.5 363.5,1072.5 364.5,1072.5 365.5,1072.5 366.5,1072.5 367.5,1072.5 368.5,1072.5 369.5,1072.5 370.5,1072.5 371.5,1072.5 372.5,1072.5 373.5,1072.5 374.5,1072.5 375.5,1072.5 376.5,1072.5 377.5,1072.5 378.5,1072.5 379.5,1072.5 380.5,1072.5 381.5,1072.5 382.5,1072.5 383.5,1072.5 384.5,1072.5 385.5,1072.5 386.5,1072.5 387.5,1072.5 388.5,1072.5 389.5,1072.5 390.5,1072.5 391.5,1072.5 392.5,1072.5 393.5,1072.5 394.5,1072.5 395.5,1072.5 396.5,1072.5 397.5,1072.5 398.5,1072.5 399.5,1072.5 400.5,1072.5 401.5,1072.5 402.5,1072.5 403.5,1072.5 404.5,1072.5 405.5,1072.5 406.5,1072.5 407.5,1072.5 408.5,1072.5 409.5,1072.5 410.5,1072.5 411.5,1072.5 412.5,1072.5 413.5,1072.5 414.5,1072.5 415.5,1072.5 416.5,1072.5 417.5,1072.5 418.5,1072.5 419.5,1072.5 420.5,1072.5 421.5,1072.5 422.5,1072.5 423.5,1072.5 424.5,1072.5 425.5,1072.5 426.5,1072.5 427.5,1072.5 428.5,1072.5 429.5,1072.5 430.5,1072.5 431.5,1072.5 432.5,1072.5 433.5,1072.5 434.5,1072.5 435.5,1072.5 436.5,1072.5 437.5,1072.5 438.5,1072.5 439.5,1072.5 440.5,1072.5 441.5,1072.5 442.5,1072.5 443.5,1072.5 444.5,1072.5 445.5,1072.5 446.5,1072.5 447.5,1072.5 448.5,1072.5 449.5,1072.5 450.5,1072.5 451.5,1072.5 452.5,1072.5 453.5,1072.5 454.5,1072.5 455.5,1072.5 456.5,1072.5 457.5,1072.5 458.5,1072.5 459.5,1072.5 460.5,1072.5 461.5,1072.5 462.5,1072.5 463.5,1072.5 464.5,1072.5 465.5,1072.5 466.5,1072.5 467.5,1072.5 468.5,1072.5 469.5,1072.5 470.5,1072.5 471.5,1072.5 472.5,1072.5 473.5,1072.5 474.5,1072.5 475.5,1072.5 476.5,1072.5 477.5,1072.5 478.5,1072.5 479.5,1072.5 480.5,1072.5 481.5,1072.5 482.5,1072.5 483.5,1072.5 484.5,1072.5 485.5,1072.5 486.5,1072.5 487.5,1072.5 488.5,1072.5 489.5,1072.5 490.5,1072.5 491.5,1072.5 492.5,1072.5 493.5,1072.5 494.5,1072.5 495.5,1072.5 496.5,1072.5 497.5,1072.5 498.5,1072.5 499.5,1072.5 500.5,1072.5 501.5,1072.5 502.5,1072.5 503.5,1072.5 504.5,1072.5 505.5,1072.5 506.5,1072.5 507.5,1072.5 508.5,1072.5 509.5,1072.5 510.5,1072.5 511.5,1072.5 512.5,1072.5 513.5,1072.5 514.5,1072.5 515.5,1072.5 516.5,1072.5 517.5,1072.5 518.5,1072.5 519.5,1072.5 520.5,1072.5 521.5,1072.5 522.5,1072.5 523.5,1072.5 524.5,1072.5 525.5,1072.5 526.5,1072.5 527.5,1072.5 528.5,1072.5 529.5,1072.5 530.5,1072.5 531.5,1072.5 532.5,1072.5 533.5,1072.5 534.5,1072.5 535.5,1072.5 536.5,1072.5 537.5,1072.5 538.5,1072.5 539.5,1072.5 540.5,1072.5 541.5,1072.5 542.5,1072.5 543.5,1072.5 544.5,1072.5 545.5,1072.5 546.5,1072.5 547.5,1072.5 548.5,1072.5 549.5,1072.5 550.5,1072.5 551.5,1072.5 552.5,1072.5 553.5,1072.5 554.5,1072.5 555.5,1072.5 556.5,1072.5 557.5,1072.5 558.5,1072.5 559.5,1072.5 560.5,1072.5 561.5,1072.5 562.5,1072.4 563.5,1072.4 564.5,1072.3 565.5,1072.3 566.5,1072.3 567.5,1072.2 568.5,1072.2 569.5,1072.2 570.5,1072.2 571.5,1072.1 572.5,1072.1 573.5,1072.0 574.5,1072.0 575.5,1072.0 576.5,1072.0 577.5,1071.9 578.5,1071.9 579.5,1071.8 580.5,1071.8 581.5,1071.8 582.5,1071.8 583.5,1071.7 584.5,1071.7 585.5,1071.7 586.5,1071.6 587.5,1071.6 588.5,1071.5 589.5,1071.5 590.5,1071.4 591.5,1071.3 592.5,1071.2 593.5,1071.1 594.5,1071.0 595.5,1070.9 596.5,1070.8 597.5,1070.7 598.5,1070.5 599.5,1070.3 600.5,1070.0 601.5,1069.7 602.5,1069.5 603.5,1069.2 604.5,1068.9 605.5,1068.7 606.5,1068.4 607.5,1068.1 608.5,1067.9 609.5,1067.6 610.5,1067.3 611.5,1067.1 612.5,1066.8 613.5,1066.5 614.5,1066.3 615.5,1066.0 616.5,1065.7 617.5,1065.5 618.5,1065.2 619.5,1064.7 620.5,1064.1 621.5,1063.4 622.5,1062.8 623.5,1062.1 624.5,1061.5 625.5,1060.8 626.5,1060.2 627.5,1059.6 628.5,1058.9 629.5,1058.3 630.5,1057.6 631.5,1057.0 632.5,1056.3 633.5,1056.1 634.5,1056.1 635.5,1056.0 636.5,1055.9 637.5,1055.8 638.5,1055.7 639.5,1055.6 640.5,1055.5 641.5,1055.4 642.5,1055.3 643.5,1055.2 644.5,1055.0 645.5,1054.9 646.5,1054.8 647.5,1054.5 648.5,1054.3 649.5,1054.0 650.5,1053.8 651.5,1053.5 652.5,1053.3 653.5,1053.1 654.5,1052.8 655.5,1052.6 656.5,1052.3 657.5,1052.1 658.5,1051.8 659.5,1051.6 660.5,1051.3 661.5,1050.9 662.5,1050.5 663.5,1050.3 664.5,1050.2 665.5,1050.1 666.5,1050.0 667.5,1049.9 668.5,1049.8 669.5,1049.7 670.5,1049.6 671.5,1049.5 672.5,1049.4 673.5,1049.3 674.5,1049.2 675.5,1049.1 676.5,1049.0 677.5,1048.9 678.5,1048.8 679.5,1048.7 680.5,1048.6 681.5,1048.5 682.5,1048.4 683.5,1048.3 684.5,1048.2 685.5,1048.1 686.5,1048.0 687.5,1047.9 688.5,1047.8 689.5,1047.8 690.5,1047.7 691.5,1047.6 692.5,1047.5 693.5,1047.4 694.5,1047.3 695.5,1047.2 696.5,1047.1 697.5,1047.0 698.5,1046.7 699.5,1046.5 700.5,1046.3 701.5,1046.0 702.5,1045.8 703.5,1045.6 704.5,1045.3 705.5,1045.1 706.5,1044.9 707.5,1044.6 708.5,1044.4 709.5,1044.2 710.5,1043.9 711.5,1043.7 712.5,1043.5 713.5,1043.2 714.5,1043.0 715.5,1043.1 716.5,1043.1 717.5,1043.2 718.5,1043.2 719.5,1043.3 720.5,1043.3 721.5,1043.4 722.5,1043.4 723.5,1043.5 724.5,1042.8 725.5,1042.0 726.5,1041.2 727.5,1040.4 728.5,1039.5 729.5,1038.7 730.5,1037.9 731.5,1037.8 732.5,1037.8 733.5,1037.8 734.5,1037.8 735.5,1037.8 736.5,1037.8 737.5,1037.8 738.5,1037.8 739.5,1037.8 740.5,1037.8 741.5,1037.8 742.5,1037.8 743.5,1037.8 744.5,1037.9 745.5,1038.0 746.5,1038.0 747.5,1038.1 748.5,1038.2 749.5,1038.2 750.5,1038.3 751.5,1038.4 752.5,1038.4 753.5,1038.5 754.5,1038.6 755.5,1038.6 756.5,1038.7 757.5,1038.8 758.5,1038.8 759.5,1039.1 760.5,1040.1 761.5,1040.2 762.5,1040.3 763.5,1040.3 764.5,1040.4 765.5,1040.5 766.5,1040.6 767.5,1040.6 768.5,1040.7 769.5,1040.8 770.5,1040.8 771.5,1040.9 772.5,1041.0 773.5,1041.1 774.5,1041.1 775.5,1041.2 776.5,1041.2 777.5,1041.1 778.5,1041.1 779.5,1041.0 780.5,1041.0 781.5,1041.0 782.5,1040.9 783.5,1040.9 784.5,1040.9 785.5,1040.8 786.5,1040.8 787.5,1040.8 788.5,1040.7 789.5,1040.6 790.5,1040.2 791.5,1039.9 792.5,1039.5 793.5,1039.2 794.5,1038.9 795.5,1038.5 796.5,1038.2 797.5,1037.8 798.5,1037.5 799.5,1037.2 800.5,1036.9 801.5,1036.7 802.5,1036.5 803.5,1036.4 804.5,1036.2 805.5,1036.0 806.5,1035.8 807.5,1035.6 808.5,1035.4 809.5,1035.3 810.5,1035.1 811.5,1034.9 812.5,1034.5 813.5,1034.2 814.5,1033.8 815.5,1033.4 816.5,1033.0 817.5,1032.7 818.5,1032.3 819.5,1031.9 820.5,1031.5 821.5,1031.8 822.5,1032.0 823.5,1032.3 824.5,1032.6 825.5,1032.9 826.5,1033.1 827.5,1033.4 828.5,1033.7 829.5,1034.0 830.5,1034.3 831.5,1035.6 832.5,1038.1 833.5,1040.2 834.5,1040.7 835.5,1041.2 836.5,1041.7 837.5,1042.2 838.5,1042.7 839.5,1043.0 840.5,1043.1 841.5,1043.1 842.5,1043.1 843.5,1043.2 844.5,1043.2 845.5,1043.3 846.5,1043.3 847.5,1043.3 848.5,1043.4 849.5,1043.4 850.5,1043.5 851.5,1043.5 852.5,1045.0 853.5,1046.7 854.5,1048.3 855.5,1050.0 856.5,1051.7 857.5,1053.3 858.5,1055.0 859.5,1055.2 860.5,1055.3 861.5,1055.5 862.5,1055.7 863.5,1055.8 864.5,1056.0 865.5,1056.2 866.5,1056.3 867.5,1056.5 868.5,1056.7 869.5,1056.8 870.5,1057.0 871.5,1057.1 872.5,1057.3 873.5,1057.4 874.5,1057.6 875.5,1057.7 876.5,1057.9 877.5,1058.0 878.5,1058.2 879.5,1058.3 880.5,1058.5 881.5,1058.6 882.5,1058.8 883.5,1058.9 884.5,1059.1 885.5,1059.3 886.5,1059.4 887.5,1059.6 888.5,1059.7 889.5,1059.9 890.5,1060.0 891.5,1060.2 892.5,1060.3 893.5,1060.5 894.5,1060.6 895.5,1060.7 896.5,1060.9 897.5,1061.0 898.5,1061.2 899.5,1061.3 900.5,1061.5 901.5,1061.6 902.5,1061.8 903.5,1061.9 904.5,1062.0 905.5,1062.2 906.5,1062.3 907.5,1062.5 908.5,1062.6 909.5,1062.8 910.5,1062.9 911.5,1063.0 912.5,1063.2 913.5,1063.4 914.5,1063.5 915.5,1063.7 916.5,1063.8 917.5,1064.0 918.5,1064.1 919.5,1064.3 920.5,1064.4 921.5,1064.6 922.5,1064.7 923.5,1064.9 924.5,1065.1 925.5,1065.2 926.5,1065.3 927.5,1065.4 928.5,1065.5 929.5,1065.5 930.5,1065.6 931.5,1065.7 932.5,1065.7 933.5,1065.8 934.5,1065.9 935.5,1066.0 936.5,1066.0 937.5,1066.1 938.5,1066.2 939.5,1066.2 940.5,1066.3 941.5,1066.4 942.5,1066.4 943.5,1066.5 944.5,1066.6 945.5,1066.6 946.5,1066.7 947.5,1066.8 948.5,1066.8 949.5,1066.9 950.5,1067.0 951.5,1067.0 952.5,1067.1 953.5,1067.2 954.5,1067.2 955.5,1067.3 956.5,1067.4 957.5,1067.4 958.5,1067.5 959.5,1067.6 960.5,1067.6 961.5,1067.7 962.5,1067.8 963.5,1067.8 964.5,1067.9 965.5,1067.9 966.5,1068.0 967.5,1068.0 968.5,1068.1 969.5,1068.2 970.5,1068.2 971.5,1068.3 972.5,1068.3 973.5,1068.4 974.5,1068.5 975.5,1068.5 976.5,1068.5 977.5,1068.6 978.5,1068.6 979.5,1068.6 980.5,1068.7 981.5,1068.7 982.5,1068.7 983.5,1068.8 984.5,1068.8 985.5,1068.8 986.5,1068.9 987.5,1068.9 988.5,1068.9 989.5,1069.0 990.5,1069.0 991.5,1069.0 992.5,1069.1 993.5,1069.1 994.5,1069.1 995.5,1069.2 996.5,1069.2 997.5,1069.2 998.5,1069.3 999.5,1069.3 1000.5,1069.3 1001.5,1069.3 1002.5,1069.3 1003.5,1069.3 1004.5,1069.3 1005.5,1069.3 1006.5,1069.3 1007.5,1069.3 1008.5,1069.3 1009.5,1069.3 1010.5,1069.4 1011.5,1069.4 1012.5,1069.4 1013.5,1069.4 1014.5,1069.4 1015.5,1069.4 1016.5,1069.4 1017.5,1069.4 1018.5,1069.4 1019.5,1069.4 1020.5,1069.4 1021.5,1069.4 1022.5,1069.4 1023.5,1069.4 1024.5,1069.4 1025.5,1069.4 1026.5,1069.4 1027.5,1069.4 1028.5,1069.4 1029.5,1069.4 1030.5,1069.4 1031.5,1069.5 1032.5,1069.5 1033.5,1069.5 1034.5,1069.5 1035.5,1069.5 1036.5,1069.5 1037.5,1069.5 1038.5,1069.5 1039.5,1069.5 1040.5,1069.5 1041.5,1069.5 1042.5,1069.5 1043.5,1069.5 1044.5,1069.5 1045.5,1069.5 1046.5,1069.5 1047.5,1069.5 1048.5,1069.5 1049.5,1069.5 1050.5,1069.5 1051.5,1069.6 1052.5,1069.6 1053.5,1069.6 1054.5,1069.6 1055.5,1069.6 1056.5,1069.6 1057.5,1069.6 1058.5,1069.6 1059.5,1069.6 1060.5,1069.6 1061.5,1069.6 1062.5,1069.6 1063.5,1069.6 1064.5,1069.6 1065.5,1069.6 1066.5,1069.6 1067.5,1069.6 1068.5,1069.6 1069.5,1069.6 1070.5,1069.6 1071.5,1069.7 1072.5,1069.7 1073.5,1069.7 1074.5,1069.7 1075.5,1069.7 1076.5,1069.7 1077.5,1069.7 1078.5,1069.7 1079.5,1069.7 1080.5,1069.7 1081.5,1069.7 1082.5,1069.7 1083.5,1069.7 1084.5,1069.7 1085.5,1069.7 1086.5,1069.7 1087.5,1069.7 1088.5,1069.7 1089.5,1069.7 1090.5,1069.7 1091.5,1069.7 1092.5,1069.8 1093.5,1069.8 1094.5,1069.8 1095.5,1069.8 1096.5,1069.8 1097.5,1069.8 1098.5,1069.8 1099.5,1069.8 1100.5,1069.8 1101.5,1069.8 1102.5,1069.8 1103.5,1069.8 1104.5,1069.8 1105.5,1069.8 1106.5,1069.8 1107.5,1069.8 1108.5,1069.8 1109.5,1069.8 1110.5,1069.8 1111.5,1069.8 1112.5,1069.9 1113.5,1069.9 1114.5,1069.9 1115.5,1069.9 1116.5,1069.9 1117.5,1069.9 1118.5,1069.9 1119.5,1069.9 1120.5,1069.9 1121.5,1069.9 1122.5,1069.9 1123.5,1069.9 1124.5,1069.9 1125.5,1069.9 1126.5,1069.9 1127.5,1069.9 1128.5,1069.9 1129.5,1069.9 1130.5,1069.9 1131.5,1069.9 1132.5,1069.9 1133.5,1070.0 1134.5,1070.0 1135.5,1070.0 1136.5,1070.0 1137.5,1070.0 1138.5,1070.0 1139.5,1070.0 1140.5,1070.0 1141.5,1070.0 1142.5,1070.0 1143.0,1070.0 L1143.0,1072.6 1142.5,1072.6 1141.5,1072.6 1140.5,1072.6 1139.5,1072.6 1138.5,1072.6 1137.5,1072.6 1136.5,1072.6 1135.5,1072.6 1134.5,1072.6 1133.5,1072.6 1132.5,1072.6 1131.5,1072.6 1130.5,1072.6 1129.5,1072.6 1128.5,1072.6 1127.5,1072.6 1126.5,1072.6 1125.5,1072.6 1124.5,1072.6 1123.5,1072.6 1122.5,1072.6 1121.5,1072.6 1120.5,1072.6 1119.5,1072.6 1118.5,1072.6 1117.5,1072.6 1116.5,1072.6 1115.5,1072.6 1114.5,1072.6 1113.5,1072.6 1112.5,1072.6 1111.5,1072.6 1110.5,1072.6 1109.5,1072.6 1108.5,1072.6 1107.5,1072.6 1106.5,1072.6 1105.5,1072.6 1104.5,1072.6 1103.5,1072.6 1102.5,1072.6 1101.5,1072.6 1100.5,1072.6 1099.5,1072.6 1098.5,1072.6 1097.5,1072.6 1096.5,1072.6 1095.5,1072.6 1094.5,1072.6 1093.5,1072.6 1092.5,1072.6 1091.5,1072.6 1090.5,1072.6 1089.5,1072.6 1088.5,1072.6 1087.5,1072.6 1086.5,1072.6 1085.5,1072.6 1084.5,1072.6 1083.5,1072.6 1082.5,1072.6 1081.5,1072.6 1080.5,1072.6 1079.5,1072.6 1078.5,1072.6 1077.5,1072.6 1076.5,1072.6 1075.5,1072.6 1074.5,1072.6 1073.5,1072.6 1072.5,1072.6 1071.5,1072.6 1070.5,1072.6 1069.5,1072.6 1068.5,1072.6 1067.5,1072.6 1066.5,1072.6 1065.5,1072.6 1064.5,1072.6 1063.5,1072.6 1062.5,1072.6 1061.5,1072.6 1060.5,1072.6 1059.5,1072.6 1058.5,1072.6 1057.5,1072.6 1056.5,1072.6 1055.5,1072.6 1054.5,1072.6 1053.5,1072.6 1052.5,1072.6 1051.5,1072.6 1050.5,1072.6 1049.5,1072.6 1048.5,1072.6 1047.5,1072.6 1046.5,1072.6 1045.5,1072.6 1044.5,1072.6 1043.5,1072.6 1042.5,1072.6 1041.5,1072.6 1040.5,1072.6 1039.5,1072.6 1038.5,1072.6 1037.5,1072.6 1036.5,1072.6 1035.5,1072.6 1034.5,1072.6 1033.5,1072.6 1032.5,1072.6 1031.5,1072.6 1030.5,1072.6 1029.5,1072.6 1028.5,1072.6 1027.5,1072.6 1026.5,1072.6 1025.5,1072.6 1024.5,1072.6 1023.5,1072.6 1022.5,1072.6 1021.5,1072.6 1020.5,1072.6 1019.5,1072.6 1018.5,1072.6 1017.5,1072.6 1016.5,1072.6 1015.5,1072.6 1014.5,1072.6 1013.5,1072.6 1012.5,1072.6 1011.5,1072.6 1010.5,1072.6 1009.5,1072.6 1008.5,1072.6 1007.5,1072.6 1006.5,1072.6 1005.5,1072.6 1004.5,1072.6 1003.5,1072.6 1002.5,1072.6 1001.5,1072.6 1000.5,1072.6 999.5,1072.6 998.5,1072.6 997.5,1072.6 996.5,1072.6 995.5,1072.6 994.5,1072.6 993.5,1072.6 992.5,1072.6 991.5,1072.6 990.5,1072.6 989.5,1072.6 988.5,1072.6 987.5,1072.6 986.5,1072.6 985.5,1072.6 984.5,1072.6 983.5,1072.6 982.5,1072.6 981.5,1072.6 980.5,1072.6 979.5,1072.6 978.5,1072.6 977.5,1072.6 976.5,1072.6 975.5,1072.6 974.5,1072.6 973.5,1072.6 972.5,1072.6 971.5,1072.6 970.5,1072.6 969.5,1072.6 968.5,1072.6 967.5,1072.6 966.5,1072.6 965.5,1072.6 964.5,1072.6 963.5,1072.6 962.5,1072.6 961.5,1072.6 960.5,1072.6 959.5,1072.6 958.5,1072.6 957.5,1072.6 956.5,1072.6 955.5,1072.6 954.5,1072.6 953.5,1072.6 952.5,1072.6 951.5,1072.6 950.5,1072.6 949.5,1072.6 948.5,1072.6 947.5,1072.6 946.5,1072.6 945.5,1072.6 944.5,1072.6 943.5,1072.6 942.5,1072.6 941.5,1072.6 940.5,1072.6 939.5,1072.6 938.5,1072.6 937.5,1072.6 936.5,1072.6 935.5,1072.6 934.5,1072.6 933.5,1072.6 932.5,1072.6 931.5,1072.6 930.5,1072.6 929.5,1072.6 928.5,1072.6 927.5,1072.6 926.5,1072.6 925.5,1072.6 924.5,1072.6 923.5,1072.6 922.5,1072.6 921.5,1072.6 920.5,1072.6 919.5,1072.6 918.5,1072.6 917.5,1072.6 916.5,1072.6 915.5,1072.6 914.5,1072.6 913.5,1072.6 912.5,1072.6 911.5,1072.6 910.5,1072.6 909.5,1072.6 908.5,1072.6 907.5,1072.6 906.5,1072.6 905.5,1072.6 904.5,1072.6 903.5,1072.6 902.5,1072.6 901.5,1072.6 900.5,1072.6 899.5,1072.6 898.5,1072.6 897.5,1072.6 896.5,1072.6 895.5,1072.6 894.5,1072.6 893.5,1072.6 892.5,1072.6 891.5,1072.6 890.5,1072.6 889.5,1072.6 888.5,1072.6 887.5,1072.6 886.5,1072.6 885.5,1072.6 884.5,1072.6 883.5,1072.6 882.5,1072.6 881.5,1072.6 880.5,1072.6 879.5,1072.6 878.5,1072.6 877.5,1072.6 876.5,1072.6 875.5,1072.6 874.5,1072.6 873.5,1072.6 872.5,1072.6 871.5,1072.6 870.5,1072.6 869.5,1072.6 868.5,1072.6 867.5,1072.6 866.5,1072.6 865.5,1072.6 864.5,1072.6 863.5,1072.6 862.5,1072.6 861.5,1072.6 860.5,1072.6 859.5,1072.6 858.5,1072.6 857.5,1072.6 856.5,1072.6 855.5,1072.6 854.5,1072.6 853.5,1072.6 852.5,1072.6 851.5,1072.6 850.5,1072.6 849.5,1072.6 848.5,1072.6 847.5,1072.6 846.5,1072.6 845.5,1072.6 844.5,1072.6 843.5,1072.6 842.5,1072.6 841.5,1072.6 840.5,1072.6 839.5,1072.6 838.5,1072.6 837.5,1072.6 836.5,1072.6 835.5,1072.6 834.5,1072.6 833.5,1072.6 832.5,1072.6 831.5,1072.6 830.5,1072.6 829.5,1072.6 828.5,1072.6 827.5,1072.6 826.5,1072.6 825.5,1072.6 824.5,1072.6 823.5,1072.6 822.5,1072.6 821.5,1072.6 820.5,1072.6 819.5,1072.6 818.5,1072.6 817.5,1072.6 816.5,1072.6 815.5,1072.6 814.5,1072.6 813.5,1072.6 812.5,1072.6 811.5,1072.6 810.5,1072.6 809.5,1072.6 808.5,1072.6 807.5,1072.6 806.5,1072.6 805.5,1072.6 804.5,1072.6 803.5,1072.6 802.5,1072.6 801.5,1072.6 800.5,1072.6 799.5,1072.6 798.5,1072.6 797.5,1072.6 796.5,1072.6 795.5,1072.6 794.5,1072.6 793.5,1072.6 792.5,1072.6 791.5,1072.6 790.5,1072.6 789.5,1072.6 788.5,1072.6 787.5,1072.6 786.5,1072.6 785.5,1072.6 784.5,1072.6 783.5,1072.6 782.5,1072.6 781.5,1072.6 780.5,1072.6 779.5,1072.6 778.5,1072.6 777.5,1072.6 776.5,1072.6 775.5,1072.6 774.5,1072.6 773.5,1072.6 772.5,1072.6 771.5,1072.6 770.5,1072.6 769.5,1072.6 768.5,1072.6 767.5,1072.6 766.5,1072.6 765.5,1072.6 764.5,1072.6 763.5,1072.6 762.5,1072.6 761.5,1072.6 760.5,1072.6 759.5,1072.6 758.5,1072.6 757.5,1072.6 756.5,1072.6 755.5,1072.6 754.5,1072.6 753.5,1072.6 752.5,1072.6 751.5,1072.6 750.5,1072.6 749.5,1072.6 748.5,1072.6 747.5,1072.6 746.5,1072.6 745.5,1072.6 744.5,1072.6 743.5,1072.6 742.5,1072.6 741.5,1072.6 740.5,1072.6 739.5,1072.6 738.5,1072.6 737.5,1072.6 736.5,1072.6 735.5,1072.6 734.5,1072.6 733.5,1072.6 732.5,1072.6 731.5,1072.6 730.5,1072.6 729.5,1072.6 728.5,1072.6 727.5,1072.6 726.5,1072.6 725.5,1072.6 724.5,1072.6 723.5,1072.6 722.5,1072.6 721.5,1072.6 720.5,1072.6 719.5,1072.6 718.5,1072.6 717.5,1072.6 716.5,1072.6 715.5,1072.6 714.5,1072.6 713.5,1072.6 712.5,1072.6 711.5,1072.6 710.5,1072.6 709.5,1072.6 708.5,1072.6 707.5,1072.6 706.5,1072.6 705.5,1072.6 704.5,1072.6 703.5,1072.6 702.5,1072.6 701.5,1072.6 700.5,1072.6 699.5,1072.6 698.5,1072.6 697.5,1072.6 696.5,1072.6 695.5,1072.6 694.5,1072.6 693.5,1072.6 692.5,1072.6 691.5,1072.6 690.5,1072.6 689.5,1072.6 688.5,1072.6 687.5,1072.6 686.5,1072.6 685.5,1072.6 684.5,1072.6 683.5,1072.6 682.5,1072.6 681.5,1072.6 680.5,1072.6 679.5,1072.6 678.5,1072.6 677.5,1072.6 676.5,1072.6 675.5,1072.6 674.5,1072.6 673.5,1072.6 672.5,1072.6 671.5,1072.6 670.5,1072.6 669.5,1072.6 668.5,1072.6 667.5,1072.6 666.5,1072.6 665.5,1072.6 664.5,1072.6 663.5,1072.6 662.5,1072.6 661.5,1072.6 660.5,1072.6 659.5,1072.6 658.5,1072.6 657.5,1072.6 656.5,1072.6 655.5,1072.6 654.5,1072.6 653.5,1072.6 652.5,1072.6 651.5,1072.6 650.5,1072.6 649.5,1072.6 648.5,1072.6 647.5,1072.6 646.5,1072.6 645.5,1072.6 644.5,1072.6 643.5,1072.6 642.5,1072.6 641.5,1072.6 640.5,1072.6 639.5,1072.6 638.5,1072.6 637.5,1072.6 636.5,1072.6 635.5,1072.6 634.5,1072.6 633.5,1072.6 632.5,1072.6 631.5,1072.6 630.5,1072.6 629.5,1072.6 628.5,1072.6 627.5,1072.6 626.5,1072.6 625.5,1072.6 624.5,1072.6 623.5,1072.6 622.5,1072.6 621.5,1072.6 620.5,1072.6 619.5,1072.6 618.5,1072.6 617.5,1072.6 616.5,1072.6 615.5,1072.6 614.5,1072.6 613.5,1072.6 612.5,1072.6 611.5,1072.6 610.5,1072.6 609.5,1072.6 608.5,1072.6 607.5,1072.6 606.5,1072.6 605.5,1072.6 604.5,1072.6 603.5,1072.6 602.5,1072.6 601.5,1072.6 600.5,1072.6 599.5,1072.6 598.5,1072.6 597.5,1072.6 596.5,1072.6 595.5,1072.6 594.5,1072.6 593.5,1072.6 592.5,1072.6 591.5,1072.6 590.5,1072.6 589.5,1072.6 588.5,1072.6 587.5,1072.6 586.5,1072.6 585.5,1072.6 584.5,1072.6 583.5,1072.6 582.5,1072.6 581.5,1072.6 580.5,1072.6 579.5,1072.6 578.5,1072.6 577.5,1072.6 576.5,1072.6 575.5,1072.6 574.5,1072.6 573.5,1072.6 572.5,1072.6 571.5,1072.6 570.5,1072.6 569.5,1072.6 568.5,1072.6 567.5,1072.6 566.5,1072.6 565.5,1072.6 564.5,1072.6 563.5,1072.6 562.5,1072.6 561.5,1072.6 560.5,1072.6 559.5,1072.6 558.5,1072.6 557.5,1072.6 556.5,1072.6 555.5,1072.6 554.5,1072.6 553.5,1072.6 552.5,1072.6 551.5,1072.6 550.5,1072.6 549.5,1072.6 548.5,1072.6 547.5,1072.6 546.5,1072.6 545.5,1072.6 544.5,1072.6 543.5,1072.6 542.5,1072.6 541.5,1072.6 540.5,1072.6 539.5,1072.6 538.5,1072.6 537.5,1072.6 536.5,1072.6 535.5,1072.6 534.5,1072.6 533.5,1072.6 532.5,1072.6 531.5,1072.6 530.5,1072.6 529.5,1072.6 528.5,1072.6 527.5,1072.6 526.5,1072.6 525.5,1072.6 524.5,1072.6 523.5,1072.6 522.5,1072.6 521.5,1072.6 520.5,1072.6 519.5,1072.6 518.5,1072.6 517.5,1072.6 516.5,1072.6 515.5,1072.6 514.5,1072.6 513.5,1072.6 512.5,1072.6 511.5,1072.6 510.5,1072.6 509.5,1072.6 508.5,1072.6 507.5,1072.6 506.5,1072.6 505.5,1072.6 504.5,1072.6 503.5,1072.6 502.5,1072.6 501.5,1072.6 500.5,1072.6 499.5,1072.6 498.5,1072.6 497.5,1072.6 496.5,1072.6 495.5,1072.6 494.5,1072.6 493.5,1072.6 492.5,1072.6 491.5,1072.6 490.5,1072.6 489.5,1072.6 488.5,1072.6 487.5,1072.6 486.5,1072.6 485.5,1072.6 484.5,1072.6 483.5,1072.6 482.5,1072.6 481.5,1072.6 480.5,1072.6 479.5,1072.6 478.5,1072.6 477.5,1072.6 476.5,1072.6 475.5,1072.6 474.5,1072.6 473.5,1072.6 472.5,1072.6 471.5,1072.6 470.5,1072.6 469.5,1072.6 468.5,1072.6 467.5,1072.6 466.5,1072.6 465.5,1072.6 464.5,1072.6 463.5,1072.6 462.5,1072.6 461.5,1072.6 460.5,1072.6 459.5,1072.6 458.5,1072.6 457.5,1072.6 456.5,1072.6 455.5,1072.6 454.5,1072.6 453.5,1072.6 452.5,1072.6 451.5,1072.6 450.5,1072.6 449.5,1072.6 448.5,1072.6 447.5,1072.6 446.5,1072.6 445.5,1072.6 444.5,1072.6 443.5,1072.6 442.5,1072.6 441.5,1072.6 440.5,1072.6 439.5,1072.6 438.5,1072.6 437.5,1072.6 436.5,1072.6 435.5,1072.6 434.5,1072.6 433.5,1072.6 432.5,1072.6 431.5,1072.6 430.5,1072.6 429.5,1072.6 428.5,1072.6 427.5,1072.6 426.5,1072.6 425.5,1072.6 424.5,1072.6 423.5,1072.6 422.5,1072.6 421.5,1072.6 420.5,1072.6 419.5,1072.6 418.5,1072.6 417.5,1072.6 416.5,1072.6 415.5,1072.6 414.5,1072.6 413.5,1072.6 412.5,1072.6 411.5,1072.6 410.5,1072.6 409.5,1072.6 408.5,1072.6 407.5,1072.6 406.5,1072.6 405.5,1072.6 404.5,1072.6 403.5,1072.6 402.5,1072.6 401.5,1072.6 400.5,1072.6 399.5,1072.6 398.5,1072.6 397.5,1072.6 396.5,1072.6 395.5,1072.6 394.5,1072.6 393.5,1072.6 392.5,1072.6 391.5,1072.6 390.5,1072.6 389.5,1072.6 388.5,1072.6 387.5,1072.6 386.5,1072.6 385.5,1072.6 384.5,1072.6 383.5,1072.6 382.5,1072.6 381.5,1072.6 380.5,1072.6 379.5,1072.6 378.5,1072.6 377.5,1072.6 376.5,1072.6 375.5,1072.6 374.5,1072.6 373.5,1072.6 372.5,1072.6 371.5,1072.6 370.5,1072.6 369.5,1072.6 368.5,1072.6 367.5,1072.6 366.5,1072.6 365.5,1072.6 364.5,1072.6 363.5,1072.6 362.5,1072.6 361.5,1072.6 360.5,1072.6 359.5,1072.6 358.5,1072.6 357.5,1072.6 356.5,1072.6 355.5,1072.6 354.5,1072.6 353.5,1072.6 352.5,1072.6 351.5,1072.6 350.5,1072.6 349.5,1072.6 348.5,1072.6 347.5,1072.6 346.5,1072.6 345.5,1072.6 344.5,1072.6 343.5,1072.6 342.5,1072.6 341.5,1072.6 340.5,1072.6 339.5,1072.6 338.5,1072.6 337.5,1072.6 336.5,1072.6 335.5,1072.6 334.5,1072.6 333.5,1072.6 332.5,1072.6 331.5,1072.6 330.5,1072.6 329.5,1072.6 328.5,1072.6 327.5,1072.6 326.5,1072.6 325.5,1072.6 324.5,1072.6 323.5,1072.6 322.5,1072.6 321.5,1072.6 320.5,1072.6 319.5,1072.6 318.5,1072.6 317.5,1072.6 316.5,1072.6 315.5,1072.6 314.5,1072.6 313.5,1072.6 312.5,1072.6 311.5,1072.6 310.5,1072.6 309.5,1072.6 308.5,1072.6 307.5,1072.6 306.5,1072.6 305.5,1072.6 304.5,1072.6 303.5,1072.6 302.5,1072.6 301.5,1072.6 300.5,1072.6 299.5,1072.6 298.5,1072.6 297.5,1072.6 296.5,1072.6 295.5,1072.6 294.5,1072.6 293.5,1072.6 292.5,1072.6 291.5,1072.6 290.5,1072.6 289.5,1072.6 288.5,1072.6 287.5,1072.6 286.5,1072.6 285.5,1072.6 284.5,1072.6 283.5,1072.6 282.5,1072.6 281.5,1072.6 280.5,1072.6 279.5,1072.6 278.5,1072.6 277.5,1072.6 276.5,1072.6 275.5,1072.6 274.5,1072.6 273.5,1072.6 272.5,1072.6 271.5,1072.6 270.5,1072.6 269.5,1072.6 268.5,1072.6 267.5,1072.6 266.5,1072.6 265.5,1072.6 264.5,1072.6 263.5,1072.6 262.5,1072.6 261.5,1072.6 260.5,1072.6 259.5,1072.6 258.5,1072.6 257.5,1072.6 256.5,1072.6 255.5,1072.6 254.5,1072.6 253.5,1072.6 252.5,1072.6 251.5,1072.6 250.5,1072.6 249.5,1072.6 248.5,1072.6 247.5,1072.6 246.5,1072.6 245.5,1072.6 244.5,1072.6 243.5,1072.6 242.5,1072.6 241.5,1072.6 240.5,1072.6 239.5,1072.6 238.5,1072.6 237.5,1072.6 236.5,1072.6 235.5,1072.6 234.5,1072.6 233.5,1072.6 232.5,1072.6 231.5,1072.6 230.5,1072.6 229.5,1072.6 228.5,1072.6 227.5,1072.6 226.5,1072.6 225.5,1072.6 224.5,1072.6 223.5,1072.6 222.5,1072.6 Z" fill="url(#gY)" fill-opacity="0.7"/>
<path d="M575.5,1071.8 576.5,1071.8 577.5,1071.8 578.5,1071.8 579.5,1071.8 580.5,1071.8 581.5,1071.8 582.5,1071.8 583.5,1071.8 584.5,1071.8 585.5,1071.8 586.5,1071.8 587.5,1071.8 588.5,1071.8 589.5,1071.8 590.5,1071.8 591.5,1071.8 592.5,1071.8 593.5,1071.8 594.5,1071.8 595.5,1071.8 596.5,1071.8 597.5,1071.8 598.5,1071.8 599.5,1071.8 600.5,1071.8 601.5,1071.8 602.5,1071.8 603.5,1071.5 604.5,1071.2 605.5,1071.0 606.5,1070.7 607.5,1070.4 608.5,1070.2 609.5,1069.9 610.5,1069.6 611.5,1069.4 612.5,1069.1 613.5,1068.8 614.5,1068.6 615.5,1068.3 616.5,1068.0 617.5,1067.8 618.5,1067.5 619.5,1067.0 620.5,1066.4 621.5,1065.7 622.5,1065.1 623.5,1064.4 624.5,1063.8 625.5,1063.1 626.5,1062.5 627.5,1061.9 628.5,1061.2 629.5,1060.6 630.5,1059.9 631.5,1059.3 632.5,1058.6 633.5,1058.4 634.5,1058.4 635.5,1058.3 636.5,1058.2 637.5,1058.1 638.5,1058.0 639.5,1057.9 640.5,1057.8 641.5,1057.7 642.5,1057.6 643.5,1057.5 644.5,1057.3 645.5,1057.2 646.5,1057.1 647.5,1056.8 648.5,1056.6 649.5,1056.3 650.5,1056.1 651.5,1055.8 652.5,1055.6 653.5,1055.4 654.5,1055.1 655.5,1054.9 656.5,1054.6 657.5,1054.4 658.5,1054.1 659.5,1053.9 660.5,1053.6 661.5,1053.2 662.5,1052.8 663.5,1052.6 664.5,1052.5 665.5,1052.4 666.5,1052.3 667.5,1052.2 668.5,1052.1 669.5,1052.0 670.5,1051.9 671.5,1051.8 672.5,1051.7 673.5,1051.6 674.5,1051.5 675.5,1051.4 676.5,1051.3 677.5,1051.2 678.5,1051.1 679.5,1051.0 680.5,1050.9 681.5,1050.8 682.5,1050.7 683.5,1050.6 684.5,1050.5 685.5,1050.4 686.5,1050.3 687.5,1050.2 688.5,1050.1 689.5,1050.1 690.5,1050.0 691.5,1049.9 692.5,1049.8 693.5,1049.7 694.5,1049.6 695.5,1049.5 696.5,1049.4 697.5,1049.3 698.5,1049.0 699.5,1048.8 700.5,1048.6 701.5,1048.3 702.5,1048.1 703.5,1047.9 704.5,1047.6 705.5,1047.4 706.5,1047.2 707.5,1046.9 708.5,1046.7 709.5,1046.5 710.5,1046.2 711.5,1046.0 712.5,1045.8 713.5,1045.5 714.5,1045.3 715.5,1045.4 716.5,1045.4 717.5,1045.5 718.5,1045.5 719.5,1045.6 720.5,1045.6 721.5,1045.7 722.5,1045.7 723.5,1045.8 724.5,1045.1 725.5,1044.3 726.5,1043.5 727.5,1042.7 728.5,1041.8 729.5,1041.0 730.5,1040.2 731.5,1040.1 732.5,1040.1 733.5,1040.1 734.5,1040.1 735.5,1040.1 736.5,1040.1 737.5,1040.1 738.5,1040.1 739.5,1040.1 740.5,1040.1 741.5,1040.1 742.5,1040.1 743.5,1040.1 744.5,1040.2 745.5,1040.3 746.5,1040.3 747.5,1040.4 748.5,1040.5 749.5,1040.5 750.5,1040.6 751.5,1040.7 752.5,1040.7 753.5,1040.8 754.5,1040.9 755.5,1040.9 756.5,1041.0 757.5,1041.1 758.5,1041.1 759.5,1041.4 760.5,1042.4 761.5,1042.5 762.5,1042.6 763.5,1042.6 764.5,1042.7 765.5,1042.8 766.5,1042.9 767.5,1042.9 768.5,1043.0 769.5,1043.1 770.5,1043.1 771.5,1043.2 772.5,1043.3 773.5,1043.4 774.5,1043.4 775.5,1043.5 776.5,1043.5 777.5,1043.4 778.5,1043.4 779.5,1043.3 780.5,1043.3 781.5,1043.3 782.5,1043.2 783.5,1043.2 784.5,1043.2 785.5,1043.1 786.5,1043.1 787.5,1043.1 788.5,1043.0 789.5,1042.9 790.5,1042.5 791.5,1042.2 792.5,1041.8 793.5,1041.5 794.5,1041.2 795.5,1040.8 796.5,1040.5 797.5,1040.1 798.5,1039.8 799.5,1039.5 800.5,1039.2 801.5,1039.0 802.5,1038.8 803.5,1038.7 804.5,1038.5 805.5,1038.3 806.5,1038.1 807.5,1037.9 808.5,1037.7 809.5,1037.6 810.5,1037.4 811.5,1037.2 812.5,1036.8 813.5,1036.5 814.5,1036.1 815.5,1035.7 816.5,1035.3 817.5,1035.0 818.5,1034.6 819.5,1034.2 820.5,1033.8 821.5,1034.1 822.5,1034.3 823.5,1034.6 824.5,1034.9 825.5,1035.2 826.5,1035.4 827.5,1035.7 828.5,1036.0 829.5,1036.3 830.5,1036.6 831.5,1037.9 832.5,1040.4 833.5,1042.5 834.5,1043.0 835.5,1043.5 836.5,1044.0 837.5,1044.5 838.5,1045.0 839.5,1045.3 840.5,1045.4 841.5,1045.4 842.5,1045.4 843.5,1045.5 844.5,1045.5 845.5,1045.6 846.5,1045.6 847.5,1045.6 848.5,1045.7 849.5,1045.7 850.5,1045.8 851.5,1045.8 852.5,1047.3 853.5,1049.0 854.5,1050.6 855.5,1052.3 856.5,1054.0 857.5,1055.6 858.5,1057.3 859.5,1057.5 860.5,1057.6 861.5,1057.8 862.5,1058.0 863.5,1058.1 864.5,1058.3 865.5,1058.5 866.5,1058.6 867.5,1058.8 868.5,1059.0 869.5,1059.1 870.5,1059.3 871.5,1059.4 872.5,1059.6 873.5,1059.7 874.5,1059.9 875.5,1060.0 876.5,1060.2 877.5,1060.3 878.5,1060.5 879.5,1060.6 880.5,1060.8 881.5,1060.9 882.5,1061.1 883.5,1061.2 884.5,1061.4 885.5,1061.6 886.5,1061.7 887.5,1061.9 888.5,1062.0 889.5,1062.2 890.5,1062.3 891.5,1062.5 892.5,1062.6 893.5,1062.8 894.5,1062.9 895.5,1063.0 896.5,1063.2 897.5,1063.3 898.5,1063.5 899.5,1063.6 900.5,1063.8 901.5,1063.9 902.5,1064.1 903.5,1064.2 904.5,1064.3 905.5,1064.5 906.5,1064.6 907.5,1064.8 908.5,1064.9 909.5,1065.1 910.5,1065.2 911.5,1065.3 912.5,1065.5 913.5,1065.7 914.5,1065.8 915.5,1066.0 916.5,1066.1 917.5,1066.3 918.5,1066.4 919.5,1066.6 920.5,1066.7 921.5,1066.9 922.5,1067.0 923.5,1067.2 924.5,1067.4 925.5,1067.5 926.5,1067.6 927.5,1067.7 928.5,1067.8 929.5,1067.8 930.5,1067.9 931.5,1068.0 932.5,1068.0 933.5,1068.1 934.5,1068.2 935.5,1068.3 936.5,1068.3 937.5,1068.4 938.5,1068.5 939.5,1068.5 940.5,1068.6 941.5,1068.7 942.5,1068.7 943.5,1068.8 944.5,1068.9 945.5,1068.9 946.5,1069.0 947.5,1069.1 948.5,1069.1 949.5,1069.2 950.5,1069.3 951.5,1069.3 952.5,1069.4 953.5,1069.5 954.5,1069.5 955.5,1069.6 956.5,1069.7 957.5,1069.7 958.5,1069.8 959.5,1069.9 960.5,1069.9 961.5,1070.0 962.5,1070.0 963.5,1070.1 964.5,1070.2 965.5,1070.2 966.5,1070.3 967.5,1070.3 968.5,1070.4 969.5,1070.5 970.5,1070.5 971.5,1070.6 972.5,1070.6 973.5,1070.7 974.5,1070.8 975.5,1070.8 976.5,1070.8 977.5,1070.9 978.5,1070.9 979.5,1070.9 980.5,1071.0 981.5,1071.0 982.5,1071.0 983.5,1071.1 984.5,1071.1 985.5,1071.1 986.5,1071.2 987.5,1071.2 988.5,1071.2 989.5,1071.3 990.5,1071.3 991.5,1071.3 992.5,1071.4 993.5,1071.4 994.5,1071.4 995.5,1071.5 996.5,1071.5 997.5,1071.5 998.5,1071.6 999.5,1071.6 1000.5,1071.6 1001.5,1071.6 1002.5,1071.6 1003.5,1071.6 1004.5,1071.6 1005.5,1071.6 1006.5,1071.6 1007.5,1071.6 1008.5,1071.6 1009.5,1071.6 1010.5,1071.7 1011.5,1071.7 1012.5,1071.7 1013.5,1071.7 1014.5,1071.7 1015.5,1071.7 1016.5,1071.7 1017.5,1071.7 1018.5,1071.7 1019.5,1071.7 1020.5,1071.7 1021.5,1071.7 1022.5,1071.7 1023.5,1071.7 1024.5,1071.7 1025.5,1071.7 1026.5,1071.7 1027.5,1071.7 1028.5,1071.7 1029.5,1071.7 1030.5,1071.7 1031.5,1071.8 1032.5,1071.8 1033.5,1071.8 1034.5,1071.8 1035.5,1071.8 1036.5,1071.8 1037.5,1071.8 1038.5,1071.8 1039.5,1071.8 1040.5,1071.8 1041.5,1071.8 1042.5,1071.8 1043.5,1071.8 1044.5,1071.8 1045.5,1071.8 1046.5,1071.8 1047.5,1071.8 1048.5,1071.8 1049.5,1071.8 1050.5,1071.8 1051.5,1071.8 1052.5,1071.8 1053.5,1071.8 1054.5,1071.8 1055.5,1071.8 1056.5,1071.8 1057.5,1071.8 1058.5,1071.8 1059.5,1071.8 1060.5,1071.8 1061.5,1071.8 1062.5,1071.8 1063.5,1071.8 1064.5,1071.8 1065.5,1071.8 1066.5,1071.8 1067.5,1071.8 1068.5,1071.8 1069.5,1071.8 1070.5,1071.8 1071.5,1071.8 1072.5,1071.8 1073.5,1071.8 1074.5,1071.8 1075.5,1071.8 1076.5,1071.8 1077.5,1071.8 1078.5,1071.8 1079.5,1071.8 1080.5,1071.8 1081.5,1071.8 1082.5,1071.8 1083.5,1071.8 1084.5,1071.8 1085.5,1071.8 1086.5,1071.8 1087.5,1071.8 1088.5,1071.8 1089.5,1071.8 1090.5,1071.8 1091.5,1071.8 1092.5,1071.8 1093.5,1071.8 1094.5,1071.8 1095.5,1071.8 1096.5,1071.8 1097.5,1071.8 1098.5,1071.8 1099.5,1071.8 1100.5,1071.8 1101.5,1071.8 1102.5,1071.8 1103.5,1071.8 1104.5,1071.8 1105.5,1071.8 1106.5,1071.8 1107.5,1071.8 1108.5,1071.8 1109.5,1071.8 1110.5,1071.8 1111.5,1071.8 1112.5,1071.8 1113.5,1071.8 1114.5,1071.8 1115.5,1071.8 1116.5,1071.8 1117.5,1071.8 1118.5,1071.8 1119.5,1071.8 1120.5,1071.8 1121.5,1071.8 1122.5,1071.8 1123.5,1071.8 1124.5,1071.8 1125.5,1071.8 1126.5,1071.8 1127.5,1071.8 1128.5,1071.8 1129.5,1071.8 1130.5,1071.8 1131.5,1071.8 1132.5,1071.8 1133.5,1071.8 1134.5,1071.8 1135.5,1071.8 1136.5,1071.8 1137.5,1071.8 1138.5,1071.8 1139.5,1071.8 1140.5,1071.8 1141.5,1071.8 1142.5,1071.8 1143.0,1071.8" fill="none" stroke="#eab436" stroke-width="2.2"/>
<path d="M590.5,1071.4 591.5,1071.3 592.5,1071.2 593.5,1071.1 594.5,1071.0 595.5,1070.9 596.5,1070.8 597.5,1070.7 598.5,1070.5 599.5,1070.3 600.5,1070.0 601.5,1069.7 602.5,1069.5 603.5,1069.2 604.5,1068.9 605.5,1068.7 606.5,1068.4 607.5,1068.1 608.5,1067.9 609.5,1067.6 610.5,1067.3 611.5,1067.1 612.5,1066.8 613.5,1066.5 614.5,1066.3 615.5,1066.0 616.5,1065.7 617.5,1065.5 618.5,1065.2 619.5,1064.7 620.5,1064.1 621.5,1063.4 622.5,1062.8 623.5,1062.1 624.5,1061.5 625.5,1060.8 626.5,1060.2 627.5,1059.6 628.5,1058.9 629.5,1058.3 630.5,1057.6 631.5,1057.0 632.5,1056.3 633.5,1056.1 634.5,1056.1 635.5,1056.0 636.5,1055.9 637.5,1055.8 638.5,1055.7 639.5,1055.6 640.5,1055.5 641.5,1055.4 642.5,1055.3 643.5,1055.2 644.5,1055.0 645.5,1054.9 646.5,1054.8 647.5,1054.5 648.5,1054.3 649.5,1054.0 650.5,1053.8 651.5,1053.5 652.5,1053.3 653.5,1053.1 654.5,1052.8 655.5,1052.6 656.5,1052.3 657.5,1052.1 658.5,1051.8 659.5,1051.6 660.5,1051.3 661.5,1050.9 662.5,1050.5 663.5,1050.3 664.5,1050.2 665.5,1050.1 666.5,1050.0 667.5,1049.9 668.5,1049.8 669.5,1049.7 670.5,1049.6 671.5,1049.5 672.5,1049.4 673.5,1049.3 674.5,1049.2 675.5,1049.1 676.5,1049.0 677.5,1048.9 678.5,1048.8 679.5,1048.7 680.5,1048.6 681.5,1048.5 682.5,1048.4 683.5,1048.3 684.5,1048.2 685.5,1048.1 686.5,1048.0 687.5,1047.9 688.5,1047.8 689.5,1047.8 690.5,1047.7 691.5,1047.6 692.5,1047.5 693.5,1047.4 694.5,1047.3 695.5,1047.2 696.5,1047.1 697.5,1047.0 698.5,1046.7 699.5,1046.5 700.5,1046.3 701.5,1046.0 702.5,1045.8 703.5,1045.6 704.5,1045.3 705.5,1045.1 706.5,1044.9 707.5,1044.6 708.5,1044.4 709.5,1044.2 710.5,1043.9 711.5,1043.7 712.5,1043.5 713.5,1043.2 714.5,1043.0 715.5,1043.1 716.5,1043.1 717.5,1043.2 718.5,1043.2 719.5,1043.3 720.5,1043.3 721.5,1043.4 722.5,1043.4 723.5,1043.5 724.5,1042.8 725.5,1042.0 726.5,1041.2 727.5,1040.4 728.5,1039.5 729.5,1038.7 730.5,1037.9 731.5,1037.8 732.5,1037.8 733.5,1037.8 734.5,1037.8 735.5,1037.8 736.5,1037.8 737.5,1037.8 738.5,1037.8 739.5,1037.8 740.5,1037.8 741.5,1037.8 742.5,1037.8 743.5,1037.8 744.5,1037.9 745.5,1038.0 746.5,1038.0 747.5,1038.1 748.5,1038.2 749.5,1038.2 750.5,1038.3 751.5,1038.4 752.5,1038.4 753.5,1038.5 754.5,1038.6 755.5,1038.6 756.5,1038.7 757.5,1038.8 758.5,1038.8 759.5,1039.1 760.5,1040.1 761.5,1040.2 762.5,1040.3 763.5,1040.3 764.5,1040.4 765.5,1040.5 766.5,1040.6 767.5,1040.6 768.5,1040.7 769.5,1040.8 770.5,1040.8 771.5,1040.9 772.5,1041.0 773.5,1041.1 774.5,1041.1 775.5,1041.2 776.5,1041.2 777.5,1041.1 778.5,1041.1 779.5,1041.0 780.5,1041.0 781.5,1041.0 782.5,1040.9 783.5,1040.9 784.5,1040.9 785.5,1040.8 786.5,1040.8 787.5,1040.8 788.5,1040.7 789.5,1040.6 790.5,1040.2 791.5,1039.9 792.5,1039.5 793.5,1039.2 794.5,1038.9 795.5,1038.5 796.5,1038.2 797.5,1037.8 798.5,1037.5 799.5,1037.2 800.5,1036.9 801.5,1036.7 802.5,1036.5 803.5,1036.4 804.5,1036.2 805.5,1036.0 806.5,1035.8 807.5,1035.6 808.5,1035.4 809.5,1035.3 810.5,1035.1 811.5,1034.9 812.5,1034.5 813.5,1034.2 814.5,1033.8 815.5,1033.4 816.5,1033.0 817.5,1032.7 818.5,1032.3 819.5,1031.9 820.5,1031.5 821.5,1031.8 822.5,1032.0 823.5,1032.3 824.5,1032.6 825.5,1032.9 826.5,1033.1 827.5,1033.4 828.5,1033.7 829.5,1034.0 830.5,1034.3 831.5,1035.6 832.5,1038.1 833.5,1040.2 834.5,1040.7 835.5,1041.2 836.5,1041.7 837.5,1042.2 838.5,1042.7 839.5,1043.0 840.5,1043.1 841.5,1043.1 842.5,1043.1 843.5,1043.2 844.5,1043.2 845.5,1043.3 846.5,1043.3 847.5,1043.3 848.5,1043.4 849.5,1043.4 850.5,1043.5 851.5,1043.5 852.5,1045.0 853.5,1046.7 854.5,1048.3 855.5,1050.0 856.5,1051.7 857.5,1053.3 858.5,1055.0 859.5,1055.2 860.5,1055.3 861.5,1055.5 862.5,1055.7 863.5,1055.8 864.5,1056.0 865.5,1056.2 866.5,1056.3 867.5,1056.5 868.5,1056.7 869.5,1056.8 870.5,1057.0 871.5,1057.1 872.5,1057.3 873.5,1057.4 874.5,1057.6 875.5,1057.7 876.5,1057.9 877.5,1058.0 878.5,1058.2 879.5,1058.3 880.5,1058.5 881.5,1058.6 882.5,1058.8 883.5,1058.9 884.5,1059.1 885.5,1059.3 886.5,1059.4 887.5,1059.6 888.5,1059.7 889.5,1059.9 890.5,1060.0 891.5,1060.2 892.5,1060.3 893.5,1060.5 894.5,1060.6 895.5,1060.7 896.5,1060.9 897.5,1061.0 898.5,1061.2 899.5,1061.3 900.5,1061.5 901.5,1061.6 902.5,1061.8 903.5,1061.9 904.5,1062.0 905.5,1062.2 906.5,1062.3 907.5,1062.5 908.5,1062.6 909.5,1062.8 910.5,1062.9 911.5,1063.0 912.5,1063.2 913.5,1063.4 914.5,1063.5 915.5,1063.7 916.5,1063.8 917.5,1064.0 918.5,1064.1 919.5,1064.3 920.5,1064.4 921.5,1064.6 922.5,1064.7 923.5,1064.9 924.5,1065.1 925.5,1065.2 926.5,1065.3 927.5,1065.4 928.5,1065.5 929.5,1065.5 930.5,1065.6 931.5,1065.7 932.5,1065.7 933.5,1065.8 934.5,1065.9 935.5,1066.0 936.5,1066.0 937.5,1066.1 938.5,1066.2 939.5,1066.2 940.5,1066.3 941.5,1066.4 942.5,1066.4 943.5,1066.5 944.5,1066.6 945.5,1066.6 946.5,1066.7 947.5,1066.8 948.5,1066.8 949.5,1066.9 950.5,1067.0 951.5,1067.0 952.5,1067.1 953.5,1067.2 954.5,1067.2 955.5,1067.3 956.5,1067.4 957.5,1067.4 958.5,1067.5 959.5,1067.6 960.5,1067.6 961.5,1067.7 962.5,1067.8 963.5,1067.8 964.5,1067.9 965.5,1067.9 966.5,1068.0 967.5,1068.0 968.5,1068.1 969.5,1068.2 970.5,1068.2 971.5,1068.3 972.5,1068.3 973.5,1068.4 974.5,1068.5 975.5,1068.5 976.5,1068.5 977.5,1068.6 978.5,1068.6 979.5,1068.6 980.5,1068.7 981.5,1068.7 982.5,1068.7 983.5,1068.8 984.5,1068.8 985.5,1068.8 986.5,1068.9 987.5,1068.9 988.5,1068.9 989.5,1069.0 990.5,1069.0 991.5,1069.0 992.5,1069.1 993.5,1069.1 994.5,1069.1 995.5,1069.2 996.5,1069.2 997.5,1069.2 998.5,1069.3 999.5,1069.3 1000.5,1069.3 1001.5,1069.3 1002.5,1069.3 1003.5,1069.3 1004.5,1069.3 1005.5,1069.3 1006.5,1069.3 1007.5,1069.3 1008.5,1069.3 1009.5,1069.3 1010.5,1069.4 1011.5,1069.4 1012.5,1069.4 1013.5,1069.4 1014.5,1069.4 1015.5,1069.4 1016.5,1069.4 1017.5,1069.4 1018.5,1069.4 1019.5,1069.4 1020.5,1069.4 1021.5,1069.4 1022.5,1069.4 1023.5,1069.4 1024.5,1069.4 1025.5,1069.4 1026.5,1069.4 1027.5,1069.4 1028.5,1069.4 1029.5,1069.4 1030.5,1069.4 1031.5,1069.5 1032.5,1069.5 1033.5,1069.5 1034.5,1069.5 1035.5,1069.5 1036.5,1069.5 1037.5,1069.5 1038.5,1069.5 1039.5,1069.5 1040.5,1069.5 1041.5,1069.5 1042.5,1069.5 1043.5,1069.5 1044.5,1069.5 1045.5,1069.5 1046.5,1069.5 1047.5,1069.5 1048.5,1069.5 1049.5,1069.5 1050.5,1069.5 1051.5,1069.6 1052.5,1069.6 1053.5,1069.6 1054.5,1069.6 1055.5,1069.6 1056.5,1069.6 1057.5,1069.6 1058.5,1069.6 1059.5,1069.6 1060.5,1069.6 1061.5,1069.6 1062.5,1069.6 1063.5,1069.6 1064.5,1069.6 1065.5,1069.6 1066.5,1069.6 1067.5,1069.6 1068.5,1069.6 1069.5,1069.6 1070.5,1069.6 1071.5,1069.7 1072.5,1069.7 1073.5,1069.7 1074.5,1069.7 1075.5,1069.7 1076.5,1069.7 1077.5,1069.7 1078.5,1069.7 1079.5,1069.7 1080.5,1069.7 1081.5,1069.7 1082.5,1069.7 1083.5,1069.7 1084.5,1069.7 1085.5,1069.7 1086.5,1069.7 1087.5,1069.7 1088.5,1069.7 1089.5,1069.7 1090.5,1069.7 1091.5,1069.7 1092.5,1069.8 1093.5,1069.8 1094.5,1069.8 1095.5,1069.8 1096.5,1069.8 1097.5,1069.8 1098.5,1069.8 1099.5,1069.8 1100.5,1069.8 1101.5,1069.8 1102.5,1069.8 1103.5,1069.8 1104.5,1069.8 1105.5,1069.8 1106.5,1069.8 1107.5,1069.8 1108.5,1069.8 1109.5,1069.8 1110.5,1069.8 1111.5,1069.8 1112.5,1069.9 1113.5,1069.9 1114.5,1069.9 1115.5,1069.9 1116.5,1069.9 1117.5,1069.9 1118.5,1069.9 1119.5,1069.9 1120.5,1069.9 1121.5,1069.9 1122.5,1069.9 1123.5,1069.9 1124.5,1069.9 1125.5,1069.9 1126.5,1069.9 1127.5,1069.9 1128.5,1069.9 1129.5,1069.9 1130.5,1069.9 1131.5,1069.9 1132.5,1069.9 1133.5,1070.0 1134.5,1070.0 1135.5,1070.0 1136.5,1070.0 1137.5,1070.0 1138.5,1070.0 1139.5,1070.0 1140.5,1070.0 1141.5,1070.0 1142.5,1070.0 1143.0,1070.0" fill="none" stroke="#0b2415" stroke-width="2.3"/>
<path d="M729,1040 L745,1039.6 L759,1040.6 L762,1042 L745,1041.6 L729,1041.8 Z" fill="#555" opacity="0.8"/>
<path d="M905.5,1061.4 906.5,1061.3 907.5,1061.2 908.5,1061.0 909.5,1060.9 910.5,1060.8 911.5,1060.7 912.5,1060.8 913.5,1060.8 914.5,1060.9 915.5,1060.9 916.5,1060.9 917.5,1061.0 918.5,1061.0 919.5,1061.1 920.5,1061.1 921.5,1061.2 922.5,1061.2 923.5,1061.3 924.5,1061.3 925.5,1061.3 926.5,1061.4 927.5,1061.4 928.5,1061.5 929.5,1061.5 930.5,1061.6 931.5,1061.6 932.5,1061.7 933.5,1061.7 934.5,1061.8 935.5,1061.8 936.5,1061.8 937.5,1061.9 938.5,1061.9 939.5,1062.0 940.5,1062.0 941.5,1062.0 942.5,1062.1 943.5,1062.1 944.5,1062.1 945.5,1062.2 946.5,1062.2 947.5,1062.2 948.5,1062.3 949.5,1062.3 950.5,1062.3 951.5,1062.3 952.5,1062.4 953.5,1062.4 954.5,1062.4 955.5,1062.5 956.5,1062.5 957.5,1062.5 958.5,1062.6 959.5,1062.6 960.5,1062.6 961.5,1062.6 962.5,1062.5 963.5,1062.5 964.5,1062.5 965.5,1062.4 966.5,1062.4 967.5,1062.4 968.5,1062.3 969.5,1062.3 970.5,1062.3 971.5,1062.3 972.5,1062.3 973.5,1062.4 974.5,1062.4 975.5,1062.4 976.5,1062.4 977.5,1062.4 978.5,1062.4 979.5,1062.5 980.5,1062.5 981.5,1062.5 982.5,1062.5 983.5,1062.5 984.5,1062.5 985.5,1062.6 986.5,1062.6 987.5,1062.6 988.5,1062.6 989.5,1062.6 990.5,1062.6 991.5,1062.7 992.5,1062.7 993.5,1062.7 994.5,1062.7 995.5,1062.7 996.5,1062.7 997.5,1062.8 998.5,1062.8 999.5,1062.8 1000.5,1062.8 1001.5,1062.8 1002.5,1062.8 1003.5,1062.8 1004.5,1062.8 1005.5,1062.8 1006.5,1062.7 1007.5,1062.7 1008.5,1062.7 1009.5,1062.7 1010.5,1062.7 1011.5,1062.7 1012.5,1062.7 1013.5,1062.7 1014.5,1062.7 1015.5,1062.7 1016.5,1062.7 1017.5,1062.7 1018.5,1062.7 1019.5,1062.6 1020.5,1062.6 1021.5,1062.6 1022.5,1062.6 1023.5,1062.6 1024.5,1062.6 1025.5,1062.6 1026.5,1062.6 1027.5,1062.6 1028.5,1062.6 1029.5,1062.6 1030.5,1062.6 1031.5,1062.5 1032.5,1062.5 1033.5,1062.5 1034.5,1062.5 1035.5,1062.5 1036.5,1062.5 1037.5,1062.5 1038.5,1062.5 1039.5,1062.5 1040.5,1062.5 1041.5,1062.5 1042.5,1062.5 1043.5,1062.5 1044.5,1062.4 1045.5,1062.4 1046.5,1062.4 1047.5,1062.4 1048.5,1062.4 1049.5,1062.4 1050.5,1062.4 1051.5,1062.3 1052.5,1062.3 1053.5,1062.2 1054.5,1062.2 1055.5,1062.1 1056.5,1062.1 1057.5,1062.0 1058.5,1062.0 1059.5,1061.9 1060.5,1061.9 1061.5,1061.8 1062.5,1061.8 1063.5,1061.7 1064.5,1061.7 1065.5,1061.6 1066.5,1061.6 1067.5,1061.5 1068.5,1061.5 1069.5,1061.4 1070.5,1061.4 1071.5,1061.3 1072.5,1061.3 1073.5,1061.2 1074.5,1061.2 1075.5,1061.1 1076.5,1061.1 1077.5,1061.0 1078.5,1061.0 1079.5,1061.0 1080.5,1061.0 1081.5,1061.0 1082.5,1061.0 1083.5,1061.0 1084.5,1061.0 1085.5,1061.0 1086.5,1061.0 1087.5,1061.0 1088.5,1061.0 1089.5,1061.0 1090.5,1061.0 1091.5,1061.0 1092.5,1061.0 1093.5,1061.0 1094.5,1060.9 1095.5,1060.9 1096.5,1060.9 1097.5,1060.9 1098.5,1060.9 1099.5,1060.9 1100.5,1060.9 1101.5,1060.9 1102.5,1060.9 1103.5,1060.9 1104.5,1060.9 1105.5,1060.9 1106.5,1060.9 1107.5,1060.9 1108.5,1060.9 1109.5,1060.9 1110.5,1060.9 1111.5,1060.9 1112.5,1060.9 1113.5,1060.9 1114.5,1060.9 1115.5,1060.9 1116.5,1060.9 1117.5,1060.9 1118.5,1060.9 1119.5,1060.9 1120.5,1060.9 1121.5,1060.9 1122.5,1060.9 1123.5,1060.9 1124.5,1060.9 1125.5,1060.9 1126.5,1060.9 1127.5,1060.8 1128.5,1060.8 1129.5,1060.8 1130.5,1060.8 1131.5,1060.8 1132.5,1060.8 1133.5,1060.8 1134.5,1060.8 1135.5,1060.8 1136.5,1060.8 1137.5,1060.8 1138.5,1060.8 1139.5,1060.8 1140.5,1060.8 1141.5,1060.8 1142.5,1060.8 1143.0,1060.8" fill="none" stroke="#55dd88" stroke-width="2.4"/>
<path d="M969.5,1064.2 972.5,1064.2 975.5,1064.2 978.5,1064.2 981.5,1064.1 984.5,1064.1 987.5,1064.1 990.5,1064.1 993.5,1064.1 996.5,1064.1 999.5,1064.1 1002.5,1064.0 1005.5,1064.0 1008.5,1064.0 1011.5,1064.0 1014.5,1064.0 1017.5,1064.0 1020.5,1064.0 1023.5,1064.0 1026.5,1063.9 1029.5,1063.9 1032.5,1063.9 1035.5,1063.9 1038.5,1063.9 1041.5,1063.9 1044.5,1063.9 1047.5,1063.8 1050.5,1063.8 1053.5,1063.8 1056.5,1063.8 1059.5,1063.8 1062.5,1063.8 1065.5,1063.8 1068.5,1063.7 1071.5,1063.7 1074.5,1063.7 1077.5,1063.4 1080.5,1062.8 1083.5,1062.5 1086.5,1062.5 1089.5,1062.4 1092.5,1062.4 1095.5,1062.4 1098.5,1062.4 1101.5,1062.4 1104.5,1062.4 1107.5,1062.4 1110.5,1062.3 1113.5,1062.3 1116.5,1062.3 1119.5,1062.3 1122.5,1062.3 1125.5,1062.3 1128.5,1062.3 1131.5,1062.3 1134.5,1062.2 1137.5,1062.2 1140.5,1062.2 1143.0,1062.2" fill="none" stroke="#bff0d2" stroke-width="1.8"/>
<path d="M969.5,1065.8 972.5,1065.8 975.5,1065.8 978.5,1065.7 981.5,1065.7 984.5,1065.7 987.5,1065.7 990.5,1065.7 993.5,1065.6 996.5,1065.6 999.5,1065.6 1002.5,1065.6 1005.5,1065.6 1008.5,1065.5 1011.5,1065.5 1014.5,1065.5 1017.5,1065.5 1020.5,1065.4 1023.5,1065.4 1026.5,1065.4 1029.5,1065.4 1032.5,1065.4 1035.5,1065.3 1038.5,1065.3 1041.5,1065.3 1044.5,1065.3 1047.5,1065.3 1050.5,1065.2 1053.5,1065.2 1056.5,1065.2 1059.5,1065.2 1062.5,1065.2 1065.5,1065.1 1068.5,1065.1 1071.5,1065.1 1074.5,1065.1 1077.5,1064.8 1080.5,1064.1 1083.5,1063.8 1086.5,1063.8 1089.5,1063.8 1092.5,1063.7 1095.5,1063.7 1098.5,1063.7 1101.5,1063.7 1104.5,1063.7 1107.5,1063.6 1110.5,1063.6 1113.5,1063.6 1116.5,1063.6 1119.5,1063.6 1122.5,1063.5 1125.5,1063.5 1128.5,1063.5 1131.5,1063.5 1134.5,1063.5 1137.5,1063.4 1140.5,1063.4 1143.0,1063.4" fill="none" stroke="#5a7ee0" stroke-width="1.5"/>
<path d="M969.5,1066.9 972.5,1066.9 975.5,1066.9 978.5,1066.9 981.5,1066.9 984.5,1066.8 987.5,1066.8 990.5,1066.8 993.5,1066.8 996.5,1066.8 999.5,1066.8 1002.5,1066.8 1005.5,1066.8 1008.5,1066.8 1011.5,1066.8 1014.5,1066.7 1017.5,1066.7 1020.5,1066.7 1023.5,1066.7 1026.5,1066.7 1029.5,1066.7 1032.5,1066.7 1035.5,1066.7 1038.5,1066.7 1041.5,1066.7 1044.5,1066.6 1047.5,1066.6 1050.5,1066.6 1053.5,1066.6 1056.5,1066.6 1059.5,1066.6 1062.5,1066.6 1065.5,1066.6 1068.5,1066.6 1071.5,1066.5 1074.5,1066.5 1077.5,1066.2 1080.5,1065.6 1083.5,1065.3 1086.5,1065.3 1089.5,1065.3 1092.5,1065.3 1095.5,1065.3 1098.5,1065.3 1101.5,1065.2 1104.5,1065.2 1107.5,1065.2 1110.5,1065.2 1113.5,1065.2 1116.5,1065.2 1119.5,1065.2 1122.5,1065.2 1125.5,1065.2 1128.5,1065.2 1131.5,1065.1 1134.5,1065.1 1137.5,1065.1 1140.5,1065.1 1143.0,1065.1" fill="none" stroke="#7fd4f0" stroke-width="1.3"/>
<path d="M969.5,1069.5 972.5,1069.5 975.5,1069.5 978.5,1069.5 981.5,1069.5 984.5,1069.5 987.5,1069.5 990.5,1069.5 993.5,1069.5 996.5,1069.5 999.5,1069.5 1002.5,1069.5 1005.5,1069.5 1008.5,1069.5 1011.5,1069.5 1014.5,1069.4 1017.5,1069.4 1020.5,1069.4 1023.5,1069.4 1026.5,1069.4 1029.5,1069.4 1032.5,1069.4 1035.5,1069.4 1038.5,1069.4 1041.5,1069.4 1044.5,1069.4 1047.5,1069.4 1050.5,1069.4 1053.5,1069.4 1056.5,1069.4 1059.5,1069.4 1062.5,1069.4 1065.5,1069.4 1068.5,1069.4 1071.5,1069.4 1074.5,1069.4 1077.5,1069.3 1080.5,1069.2 1083.5,1069.2 1086.5,1069.2 1089.5,1069.2 1092.5,1069.2 1095.5,1069.2 1098.5,1069.2 1101.5,1069.1 1104.5,1069.1 1107.5,1069.1 1110.5,1069.1 1113.5,1069.1 1116.5,1069.1 1119.5,1069.1 1122.5,1069.1 1125.5,1069.1 1128.5,1069.1 1131.5,1069.1 1134.5,1069.1 1137.5,1069.1 1140.5,1069.1 1143.0,1069.1" fill="none" stroke="#e0a848" stroke-width="1.0"/>
<path d="M1098,1059.7 L1110,1059.2 L1143,1059.2" fill="none" stroke="#5cc6ee" stroke-width="1.8"/>
<path d="M969.5,1058.2 970.5,1058.2 971.5,1058.3 972.5,1058.3 973.5,1058.3 974.5,1058.4 975.5,1058.4 976.5,1058.4 977.5,1058.4 978.5,1058.5 979.5,1058.5 980.5,1058.5 981.5,1058.6 982.5,1058.6 983.5,1058.6 984.5,1058.7 985.5,1058.7 986.5,1058.7 987.5,1058.8 988.5,1058.8 989.5,1058.4 990.5,1057.6 991.5,1056.9 992.5,1056.2 993.5,1055.4 994.5,1055.3 995.5,1055.4 996.5,1055.4 997.5,1055.5 998.5,1055.6 999.5,1055.7 1000.5,1055.8 1001.5,1055.9 1002.5,1056.0 1003.5,1056.1 1004.5,1056.2 1005.5,1056.3 1006.5,1056.4 1007.5,1056.5 1008.5,1056.5 1009.5,1056.6 1010.5,1056.7 1011.5,1056.8 1012.5,1056.9 1013.5,1057.0 1014.5,1057.2 1015.5,1057.3 1016.5,1057.5 1017.5,1057.6 1018.5,1057.8 1019.5,1057.9 1020.5,1058.0 1021.5,1058.2 1022.5,1058.3 1023.5,1058.5 1024.5,1058.6 1025.5,1058.8 1026.5,1058.6 1027.5,1058.3 1028.5,1058.0 1029.5,1057.7 1030.5,1057.5 1031.5,1057.2 1032.5,1056.9 1033.5,1056.6 1034.5,1056.4 1035.5,1056.1 1036.5,1055.8 1037.5,1055.8 1038.5,1055.8 1039.5,1055.9 1040.5,1055.9 1041.5,1055.9 1042.5,1055.9 1043.5,1055.9 1044.5,1055.9 1045.5,1056.0 1046.5,1056.0 1047.5,1056.0 1048.5,1056.0 1049.5,1056.0 1050.5,1056.1 1051.5,1056.1 1052.5,1056.1 1053.5,1056.1 1054.5,1056.1 1055.5,1056.2 1056.5,1056.2 1057.5,1056.2 1058.5,1056.2 1059.5,1056.2 1060.5,1056.3 1061.5,1056.3 1062.5,1056.3 1063.5,1056.3 1064.5,1056.3 1065.5,1056.3 1066.5,1056.4 1067.5,1056.4 1068.5,1056.4 1069.5,1056.1 1070.5,1055.9 1071.5,1055.6 1072.5,1055.4 1073.5,1055.1 1074.5,1054.8 1075.5,1054.6 1076.5,1054.3 1077.5,1054.1 1078.5,1053.9 1079.5,1054.0 1080.5,1054.0 1081.5,1054.1 1082.5,1054.1 1083.5,1054.2 1084.5,1054.3 1085.5,1054.3 1086.5,1054.4 1087.5,1054.4 1088.5,1054.5 1089.5,1054.6 1090.5,1054.6 1091.5,1054.7 1092.5,1054.7 1093.5,1054.8 1094.5,1054.8 1095.5,1054.9 1096.5,1055.0 1097.5,1055.0 1098.5,1055.1 1099.5,1054.9 1100.5,1054.6 1101.5,1054.3 1102.5,1053.9 1103.5,1053.6 1104.5,1053.3 1105.5,1053.0 1106.5,1052.7 1107.5,1052.8 1108.5,1052.8 1109.5,1052.9 1110.5,1052.9 1111.5,1053.0 1112.5,1053.0 1113.5,1053.1 1114.5,1053.1 1115.5,1053.2 1116.5,1053.3 1117.5,1053.3 1118.5,1053.3 1119.5,1053.2 1120.5,1053.2 1121.5,1053.2 1122.5,1053.2 1123.5,1053.2 1124.5,1053.1 1125.5,1053.1 1126.5,1053.1 1127.5,1053.1 1128.5,1053.0 1129.5,1053.0 1130.5,1053.0 1131.5,1053.0 1132.5,1052.9 1133.5,1052.9 1134.5,1052.9 1135.5,1052.9 1136.5,1052.9 1137.5,1052.8 1138.5,1052.8 1139.5,1052.8 1140.5,1052.8 1141.5,1052.7 1142.5,1052.7 1143.0,1052.7" fill="none" stroke="#111" stroke-width="2.6"/>
<path d="M969.5,1058.2 970.5,1058.1 971.5,1057.9 972.5,1057.8 973.5,1057.7 974.5,1057.6 975.5,1057.4 976.5,1057.3 977.5,1057.2 978.5,1057.1 979.5,1057.0 980.5,1056.8 981.5,1056.7 982.5,1056.6 983.5,1056.5 984.5,1056.3 985.5,1056.2 986.5,1056.1 987.5,1056.0 988.5,1055.8 989.5,1055.4 990.5,1054.8 991.5,1054.2 992.5,1053.5 993.5,1052.9 994.5,1052.7 995.5,1052.7 996.5,1052.7 997.5,1052.7 998.5,1052.7 999.5,1052.7 1000.5,1052.7 1001.5,1052.7 1002.5,1052.7 1003.5,1052.7 1004.5,1052.7 1005.5,1052.7 1006.5,1052.7 1007.5,1052.7 1008.5,1052.7 1009.5,1052.7 1010.5,1052.7 1011.5,1052.6 1012.5,1052.6 1013.5,1052.6 1014.5,1052.6 1015.5,1052.5 1016.5,1052.5 1017.5,1052.5 1018.5,1052.5 1019.5,1052.4 1020.5,1052.4 1021.5,1052.4 1022.5,1052.4 1023.5,1052.3 1024.5,1052.3 1025.5,1052.3 1026.5,1052.3 1027.5,1052.2 1028.5,1052.2 1029.5,1052.2 1030.5,1052.2 1031.5,1052.1 1032.5,1052.1 1033.5,1052.1 1034.5,1052.1 1035.5,1052.0 1036.5,1052.0 1037.5,1052.0 1038.5,1052.0 1039.5,1052.0 1040.5,1051.9 1041.5,1051.9 1042.5,1051.9 1043.5,1051.9 1044.5,1051.9 1045.5,1051.8 1046.5,1051.8 1047.5,1051.8 1048.5,1051.8 1049.5,1051.8 1050.5,1051.7 1051.5,1051.7 1052.5,1051.7 1053.5,1051.7 1054.5,1051.7 1055.5,1051.6 1056.5,1051.6 1057.5,1051.6 1058.5,1051.6 1059.5,1051.6 1060.5,1051.5 1061.5,1051.5 1062.5,1051.4 1063.5,1051.0 1064.5,1050.5 1065.5,1050.0 1066.5,1049.6 1067.5,1049.1 1068.5,1048.7 1069.5,1048.2 1070.5,1047.8 1071.5,1047.3 1072.5,1046.9 1073.5,1046.4 1074.5,1045.9 1075.5,1045.5 1076.5,1045.0 1077.5,1044.8 1078.5,1044.9 1079.5,1044.9 1080.5,1045.0 1081.5,1045.0 1082.5,1045.1 1083.5,1045.2 1084.5,1045.2 1085.5,1045.3 1086.5,1045.3 1087.5,1045.4 1088.5,1045.4 1089.5,1045.5 1090.5,1045.5 1091.5,1045.6 1092.5,1045.6 1093.5,1045.7 1094.5,1045.8 1095.5,1045.8 1096.5,1045.9 1097.5,1045.9 1098.5,1046.0 1099.5,1045.9 1100.5,1045.8 1101.5,1045.7 1102.5,1045.5 1103.5,1045.4 1104.5,1045.2 1105.5,1045.1 1106.5,1045.0 1107.5,1044.8 1108.5,1044.9 1109.5,1045.0 1110.5,1045.2 1111.5,1045.3 1112.5,1045.4 1113.5,1045.5 1114.5,1045.7 1115.5,1045.8 1116.5,1045.9 1117.5,1046.0 1118.5,1045.8 1119.5,1045.6 1120.5,1045.4 1121.5,1045.2 1122.5,1045.0 1123.5,1044.9 1124.5,1044.7 1125.5,1044.5 1126.5,1044.3 1127.5,1044.1 1128.5,1043.9 1129.5,1043.7 1130.5,1043.6 1131.5,1043.6 1132.5,1043.7 1133.5,1043.8 1134.5,1043.9 1135.5,1044.0 1136.5,1044.1 1137.5,1044.2 1138.5,1044.3 1139.5,1044.4 1140.5,1044.5 1141.5,1044.6 1142.5,1044.7 1143.0,1044.8" fill="none" stroke="#111" stroke-width="2.6"/>
<path d="M540.5,1072.5 541.5,1072.4 542.5,1072.4 543.5,1072.3 544.5,1072.3 545.5,1072.2 546.5,1072.2 547.5,1072.1 548.5,1072.1 549.5,1072.0 550.5,1072.0 551.5,1071.9 552.5,1071.9 553.5,1071.8 554.5,1071.8 555.5,1071.7 556.5,1071.7 557.5,1071.6 558.5,1071.6 559.5,1071.6 560.5,1071.5 561.5,1071.5 562.5,1071.4 563.5,1071.4 564.5,1071.3 565.5,1071.3 566.5,1071.2 567.5,1071.2 568.5,1071.1 569.5,1071.1 570.5,1071.0 571.5,1071.0 572.5,1070.9 573.5,1070.9 574.5,1070.8 575.5,1070.8 576.5,1070.7 577.5,1070.7 578.5,1070.6 579.5,1070.6 580.5,1070.6 581.5,1070.8 582.5,1070.3 583.5,1070.1 584.5,1070.4 585.5,1070.1 586.5,1070.0 587.5,1070.0 588.5,1069.8 589.5,1069.9 590.5,1069.9 591.5,1069.8 592.5,1070.0 593.5,1069.5 594.5,1069.5 595.5,1069.1 596.5,1069.0 597.5,1068.6 598.5,1068.6 599.5,1068.3 600.5,1068.6 601.5,1068.3 602.5,1067.9 603.5,1067.9 604.5,1068.1 605.5,1067.3 606.5,1067.7 607.5,1067.2 608.5,1067.1 609.5,1067.2 610.5,1066.7 611.5,1066.6 612.5,1066.4 613.5,1066.1 614.5,1065.1 615.5,1065.0 616.5,1064.4 617.5,1063.9 618.5,1063.2 619.5,1062.7 620.5,1062.0 621.5,1061.5 622.5,1061.0 623.5,1061.0 624.5,1060.1 625.5,1059.6 626.5,1059.0 627.5,1059.0 628.5,1058.6 629.5,1056.6 630.5,1054.5 631.5,1052.7 632.5,1050.9 633.5,1050.3 634.5,1049.7 635.5,1049.5 636.5,1049.0 637.5,1049.0 638.5,1048.6 639.5,1047.9 640.5,1047.5 641.5,1047.9 642.5,1047.2 643.5,1047.1 644.5,1046.7 645.5,1046.8 646.5,1046.7 647.5,1046.5 648.5,1046.1 649.5,1046.2 650.5,1045.6 651.5,1045.6 652.5,1045.3 653.5,1045.3 654.5,1044.8 655.5,1044.5 656.5,1044.5 657.5,1044.2 658.5,1044.3 659.5,1044.0 660.5,1043.9 661.5,1043.5 662.5,1043.2 663.5,1043.1 664.5,1042.4 665.5,1042.1 666.5,1042.2 667.5,1041.3 668.5,1041.4 669.5,1041.1 670.5,1040.5 671.5,1040.9 672.5,1040.7 673.5,1040.3 674.5,1040.2 675.5,1040.1 676.5,1039.4 677.5,1039.5 678.5,1039.3 679.5,1039.3 680.5,1039.1 681.5,1038.9 682.5,1038.5 683.5,1038.5 684.5,1038.2 685.5,1038.0 686.5,1037.4 687.5,1037.0 688.5,1036.8 689.5,1036.6 690.5,1036.2 691.5,1036.4 692.5,1035.9 693.5,1035.6 694.5,1035.3 695.5,1035.1 696.5,1034.6 697.5,1034.0 698.5,1034.2 699.5,1033.8 700.5,1033.3 701.5,1033.0 702.5,1032.8 703.5,1032.0 704.5,1032.1 705.5,1031.5 706.5,1031.0 707.5,1030.8 708.5,1030.8 709.5,1030.1 710.5,1030.1 711.5,1029.9 712.5,1029.3 713.5,1028.9 714.5,1028.6 715.5,1028.6 716.5,1028.6 717.5,1028.4 718.5,1028.3 719.5,1027.8 720.5,1027.8 721.5,1027.8 722.5,1028.0 723.5,1027.6 724.5,1027.7 725.5,1027.2 726.5,1026.7 727.5,1025.8 728.5,1025.1 729.5,1024.1 730.5,1023.0 731.5,1021.8 732.5,1021.8 733.5,1021.8 734.5,1021.8 735.5,1021.6 736.5,1022.2 737.5,1021.8 738.5,1022.4 739.5,1022.4 740.5,1021.8 741.5,1022.2 742.5,1022.5 743.5,1022.7 744.5,1022.5 745.5,1022.6 746.5,1022.7 747.5,1023.4 748.5,1023.1 749.5,1023.5 750.5,1023.4 751.5,1023.8 752.5,1024.3 753.5,1023.9 754.5,1024.6 755.5,1024.5 756.5,1025.0 757.5,1025.0 758.5,1024.9 759.5,1026.5 760.5,1030.9 761.5,1030.5 762.5,1030.4 763.5,1030.6 764.5,1030.5 765.5,1030.3 766.5,1030.1 767.5,1030.1 768.5,1030.0 769.5,1030.3 770.5,1029.6 771.5,1030.0 772.5,1030.0 773.5,1029.3 774.5,1029.8 775.5,1029.5 776.5,1029.5 777.5,1028.9 778.5,1028.8 779.5,1028.7 780.5,1029.0 781.5,1028.6 782.5,1028.3 783.5,1028.2 784.5,1028.0 785.5,1027.7 786.5,1027.6 787.5,1027.9 788.5,1027.4 789.5,1027.7 790.5,1027.1 791.5,1026.9 792.5,1026.9 793.5,1026.5 794.5,1026.4 795.5,1026.6 796.5,1026.4 797.5,1026.2 798.5,1025.9 799.5,1025.9 800.5,1025.7 801.5,1025.3 802.5,1025.2 803.5,1024.6 804.5,1024.9 805.5,1024.6 806.5,1024.6 807.5,1024.4 808.5,1024.0 809.5,1023.6 810.5,1024.1 811.5,1023.4 812.5,1023.5 813.5,1023.2 814.5,1023.1 815.5,1023.2 816.5,1023.2 817.5,1022.6 818.5,1022.7 819.5,1022.3 820.5,1022.4 821.5,1022.5 822.5,1022.6 823.5,1022.9 824.5,1023.2 825.5,1024.0 826.5,1023.9 827.5,1024.0 828.5,1024.8 829.5,1025.1 830.5,1025.0 831.5,1026.2 832.5,1028.7 833.5,1030.7 834.5,1031.3 835.5,1031.6 836.5,1032.1 837.5,1032.5 838.5,1033.2 839.5,1033.8 840.5,1034.0 841.5,1033.9 842.5,1034.0 843.5,1034.1 844.5,1034.1 845.5,1034.2 846.5,1034.1 847.5,1034.4 848.5,1034.9 849.5,1034.4 850.5,1034.8 851.5,1035.0 852.5,1036.4 853.5,1037.3 854.5,1038.7 855.5,1040.0 856.5,1041.5 857.5,1042.9 858.5,1044.6 859.5,1045.9 860.5,1046.3 861.5,1045.9 862.5,1046.2 863.5,1046.9 864.5,1047.3 865.5,1047.3 866.5,1047.6 867.5,1047.4 868.5,1047.9 869.5,1048.5 870.5,1048.7 871.5,1048.9 872.5,1049.2 873.5,1048.9 874.5,1049.0 875.5,1049.2 876.5,1049.7 877.5,1050.0 878.5,1050.4 879.5,1050.4 880.5,1050.6 881.5,1050.8 882.5,1050.8 883.5,1051.1 884.5,1050.9 885.5,1051.7 886.5,1051.5 887.5,1052.2 888.5,1052.2 889.5,1052.1 890.5,1052.2 891.5,1052.5 892.5,1052.9 893.5,1053.2 894.5,1052.9 895.5,1053.1 896.5,1053.6 897.5,1053.8 898.5,1053.8 899.5,1053.9 900.5,1054.3 901.5,1054.1 902.5,1054.4 903.5,1054.7 904.5,1055.3 905.5,1055.2 906.5,1055.5 907.5,1055.4 908.5,1055.4 909.5,1055.6 910.5,1056.3 911.5,1056.0 912.5,1055.0 913.5,1054.1 914.5,1054.6 915.5,1054.9 916.5,1054.9 917.5,1055.0 918.5,1055.4 919.5,1055.8 920.5,1055.5 921.5,1055.5 922.5,1055.9 923.5,1056.2 924.5,1056.5 925.5,1056.4 926.5,1056.9 927.5,1056.9 928.5,1056.8 929.5,1056.7 930.5,1057.2 931.5,1056.8 932.5,1057.2 933.5,1056.9 934.5,1056.9 935.5,1057.3 936.5,1057.0 937.5,1057.5 938.5,1057.3 939.5,1057.1 940.5,1057.2 941.5,1057.4 942.5,1057.6 943.5,1057.8 944.5,1057.2 945.5,1057.4 946.5,1057.3 947.5,1057.8 948.5,1057.2 949.5,1057.1 950.5,1057.1 951.5,1057.4 952.5,1057.7 953.5,1057.7 954.5,1057.6 955.5,1057.8 956.5,1057.7 957.5,1057.3 958.5,1057.2 959.5,1057.7 960.5,1057.6 961.5,1057.2 962.5,1057.7 963.5,1057.6 964.5,1057.7 965.5,1057.8 966.5,1057.7 967.5,1057.7 968.5,1058.0 969.5,1052.0 970.5,1052.4 971.5,1051.7 972.5,1052.2 973.5,1051.6 974.5,1051.7 975.5,1051.9 976.5,1051.9 977.5,1051.6 978.5,1051.2 979.5,1051.5 980.5,1051.3 981.5,1051.6 982.5,1051.1 983.5,1051.1 984.5,1051.4 985.5,1050.8 986.5,1051.0 987.5,1051.2 988.5,1051.1 989.5,1050.0 990.5,1049.0 991.5,1048.1 992.5,1048.7 993.5,1048.2 994.5,1048.5 995.5,1048.5 996.5,1048.1 997.5,1048.0 998.5,1048.5 999.5,1048.2 1000.5,1047.9 1001.5,1048.2 1002.5,1047.9 1003.5,1047.8 1004.5,1047.6 1005.5,1048.1 1006.5,1048.2 1007.5,1047.9 1008.5,1048.1 1009.5,1047.5 1010.5,1047.7 1011.5,1047.9 1012.5,1048.2 1013.5,1048.2 1014.5,1047.9 1015.5,1047.8 1016.5,1047.9 1017.5,1048.0 1018.5,1048.3 1019.5,1047.8 1020.5,1048.3 1021.5,1048.3 1022.5,1048.4 1023.5,1048.4 1024.5,1048.3 1025.5,1048.1 1026.5,1048.1 1027.5,1048.2 1028.5,1048.5 1029.5,1048.0 1030.5,1048.1 1031.5,1048.5 1032.5,1048.2 1033.5,1047.9 1034.5,1047.5 1035.5,1047.5 1036.5,1047.0 1037.5,1047.0 1038.5,1046.8 1039.5,1046.8 1040.5,1046.2 1041.5,1045.9 1042.5,1045.9 1043.5,1046.0 1044.5,1046.1 1045.5,1045.8 1046.5,1045.6 1047.5,1045.6 1048.5,1045.6 1049.5,1045.6 1050.5,1045.6 1051.5,1045.6 1052.5,1045.4 1053.5,1045.0 1054.5,1045.5 1055.5,1045.0 1056.5,1045.2 1057.5,1045.0 1058.5,1045.2 1059.5,1044.8 1060.5,1044.8 1061.5,1044.8 1062.5,1044.7 1063.5,1045.1 1064.5,1044.9 1065.5,1044.3 1066.5,1043.8 1067.5,1043.6 1068.5,1042.7 1069.5,1042.0 1070.5,1041.8 1071.5,1041.2 1072.5,1040.9 1073.5,1039.7 1074.5,1039.4 1075.5,1039.1 1076.5,1038.5 1077.5,1038.2 1078.5,1037.5 1079.5,1037.5 1080.5,1037.3 1081.5,1037.2 1082.5,1037.6 1083.5,1037.2 1084.5,1037.3 1085.5,1036.8 1086.5,1037.0 1087.5,1036.6 1088.5,1036.3 1089.5,1036.5 1090.5,1036.4 1091.5,1035.2 1092.5,1034.8 1093.5,1034.2 1094.5,1033.5 1095.5,1033.5 1096.5,1033.2 1097.5,1033.2 1098.5,1033.1 1099.5,1033.3 1100.5,1033.2 1101.5,1032.8 1102.5,1032.6 1103.5,1032.7 1104.5,1032.9 1105.5,1032.5 1106.5,1032.5 1107.5,1032.3 1108.5,1033.0 1109.5,1033.2 1110.5,1033.2 1111.5,1033.6 1112.5,1034.1 1113.5,1034.6 1114.5,1035.0 1115.5,1034.6 1116.5,1034.5 1117.5,1034.6 1118.5,1034.2 1119.5,1034.0 1120.5,1033.8 1121.5,1034.0 1122.5,1033.4 1123.5,1033.4 1124.5,1033.0 1125.5,1032.9 1126.5,1033.0 1127.5,1032.9 1128.5,1032.3 1129.5,1031.9 1130.5,1032.1 1131.5,1031.7 1132.5,1031.6 1133.5,1032.3 1134.5,1032.0 1135.5,1032.3 1136.5,1032.0 1137.5,1032.4 1138.5,1032.1 1139.5,1031.9 1140.5,1031.9 1141.5,1032.3 1142.5,1032.4 1143.0,1032.6" fill="none" stroke="#f0a835" stroke-width="2.4"/>
<path d="M222.5,1072.5 223.5,1072.5 224.5,1072.5 225.5,1072.5 226.5,1072.5 227.5,1072.5 228.5,1072.5 229.5,1072.5 230.5,1072.5 231.5,1072.5 232.5,1072.5 233.5,1072.5 234.5,1072.5 235.5,1072.5 236.5,1072.5 237.5,1072.5 238.5,1072.5 239.5,1072.5 240.5,1072.5 241.5,1072.5 242.5,1072.5 243.5,1072.5 244.5,1072.5 245.5,1072.5 246.5,1072.5 247.5,1072.5 248.5,1072.5 249.5,1072.5 250.5,1072.5 251.5,1072.5 252.5,1072.5 253.5,1072.5 254.5,1072.5 255.5,1072.5 256.5,1072.5 257.5,1072.5 258.5,1072.5 259.5,1072.5 260.5,1072.5 261.5,1072.5 262.5,1072.5 263.5,1072.5 264.5,1072.5 265.5,1072.5 266.5,1072.5 267.5,1072.5 268.5,1072.5 269.5,1072.5 270.5,1072.5 271.5,1072.5 272.5,1072.5 273.5,1072.5 274.5,1072.5 275.5,1072.5 276.5,1072.5 277.5,1072.5 278.5,1072.5 279.5,1072.5 280.5,1072.5 281.5,1072.5 282.5,1072.5 283.5,1072.5 284.5,1072.5 285.5,1072.5 286.5,1072.5 287.5,1072.5 288.5,1072.5 289.5,1072.5 290.5,1072.5 291.5,1072.5 292.5,1072.5 293.5,1072.4 294.5,1072.4 295.5,1072.4 296.5,1072.4 297.5,1072.4 298.5,1072.4 299.5,1072.4 300.5,1072.4 301.5,1072.4 302.5,1072.4 303.5,1072.4 304.5,1072.4 305.5,1072.4 306.5,1072.3 307.5,1072.3 308.5,1072.3 309.5,1072.3 310.5,1072.3 311.5,1072.3 312.5,1072.3 313.5,1072.3 314.5,1072.3 315.5,1072.3 316.5,1072.3 317.5,1072.3 318.5,1072.2 319.5,1072.2 320.5,1072.2 321.5,1072.2 322.5,1072.2 323.5,1072.2 324.5,1072.2 325.5,1072.2 326.5,1072.2 327.5,1072.2 328.5,1072.2 329.5,1072.2 330.5,1072.2 331.5,1072.1 332.5,1072.1 333.5,1072.1 334.5,1072.1 335.5,1072.1 336.5,1072.1 337.5,1072.1 338.5,1072.1 339.5,1072.1 340.5,1072.1 341.5,1072.1 342.5,1072.1 343.5,1072.1 344.5,1072.0 345.5,1072.0 346.5,1072.0 347.5,1072.0 348.5,1072.0 349.5,1072.0 350.5,1072.0 351.5,1072.0 352.5,1072.0 353.5,1072.0 354.5,1072.0 355.5,1072.0 356.5,1072.0 357.5,1071.9 358.5,1071.9 359.5,1071.9 360.5,1071.9 361.5,1071.9 362.5,1071.9 363.5,1071.9 364.5,1071.9 365.5,1071.9 366.5,1071.9 367.5,1071.9 368.5,1071.9 369.5,1071.9 370.5,1071.8 371.5,1071.8 372.5,1071.8 373.5,1071.8 374.5,1071.8 375.5,1071.8 376.5,1071.8 377.5,1071.8 378.5,1071.8 379.5,1071.8 380.5,1071.8 381.5,1071.8 382.5,1071.7 383.5,1071.7 384.5,1071.7 385.5,1071.7 386.5,1071.7 387.5,1071.7 388.5,1071.7 389.5,1071.7 390.5,1071.7 391.5,1071.7 392.5,1071.7 393.5,1071.7 394.5,1071.7 395.5,1071.6 396.5,1071.6 397.5,1071.6 398.5,1071.6 399.5,1071.6 400.5,1071.6 401.5,1071.6 402.5,1071.6 403.5,1071.6 404.5,1071.6 405.5,1071.6 406.5,1071.6 407.5,1071.6 408.5,1071.5 409.5,1071.5 410.5,1071.5 411.5,1071.5 412.5,1071.5 413.5,1071.5 414.5,1071.5 415.5,1071.5 416.5,1071.5 417.5,1071.5 418.5,1071.5 419.5,1071.5 420.5,1071.5 421.5,1071.4 422.5,1071.4 423.5,1071.4 424.5,1071.4 425.5,1071.4 426.5,1071.4 427.5,1071.4 428.5,1071.4 429.5,1071.4 430.5,1071.4 431.5,1071.4 432.5,1071.4 433.5,1071.4 434.5,1071.3 435.5,1071.3 436.5,1071.3 437.5,1071.3 438.5,1071.3 439.5,1071.3 440.5,1071.3 441.5,1071.3 442.5,1071.3 443.5,1071.3 444.5,1071.2 445.5,1071.2 446.5,1071.2 447.5,1071.2 448.5,1071.2 449.5,1071.2 450.5,1071.2 451.5,1071.1 452.5,1071.1 453.5,1071.1 454.5,1071.1 455.5,1071.1 456.5,1071.1 457.5,1071.1 458.5,1071.1 459.5,1071.0 460.5,1071.0 461.5,1071.0 462.5,1071.0 463.5,1071.0 464.5,1071.0 465.5,1071.0 466.5,1070.9 467.5,1070.9 468.5,1070.9 469.5,1070.9 470.5,1070.9 471.5,1070.9 472.5,1070.9 473.5,1070.8 474.5,1070.8 475.5,1070.8 476.5,1070.8 477.5,1070.8 478.5,1070.8 479.5,1070.8 480.5,1070.8 481.5,1070.7 482.5,1070.7 483.5,1070.7 484.5,1070.7 485.5,1070.7 486.5,1070.7 487.5,1070.7 488.5,1070.6 489.5,1070.6 490.5,1070.6 491.5,1070.6 492.5,1070.6 493.5,1070.6 494.5,1070.6 495.5,1070.6 496.5,1070.5 497.5,1070.5 498.5,1070.5 499.5,1070.5 500.5,1070.5 501.5,1070.5 502.5,1070.5 503.5,1070.4 504.5,1070.4 505.5,1070.4 506.5,1070.4 507.5,1070.4 508.5,1070.4 509.5,1070.4 510.5,1070.3 511.5,1070.3 512.5,1070.3 513.5,1070.3 514.5,1070.3 515.5,1070.3 516.5,1070.3 517.5,1070.3 518.5,1070.2 519.5,1070.2 520.5,1070.2 521.5,1070.2 522.5,1070.2 523.5,1070.2 524.5,1070.2 525.5,1070.1 526.5,1070.1 527.5,1070.1 528.5,1070.1 529.5,1070.1 530.5,1070.1 531.5,1070.1 532.5,1070.1 533.5,1070.0 534.5,1070.0 535.5,1070.0 536.5,1070.0 537.5,1069.9 538.5,1069.8 539.5,1069.7 540.5,1069.6 541.5,1069.5 542.5,1069.4 543.5,1069.3 544.5,1069.2 545.5,1069.1 546.5,1069.0 547.5,1068.9 548.5,1068.8 549.5,1068.7 550.5,1068.6 551.5,1068.5 552.5,1068.4 553.5,1068.3 554.5,1068.2 555.5,1068.1 556.5,1068.0 557.5,1067.8 558.5,1067.6 559.5,1067.4 560.5,1067.2 561.5,1067.0 562.5,1066.8 563.5,1066.6 564.5,1066.4 565.5,1066.2 566.5,1066.0 567.5,1065.8 568.5,1065.5 569.5,1065.3 570.5,1065.1 571.5,1065.0 572.5,1065.0 573.5,1064.9 574.5,1064.9 575.5,1064.8 576.5,1064.7 577.5,1064.7 578.5,1064.6 579.5,1064.5 580.5,1064.5 581.5,1064.7 582.5,1064.6 583.5,1064.4 584.5,1064.1 585.5,1064.0 586.5,1063.8 587.5,1064.4 588.5,1064.1 589.5,1064.1 590.5,1063.6 591.5,1063.7 592.5,1063.6 593.5,1063.0 594.5,1062.2 595.5,1062.1 596.5,1062.0 597.5,1061.1 598.5,1060.5 599.5,1060.0 600.5,1059.8 601.5,1059.3 602.5,1058.1 603.5,1057.5 604.5,1057.0 605.5,1056.5 606.5,1056.0 607.5,1055.1 608.5,1054.7 609.5,1053.9 610.5,1054.0 611.5,1053.2 612.5,1051.9 613.5,1051.8 614.5,1050.1 615.5,1049.5 616.5,1049.1 617.5,1048.1 618.5,1047.1 619.5,1046.0 620.5,1044.9 621.5,1044.4 622.5,1043.0 623.5,1042.2 624.5,1041.5 625.5,1040.2 626.5,1039.1 627.5,1037.6 628.5,1035.7 629.5,1033.8 630.5,1032.1 631.5,1030.1 632.5,1028.0 633.5,1027.4 634.5,1026.4 635.5,1025.8 636.5,1025.1 637.5,1023.8 638.5,1023.1 639.5,1022.4 640.5,1020.6 641.5,1018.5 642.5,1017.0 643.5,1015.1 644.5,1013.0 645.5,1012.1 646.5,1011.4 647.5,1010.5 648.5,1009.7 649.5,1008.7 650.5,1007.8 651.5,1007.3 652.5,1006.0 653.5,1005.5 654.5,1005.1 655.5,1004.3 656.5,1003.7 657.5,1002.8 658.5,1002.3 659.5,1001.8 660.5,1001.4 661.5,1000.6 662.5,1000.3 663.5,999.9 664.5,998.6 665.5,998.5 666.5,998.0 667.5,997.1 668.5,996.6 669.5,997.1 670.5,996.5 671.5,997.2 672.5,997.1 673.5,997.9 674.5,998.3 675.5,998.2 676.5,997.1 677.5,996.7 678.5,995.8 679.5,995.1 680.5,994.1 681.5,993.4 682.5,992.7 683.5,991.6 684.5,990.7 685.5,990.3 686.5,989.2 687.5,989.4 688.5,989.0 689.5,989.1 690.5,988.3 691.5,988.8 692.5,988.1 693.5,987.6 694.5,987.1 695.5,986.2 696.5,984.9 697.5,984.2 698.5,983.2 699.5,982.5 700.5,980.8 701.5,979.3 702.5,977.8 703.5,976.8 704.5,975.6 705.5,973.8 706.5,972.0 707.5,971.1 708.5,969.3 709.5,968.2 710.5,967.3 711.5,967.1 712.5,966.3 713.5,965.3 714.5,964.4 715.5,964.2 716.5,963.6 717.5,963.9 718.5,963.1 719.5,963.1 720.5,962.5 721.5,960.3 722.5,957.8 723.5,955.4 724.5,953.5 725.5,950.9 726.5,949.3 727.5,946.7 728.5,944.9 729.5,942.4 730.5,942.2 731.5,941.9 732.5,941.8 733.5,941.3 734.5,940.9 735.5,941.3 736.5,940.8 737.5,941.0 738.5,941.3 739.5,941.7 740.5,941.9 741.5,942.3 742.5,942.6 743.5,942.7 744.5,943.8 745.5,944.3 746.5,944.2 747.5,945.5 748.5,946.1 749.5,946.6 750.5,946.7 751.5,947.9 752.5,948.3 753.5,948.3 754.5,948.9 755.5,950.9 756.5,951.9 757.5,952.7 758.5,953.9 759.5,954.4 760.5,952.3 761.5,950.7 762.5,948.1 763.5,947.3 764.5,947.8 765.5,947.5 766.5,946.8 767.5,947.2 768.5,946.8 769.5,946.7 770.5,946.4 771.5,946.4 772.5,946.2 773.5,946.0 774.5,945.2 775.5,945.5 776.5,945.1 777.5,945.1 778.5,944.9 779.5,945.4 780.5,945.3 781.5,945.1 782.5,945.2 783.5,945.2 784.5,945.6 785.5,945.3 786.5,945.8 787.5,945.6 788.5,946.0 789.5,946.1 790.5,946.3 791.5,946.7 792.5,946.1 793.5,947.0 794.5,946.8 795.5,947.0 796.5,947.2 797.5,947.5 798.5,947.2 799.5,947.4 800.5,948.1 801.5,947.6 802.5,948.5 803.5,948.9 804.5,948.7 805.5,949.5 806.5,950.5 807.5,951.7 808.5,952.1 809.5,953.7 810.5,954.2 811.5,955.2 812.5,956.1 813.5,956.0 814.5,957.2 815.5,957.7 816.5,958.0 817.5,959.1 818.5,958.8 819.5,957.6 820.5,956.4 821.5,955.3 822.5,954.9 823.5,955.7 824.5,956.3 825.5,957.0 826.5,957.9 827.5,958.0 828.5,959.1 829.5,959.4 830.5,960.1 831.5,960.6 832.5,961.5 833.5,962.7 834.5,963.2 835.5,964.1 836.5,964.4 837.5,965.2 838.5,965.9 839.5,966.9 840.5,967.5 841.5,968.0 842.5,967.6 843.5,968.5 844.5,969.0 845.5,969.0 846.5,968.8 847.5,969.4 848.5,969.4 849.5,970.0 850.5,971.7 851.5,972.4 852.5,973.4 853.5,974.4 854.5,975.4 855.5,976.0 856.5,976.8 857.5,977.7 858.5,978.6 859.5,979.3 860.5,982.1 861.5,984.7 862.5,988.1 863.5,990.8 864.5,994.1 865.5,996.2 866.5,997.0 867.5,997.7 868.5,999.1 869.5,1000.0 870.5,1000.5 871.5,1001.0 872.5,1002.2 873.5,1002.9 874.5,1003.5 875.5,1003.6 876.5,1004.0 877.5,1004.5 878.5,1004.8 879.5,1005.3 880.5,1005.9 881.5,1006.6 882.5,1006.2 883.5,1007.1 884.5,1007.0 885.5,1007.5 886.5,1008.5 887.5,1008.7 888.5,1009.4 889.5,1009.4 890.5,1009.4 891.5,1010.1 892.5,1010.6 893.5,1011.3 894.5,1011.7 895.5,1011.5 896.5,1011.8 897.5,1011.9 898.5,1012.7 899.5,1012.6 900.5,1012.9 901.5,1013.1 902.5,1013.4 903.5,1014.4 904.5,1014.2 905.5,1015.3 906.5,1014.8 907.5,1015.9 908.5,1015.5 909.5,1015.5 910.5,1015.9 911.5,1015.3 912.5,1015.5 913.5,1014.8 914.5,1014.5 915.5,1015.3 916.5,1015.5 917.5,1015.9 918.5,1016.0 919.5,1015.7 920.5,1016.4 921.5,1016.8 922.5,1016.8 923.5,1017.5 924.5,1017.1 925.5,1018.0 926.5,1018.0 927.5,1017.5 928.5,1017.7 929.5,1018.4 930.5,1018.8 931.5,1018.3 932.5,1018.7 933.5,1019.2 934.5,1018.9 935.5,1019.7 936.5,1019.6 937.5,1019.4 938.5,1019.8 939.5,1020.2 940.5,1020.2 941.5,1020.6 942.5,1020.3 943.5,1020.8 944.5,1020.4 945.5,1020.6 946.5,1020.6 947.5,1020.3 948.5,1020.3 949.5,1020.6 950.5,1020.7 951.5,1020.5 952.5,1020.1 953.5,1019.7 954.5,1019.3 955.5,1020.0 956.5,1019.6 957.5,1019.5 958.5,1018.9 959.5,1019.1 960.5,1019.3 961.5,1019.1 962.5,1018.8 963.5,1018.4 964.5,1018.4 965.5,1018.5 966.5,1017.7 967.5,1017.6 968.5,1017.2 969.5,1017.1 970.5,1010.6 971.5,1009.6 972.5,1008.9 973.5,1008.7 974.5,1008.4 975.5,1008.1 976.5,1007.9 977.5,1007.4 978.5,1006.0 979.5,1006.1 980.5,1005.5 981.5,1004.9 982.5,1004.0 983.5,1003.2 984.5,1003.1 985.5,1002.4 986.5,1001.7 987.5,1001.3 988.5,1000.2 989.5,999.4 990.5,999.3 991.5,999.1 992.5,998.0 993.5,998.0 994.5,997.7 995.5,996.6 996.5,996.5 997.5,996.8 998.5,996.7 999.5,996.7 1000.5,996.9 1001.5,997.5 1002.5,997.7 1003.5,997.6 1004.5,997.4 1005.5,998.3 1006.5,998.4 1007.5,998.1 1008.5,998.5 1009.5,998.9 1010.5,999.0 1011.5,998.8 1012.5,998.8 1013.5,999.1 1014.5,998.8 1015.5,998.9 1016.5,999.0 1017.5,999.6 1018.5,999.3 1019.5,999.0 1020.5,998.3 1021.5,997.9 1022.5,997.1 1023.5,996.8 1024.5,997.9 1025.5,997.5 1026.5,997.6 1027.5,998.3 1028.5,998.4 1029.5,997.3 1030.5,997.2 1031.5,996.4 1032.5,996.1 1033.5,995.1 1034.5,994.6 1035.5,995.0 1036.5,994.4 1037.5,993.8 1038.5,993.6 1039.5,993.2 1040.5,993.4 1041.5,992.9 1042.5,993.1 1043.5,992.7 1044.5,992.6 1045.5,992.5 1046.5,991.6 1047.5,991.2 1048.5,991.5 1049.5,991.6 1050.5,991.7 1051.5,991.8 1052.5,992.5 1053.5,992.9 1054.5,992.7 1055.5,993.3 1056.5,993.4 1057.5,992.8 1058.5,993.5 1059.5,992.3 1060.5,990.8 1061.5,990.4 1062.5,988.7 1063.5,988.1 1064.5,987.2 1065.5,986.6 1066.5,985.4 1067.5,984.2 1068.5,983.4 1069.5,982.2 1070.5,981.8 1071.5,980.7 1072.5,978.8 1073.5,977.5 1074.5,976.6 1075.5,975.5 1076.5,974.9 1077.5,973.8 1078.5,972.7 1079.5,971.4 1080.5,971.5 1081.5,970.8 1082.5,970.1 1083.5,969.8 1084.5,967.7 1085.5,963.9 1086.5,960.5 1087.5,958.2 1088.5,956.1 1089.5,953.9 1090.5,952.3 1091.5,950.6 1092.5,949.9 1093.5,950.4 1094.5,950.6 1095.5,950.8 1096.5,951.4 1097.5,951.4 1098.5,950.9 1099.5,949.9 1100.5,949.4 1101.5,947.9 1102.5,947.6 1103.5,946.2 1104.5,945.1 1105.5,945.0 1106.5,943.4 1107.5,943.1 1108.5,943.4 1109.5,943.9 1110.5,943.7 1111.5,944.5 1112.5,944.7 1113.5,946.0 1114.5,945.3 1115.5,944.3 1116.5,943.2 1117.5,942.6 1118.5,943.5 1119.5,943.7 1120.5,944.3 1121.5,944.4 1122.5,944.9 1123.5,945.3 1124.5,945.3 1125.5,944.5 1126.5,943.6 1127.5,943.6 1128.5,942.5 1129.5,942.0 1130.5,941.7 1131.5,941.8 1132.5,942.3 1133.5,941.9 1134.5,941.7 1135.5,942.0 1136.5,941.8 1137.5,942.4 1138.5,941.5 1139.5,941.7 1140.5,940.4 1141.5,940.7 1142.5,940.0 1143.0,939.3" fill="none" stroke="#8a9bf6" stroke-width="2.2"/>
<path d="M222.5,1072.5 223.5,1072.5 224.5,1072.5 225.5,1072.5 226.5,1072.5 227.5,1072.5 228.5,1072.5 229.5,1072.5 230.5,1072.5 231.5,1072.5 232.5,1072.5 233.5,1072.5 234.5,1072.5 235.5,1072.5 236.5,1072.5 237.5,1072.5 238.5,1072.5 239.5,1072.5 240.5,1072.5 241.5,1072.5 242.5,1072.4 243.5,1072.4 244.5,1072.4 245.5,1072.4 246.5,1072.4 247.5,1072.4 248.5,1072.4 249.5,1072.4 250.5,1072.4 251.5,1072.4 252.5,1072.4 253.5,1072.4 254.5,1072.4 255.5,1072.4 256.5,1072.4 257.5,1072.4 258.5,1072.4 259.5,1072.4 260.5,1072.4 261.5,1072.4 262.5,1072.4 263.5,1072.4 264.5,1072.4 265.5,1072.4 266.5,1072.4 267.5,1072.4 268.5,1072.4 269.5,1072.4 270.5,1072.4 271.5,1072.4 272.5,1072.4 273.5,1072.4 274.5,1072.4 275.5,1072.4 276.5,1072.4 277.5,1072.4 278.5,1072.4 279.5,1072.4 280.5,1072.4 281.5,1072.3 282.5,1072.3 283.5,1072.3 284.5,1072.3 285.5,1072.3 286.5,1072.3 287.5,1072.3 288.5,1072.3 289.5,1072.3 290.5,1072.3 291.5,1072.3 292.5,1072.3 293.5,1072.3 294.5,1072.3 295.5,1072.3 296.5,1072.3 297.5,1072.3 298.5,1072.3 299.5,1072.3 300.5,1072.3 301.5,1072.3 302.5,1072.3 303.5,1072.3 304.5,1072.2 305.5,1072.2 306.5,1072.2 307.5,1072.2 308.5,1072.2 309.5,1072.2 310.5,1072.2 311.5,1072.2 312.5,1072.2 313.5,1072.1 314.5,1072.1 315.5,1072.1 316.5,1072.1 317.5,1072.1 318.5,1072.1 319.5,1072.1 320.5,1072.1 321.5,1072.0 322.5,1072.0 323.5,1072.0 324.5,1072.0 325.5,1072.0 326.5,1072.0 327.5,1071.9 328.5,1071.9 329.5,1071.9 330.5,1071.8 331.5,1071.8 332.5,1071.8 333.5,1071.8 334.5,1071.7 335.5,1071.7 336.5,1071.7 337.5,1071.6 338.5,1071.6 339.5,1071.6 340.5,1071.6 341.5,1071.5 342.5,1071.5 343.5,1071.5 344.5,1071.4 345.5,1071.4 346.5,1071.4 347.5,1071.4 348.5,1071.3 349.5,1071.3 350.5,1071.3 351.5,1071.2 352.5,1071.2 353.5,1071.2 354.5,1071.2 355.5,1071.1 356.5,1071.1 357.5,1071.1 358.5,1071.0 359.5,1071.0 360.5,1071.0 361.5,1070.9 362.5,1070.9 363.5,1070.9 364.5,1070.8 365.5,1070.8 366.5,1070.8 367.5,1070.7 368.5,1070.7 369.5,1070.6 370.5,1070.6 371.5,1070.6 372.5,1070.5 373.5,1070.5 374.5,1070.5 375.5,1070.4 376.5,1070.4 377.5,1070.3 378.5,1070.3 379.5,1070.3 380.5,1070.2 381.5,1070.2 382.5,1070.2 383.5,1070.1 384.5,1070.1 385.5,1070.0 386.5,1070.0 387.5,1070.0 388.5,1069.9 389.5,1069.9 390.5,1069.9 391.5,1069.8 392.5,1069.8 393.5,1069.7 394.5,1069.7 395.5,1069.7 396.5,1069.6 397.5,1069.6 398.5,1069.6 399.5,1069.5 400.5,1069.5 401.5,1069.5 402.5,1069.4 403.5,1069.4 404.5,1069.4 405.5,1069.3 406.5,1069.3 407.5,1069.3 408.5,1069.2 409.5,1069.2 410.5,1069.2 411.5,1069.1 412.5,1069.1 413.5,1069.1 414.5,1069.0 415.5,1069.0 416.5,1069.0 417.5,1068.9 418.5,1068.9 419.5,1068.9 420.5,1068.8 421.5,1068.8 422.5,1068.8 423.5,1068.7 424.5,1068.7 425.5,1068.7 426.5,1068.6 427.5,1068.6 428.5,1068.6 429.5,1068.5 430.5,1068.5 431.5,1068.5 432.5,1068.4 433.5,1068.4 434.5,1068.4 435.5,1068.3 436.5,1068.3 437.5,1068.3 438.5,1068.2 439.5,1068.2 440.5,1068.2 441.5,1068.1 442.5,1068.0 443.5,1067.9 444.5,1067.9 445.5,1067.8 446.5,1067.7 447.5,1067.7 448.5,1067.6 449.5,1067.5 450.5,1067.4 451.5,1067.4 452.5,1067.3 453.5,1067.2 454.5,1067.2 455.5,1067.1 456.5,1067.1 457.5,1067.0 458.5,1066.9 459.5,1066.9 460.5,1066.8 461.5,1066.8 462.5,1066.7 463.5,1066.7 464.5,1066.6 465.5,1066.6 466.5,1066.5 467.5,1066.5 468.5,1066.4 469.5,1066.4 470.5,1066.3 471.5,1066.3 472.5,1066.2 473.5,1066.1 474.5,1066.1 475.5,1066.1 476.5,1066.1 477.5,1066.2 478.5,1066.2 479.5,1066.2 480.5,1066.2 481.5,1066.2 482.5,1066.3 483.5,1066.3 484.5,1066.3 485.5,1066.3 486.5,1066.3 487.5,1066.4 488.5,1066.4 489.5,1066.4 490.5,1066.4 491.5,1066.4 492.5,1066.5 493.5,1066.5 494.5,1066.5 495.5,1066.3 496.5,1066.0 497.5,1065.6 498.5,1065.3 499.5,1064.9 500.5,1064.6 501.5,1064.2 502.5,1063.9 503.5,1063.5 504.5,1063.2 505.5,1062.9 506.5,1062.6 507.5,1062.2 508.5,1061.9 509.5,1061.6 510.5,1061.3 511.5,1061.0 512.5,1060.7 513.5,1060.4 514.5,1060.1 515.5,1059.8 516.5,1059.5 517.5,1059.2 518.5,1058.9 519.5,1058.6 520.5,1058.4 521.5,1058.3 522.5,1058.2 523.5,1058.0 524.5,1057.9 525.5,1057.8 526.5,1057.7 527.5,1057.6 528.5,1057.4 529.5,1057.3 530.5,1057.2 531.5,1057.1 532.5,1056.9 533.5,1056.8 534.5,1056.7 535.5,1056.6 536.5,1056.5 537.5,1056.3 538.5,1056.2 539.5,1056.1 540.5,1056.0 541.5,1055.8 542.5,1055.5 543.5,1055.0 544.5,1054.5 545.5,1054.1 546.5,1053.6 547.5,1053.2 548.5,1052.7 549.5,1052.2 550.5,1051.8 551.5,1051.3 552.5,1050.8 553.5,1050.2 554.5,1049.6 555.5,1048.9 556.5,1048.2 557.5,1047.6 558.5,1046.9 559.5,1046.2 560.5,1045.5 561.5,1044.9 562.5,1044.2 563.5,1044.0 564.5,1043.8 565.5,1043.6 566.5,1043.5 567.5,1043.3 568.5,1043.1 569.5,1042.9 570.5,1042.7 571.5,1042.5 572.5,1042.3 573.5,1042.0 574.5,1041.7 575.5,1041.4 576.5,1041.1 577.5,1040.8 578.5,1040.5 579.5,1040.2 580.5,1039.8 581.5,1039.6 582.5,1038.8 583.5,1038.4 584.5,1037.0 585.5,1036.3 586.5,1036.6 587.5,1035.5 588.5,1035.4 589.5,1034.5 590.5,1033.8 591.5,1033.4 592.5,1032.8 593.5,1033.1 594.5,1032.3 595.5,1031.5 596.5,1030.3 597.5,1028.2 598.5,1025.9 599.5,1025.5 600.5,1024.4 601.5,1024.1 602.5,1022.9 603.5,1022.4 604.5,1021.2 605.5,1019.5 606.5,1017.6 607.5,1014.7 608.5,1011.2 609.5,1009.1 610.5,1006.3 611.5,1003.0 612.5,1000.6 613.5,998.7 614.5,996.4 615.5,995.1 616.5,992.5 617.5,991.2 618.5,990.3 619.5,988.4 620.5,987.2 621.5,986.5 622.5,984.8 623.5,983.3 624.5,980.8 625.5,978.7 626.5,976.9 627.5,974.3 628.5,972.7 629.5,969.5 630.5,962.7 631.5,955.6 632.5,953.5 633.5,950.8 634.5,948.7 635.5,946.3 636.5,944.4 637.5,941.5 638.5,936.3 639.5,933.9 640.5,932.2 641.5,930.6 642.5,928.6 643.5,923.8 644.5,919.9 645.5,916.8 646.5,914.7 647.5,913.6 648.5,912.4 649.5,912.1 650.5,912.2 651.5,910.9 652.5,910.6 653.5,909.7 654.5,908.5 655.5,907.2 656.5,907.0 657.5,907.0 658.5,906.1 659.5,906.3 660.5,905.0 661.5,905.3 662.5,904.3 663.5,903.5 664.5,903.3 665.5,902.4 666.5,902.5 667.5,901.5 668.5,901.7 669.5,900.8 670.5,900.0 671.5,899.3 672.5,899.1 673.5,898.1 674.5,898.3 675.5,896.9 676.5,896.7 677.5,893.4 678.5,889.1 679.5,887.0 680.5,886.1 681.5,885.8 682.5,885.2 683.5,884.4 684.5,884.0 685.5,883.2 686.5,882.8 687.5,883.0 688.5,882.0 689.5,881.8 690.5,880.7 691.5,880.7 692.5,880.0 693.5,879.7 694.5,879.0 695.5,878.2 696.5,877.5 697.5,874.3 698.5,871.2 699.5,868.8 700.5,866.6 701.5,865.9 702.5,865.7 703.5,864.8 704.5,864.1 705.5,863.3 706.5,860.2 707.5,855.7 708.5,850.9 709.5,850.6 710.5,849.6 711.5,848.2 712.5,847.3 713.5,846.6 714.5,846.4 715.5,845.6 716.5,846.0 717.5,845.2 718.5,845.2 719.5,844.4 720.5,843.4 721.5,842.4 722.5,840.3 723.5,838.4 724.5,835.7 725.5,833.8 726.5,832.1 727.5,830.2 728.5,828.6 729.5,827.2 730.5,825.3 731.5,824.1 732.5,822.9 733.5,820.9 734.5,820.6 735.5,820.4 736.5,820.6 737.5,820.2 738.5,820.5 739.5,820.8 740.5,820.6 741.5,820.3 742.5,821.0 743.5,820.7 744.5,820.0 745.5,819.5 746.5,820.2 747.5,819.7 748.5,819.6 749.5,820.3 750.5,820.6 751.5,821.9 752.5,821.7 753.5,823.0 754.5,823.3 755.5,823.1 756.5,824.3 757.5,824.7 758.5,827.8 759.5,830.6 760.5,832.8 761.5,832.1 762.5,832.7 763.5,831.7 764.5,831.8 765.5,831.5 766.5,831.6 767.5,831.8 768.5,831.7 769.5,831.6 770.5,831.3 771.5,834.8 772.5,839.1 773.5,842.9 774.5,843.6 775.5,842.9 776.5,843.9 777.5,843.3 778.5,844.3 779.5,844.6 780.5,844.3 781.5,844.6 782.5,845.0 783.5,844.6 784.5,844.4 785.5,844.0 786.5,843.7 787.5,844.0 788.5,844.0 789.5,843.7 790.5,843.9 791.5,843.9 792.5,844.6 793.5,844.7 794.5,844.3 795.5,844.5 796.5,844.9 797.5,844.9 798.5,845.6 799.5,845.1 800.5,845.0 801.5,845.5 802.5,844.6 803.5,844.9 804.5,845.1 805.5,846.6 806.5,847.2 807.5,848.3 808.5,848.6 809.5,850.1 810.5,851.1 811.5,851.9 812.5,853.2 813.5,854.3 814.5,852.9 815.5,852.6 816.5,852.1 817.5,851.3 818.5,850.6 819.5,850.3 820.5,849.7 821.5,851.4 822.5,852.4 823.5,853.2 824.5,854.7 825.5,856.0 826.5,857.1 827.5,856.7 828.5,856.3 829.5,855.9 830.5,856.7 831.5,856.1 832.5,855.8 833.5,857.3 834.5,858.4 835.5,858.8 836.5,859.1 837.5,860.3 838.5,861.1 839.5,861.3 840.5,862.1 841.5,861.9 842.5,863.3 843.5,863.3 844.5,863.7 845.5,864.5 846.5,864.5 847.5,864.5 848.5,864.9 849.5,865.2 850.5,865.4 851.5,866.5 852.5,866.7 853.5,866.2 854.5,866.2 855.5,866.8 856.5,867.1 857.5,867.3 858.5,866.6 859.5,868.7 860.5,870.6 861.5,872.4 862.5,873.1 863.5,872.3 864.5,872.4 865.5,872.5 866.5,873.9 867.5,875.4 868.5,875.5 869.5,876.3 870.5,876.0 871.5,876.1 872.5,877.0 873.5,877.3 874.5,877.9 875.5,878.1 876.5,878.6 877.5,878.9 878.5,878.5 879.5,878.6 880.5,878.4 881.5,878.7 882.5,879.1 883.5,878.7 884.5,879.5 885.5,879.1 886.5,879.5 887.5,880.3 888.5,879.4 889.5,879.5 890.5,879.7 891.5,878.7 892.5,878.5 893.5,876.9 894.5,879.6 895.5,881.7 896.5,883.7 897.5,884.4 898.5,884.4 899.5,885.0 900.5,885.0 901.5,885.1 902.5,885.2 903.5,885.5 904.5,885.9 905.5,886.3 906.5,886.5 907.5,885.9 908.5,886.2 909.5,886.5 910.5,886.8 911.5,886.8 912.5,886.8 913.5,886.9 914.5,887.4 915.5,887.8 916.5,888.6 917.5,888.7 918.5,888.9 919.5,889.3 920.5,889.5 921.5,889.3 922.5,889.8 923.5,889.2 924.5,890.0 925.5,890.1 926.5,889.9 927.5,890.3 928.5,890.9 929.5,890.5 930.5,890.9 931.5,890.6 932.5,890.6 933.5,891.0 934.5,889.8 935.5,889.8 936.5,890.1 937.5,889.6 938.5,888.7 939.5,888.4 940.5,887.2 941.5,886.6 942.5,885.5 943.5,884.8 944.5,883.9 945.5,882.9 946.5,882.0 947.5,881.7 948.5,882.1 949.5,881.4 950.5,880.6 951.5,881.0 952.5,880.0 953.5,879.4 954.5,879.6 955.5,878.9 956.5,878.9 957.5,878.7 958.5,878.1 959.5,876.7 960.5,873.8 961.5,873.5 962.5,873.0 963.5,871.8 964.5,871.6 965.5,870.6 966.5,870.4 967.5,870.3 968.5,869.4 969.5,869.0 970.5,863.2 971.5,861.7 972.5,861.9 973.5,860.9 974.5,859.4 975.5,859.4 976.5,857.0 977.5,854.9 978.5,854.0 979.5,851.7 980.5,850.1 981.5,847.5 982.5,847.0 983.5,845.1 984.5,844.1 985.5,843.1 986.5,841.5 987.5,840.3 988.5,837.8 989.5,836.1 990.5,835.2 991.5,833.5 992.5,832.6 993.5,830.9 994.5,829.7 995.5,828.0 996.5,828.3 997.5,828.2 998.5,827.4 999.5,828.1 1000.5,827.6 1001.5,828.1 1002.5,828.0 1003.5,828.2 1004.5,827.4 1005.5,827.7 1006.5,828.1 1007.5,828.3 1008.5,828.0 1009.5,827.3 1010.5,827.9 1011.5,827.4 1012.5,827.9 1013.5,828.1 1014.5,827.4 1015.5,828.3 1016.5,828.0 1017.5,827.5 1018.5,827.0 1019.5,826.7 1020.5,826.5 1021.5,825.6 1022.5,824.5 1023.5,823.9 1024.5,823.4 1025.5,823.5 1026.5,823.2 1027.5,823.9 1028.5,824.0 1029.5,824.6 1030.5,822.7 1031.5,821.0 1032.5,820.3 1033.5,818.4 1034.5,817.1 1035.5,815.7 1036.5,815.0 1037.5,813.6 1038.5,813.5 1039.5,812.8 1040.5,812.8 1041.5,812.7 1042.5,812.2 1043.5,810.9 1044.5,810.6 1045.5,810.9 1046.5,810.3 1047.5,809.5 1048.5,809.6 1049.5,809.3 1050.5,810.1 1051.5,809.7 1052.5,810.3 1053.5,810.0 1054.5,809.5 1055.5,809.8 1056.5,809.7 1057.5,810.5 1058.5,810.3 1059.5,808.9 1060.5,804.9 1061.5,800.9 1062.5,796.9 1063.5,793.0 1064.5,789.3 1065.5,785.8 1066.5,782.4 1067.5,780.3 1068.5,777.3 1069.5,774.2 1070.5,771.9 1071.5,769.6 1072.5,765.6 1073.5,762.7 1074.5,762.7 1075.5,761.9 1076.5,761.6 1077.5,761.5 1078.5,760.9 1079.5,760.9 1080.5,760.5 1081.5,760.7 1082.5,760.7 1083.5,759.7 1084.5,758.0 1085.5,753.7 1086.5,749.4 1087.5,746.1 1088.5,742.9 1089.5,739.9 1090.5,736.6 1091.5,735.9 1092.5,735.9 1093.5,735.3 1094.5,734.7 1095.5,733.8 1096.5,734.1 1097.5,735.6 1098.5,736.1 1099.5,734.3 1100.5,733.0 1101.5,731.2 1102.5,730.0 1103.5,728.7 1104.5,727.2 1105.5,726.4 1106.5,725.2 1107.5,725.0 1108.5,725.1 1109.5,725.6 1110.5,726.1 1111.5,726.7 1112.5,727.5 1113.5,725.5 1114.5,723.4 1115.5,722.3 1116.5,719.8 1117.5,719.7 1118.5,719.8 1119.5,719.4 1120.5,719.1 1121.5,718.9 1122.5,719.0 1123.5,718.4 1124.5,717.6 1125.5,716.3 1126.5,715.5 1127.5,713.6 1128.5,713.1 1129.5,711.5 1130.5,710.2 1131.5,709.7 1132.5,709.4 1133.5,709.2 1134.5,707.8 1135.5,707.5 1136.5,706.4 1137.5,705.9 1138.5,704.2 1139.5,703.7 1140.5,703.3 1141.5,701.7 1142.5,700.7 1143.0,700.5" fill="none" stroke="#2e8985" stroke-width="2.2" stroke-linejoin="round"/>
<path d="M540,1071.9 L1143,1071.7" stroke="#7d8fc8" stroke-width="1.4" fill="none"/>
<path d="M630,1070.6 L650,1070.2 L700,1070.4 L1143,1070.3" stroke="#4a5fd8" stroke-width="1.3" fill="none"/>
<line x1="215" y1="615" x2="215" y2="1075" stroke="#d6ddef" stroke-width="2"/>
<line x1="214" y1="1074" x2="1150" y2="1074" stroke="#d6ddef" stroke-width="2"/>
</svg>
<svg class="b" style="left:565.2px;top:774.9px" width="96.6" height="96.6" viewBox="-48.3 -48.3 96.6 96.6"><g fill="none" stroke="#cccccc" stroke-width="6.2"><circle cx="0" cy="0" r="43.2"/><line x1="0" y1="-43.2" x2="0" y2="43.2" stroke-width="4.7"/><line x1="-43.2" y1="0" x2="43.2" y2="0" stroke-width="4.7"/><ellipse cx="0" cy="0" rx="22.5" ry="43.2" stroke-width="4.7"/><path d="M-35.4,-23.8 Q0,-6.5 35.4,-23.8 M-35.4,23.8 Q0,6.5 35.4,23.8" stroke-width="4.7"/></g></svg>
<div class="t" style="left:671.40px;top:749.72px;font-size:126px;color:rgba(0,0,0,0.2);letter-spacing:-0.65px;">rwa</div>
<div class="t" style="left:877.50px;top:814.06px;font-size:50px;color:rgba(0,0,0,0.2);letter-spacing:0.73px;">.xyz</div>
<div class="t" style="left:77.00px;top:602.45px;font-size:29px;color:#97a4bb;letter-spacing:-0.22px;-webkit-text-stroke:0.25px #97a4bb;">$300.0B</div>
<div class="t" style="left:77.00px;top:754.45px;font-size:29px;color:#97a4bb;letter-spacing:-0.22px;-webkit-text-stroke:0.25px #97a4bb;">$200.0B</div>
<div class="t" style="left:77.00px;top:906.85px;font-size:29px;color:#97a4bb;letter-spacing:-0.22px;-webkit-text-stroke:0.25px #97a4bb;">$100.0B</div>
<div class="t" style="left:93.40px;top:1060.65px;font-size:29px;color:#97a4bb;letter-spacing:-0.30px;-webkit-text-stroke:0.25px #97a4bb;">$0.00K</div>
<div class="t" style="left:195.45px;top:1106.65px;font-size:29px;color:#97a4bb;letter-spacing:-0.38px;-webkit-text-stroke:0.25px #97a4bb;">1/1/18</div>
<div class="t" style="left:435.45px;top:1106.65px;font-size:29px;color:#97a4bb;letter-spacing:-0.38px;-webkit-text-stroke:0.25px #97a4bb;">1/1/20</div>
<div class="t" style="left:677.45px;top:1106.65px;font-size:29px;color:#97a4bb;letter-spacing:-0.38px;-webkit-text-stroke:0.25px #97a4bb;">1/1/22</div>
<div class="t" style="left:919.45px;top:1106.65px;font-size:29px;color:#97a4bb;letter-spacing:-0.38px;-webkit-text-stroke:0.25px #97a4bb;">1/1/24</div>
<div class="b" style="left:1193px;top:646px;width:30px;height:9px;background:linear-gradient(#7db3b0,#dcebea)"></div>
<div class="b" style="left:1192px;top:644px;width:32px;height:2.4px;background:#2e8a86;border-radius:1px"></div>
<div class="t" style="left:1233.70px;top:632.99px;font-size:26px;color:#333333;letter-spacing:-0.45px;">USDT</div>
<div class="b" style="left:1193px;top:684px;width:30px;height:9px;background:linear-gradient(#b3bcf4,#e8ebfd)"></div>
<div class="b" style="left:1192px;top:682px;width:32px;height:2.4px;background:#8a9bf6;border-radius:1px"></div>
<div class="t" style="left:1233.70px;top:670.99px;font-size:26px;color:#333333;letter-spacing:-0.45px;">USDC</div>
<div class="b" style="left:1193px;top:722px;width:30px;height:9px;background:linear-gradient(#f3cd8a,#fbeedb)"></div>
<div class="b" style="left:1192px;top:720px;width:32px;height:2.4px;background:#f0a835;border-radius:1px"></div>
<div class="t" style="left:1233.70px;top:708.99px;font-size:26px;color:#333333;letter-spacing:-0.45px;">USDS</div>
<div class="b" style="left:1193px;top:760px;width:30px;height:9px;background:linear-gradient(#555,#ddd)"></div>
<div class="b" style="left:1192px;top:758px;width:32px;height:2.4px;background:#111;border-radius:1px"></div>
<div class="t" style="left:1233.70px;top:746.99px;font-size:26px;color:#333333;letter-spacing:-0.45px;">USDe</div>
<div class="b" style="left:1193px;top:798px;width:30px;height:9px;background:linear-gradient(#444,#ccc)"></div>
<div class="b" style="left:1192px;top:796px;width:32px;height:2.4px;background:#111;border-radius:1px"></div>
<div class="t" style="left:1233.70px;top:784.99px;font-size:26px;color:#333333;letter-spacing:-0.45px;">BSC-USD</div>
<div class="b" style="left:1193px;top:836px;width:30px;height:9px;background:linear-gradient(#9adcf2,#e4f6fc)"></div>
<div class="b" style="left:1192px;top:834px;width:32px;height:2.4px;background:#5cc8ec;border-radius:1px"></div>
<div class="t" style="left:1233.70px;top:822.99px;font-size:26px;color:#333333;letter-spacing:-0.45px;">USDtb</div>
<div class="b" style="left:1193px;top:874px;width:30px;height:9px;background:linear-gradient(#93ebb5,#e2f9eb)"></div>
<div class="b" style="left:1192px;top:872px;width:32px;height:2.4px;background:#52de88;border-radius:1px"></div>
<div class="t" style="left:1233.70px;top:860.99px;font-size:26px;color:#333333;letter-spacing:-0.45px;">FDUSD</div>
<div class="b" style="left:1193px;top:912px;width:30px;height:9px;background:linear-gradient(#8fa2f5,#e1e6fd)"></div>
<div class="b" style="left:1192px;top:910px;width:32px;height:2.4px;background:#4a66f0;border-radius:1px"></div>
<div class="t" style="left:1233.70px;top:898.99px;font-size:26px;color:#333333;letter-spacing:-0.45px;">PYUSD</div>
<div class="b" style="left:1193px;top:950px;width:30px;height:9px;background:linear-gradient(#a8cbc5,#e7f1ef)"></div>
<div class="b" style="left:1192px;top:948px;width:32px;height:2.4px;background:#6fa59d;border-radius:1px"></div>
<div class="t" style="left:1233.70px;top:936.99px;font-size:26px;color:#333333;letter-spacing:-0.45px;">USDD</div>
<div class="b" style="left:1193px;top:988px;width:30px;height:9px;background:linear-gradient(#9ad9f0,#e3f4fb)"></div>
<div class="b" style="left:1192px;top:986px;width:32px;height:2.4px;background:#58c2e8;border-radius:1px"></div>
<div class="t" style="left:1233.70px;top:974.99px;font-size:26px;color:#333333;letter-spacing:-0.45px;">USD0</div>
<div class="b" style="left:1193px;top:1026px;width:30px;height:9px;background:linear-gradient(#8b8ccc,#e0e0f3)"></div>
<div class="b" style="left:1192px;top:1024px;width:32px;height:2.4px;background:#3b3ca0;border-radius:1px"></div>
<div class="t" style="left:1233.70px;top:1012.99px;font-size:26px;color:#333333;letter-spacing:-0.45px;">RLUSD</div>
<div class="b" style="left:1193px;top:1064px;width:30px;height:9px;background:linear-gradient(#efcb8c,#faefda)"></div>
<div class="b" style="left:1192px;top:1062px;width:32px;height:2.4px;background:#e5a640;border-radius:1px"></div>
<div class="t" style="left:1233.70px;top:1050.99px;font-size:26px;color:#333333;letter-spacing:-0.45px;">USDG</div>
<div class="b" style="left:1193px;top:1102px;width:30px;height:9px;background:linear-gradient(#444,#ddd)"></div>
<div class="b" style="left:1192px;top:1100px;width:32px;height:2.4px;background:#111;border-radius:1px"></div>
<div class="t" style="left:1233.70px;top:1088.99px;font-size:26px;color:#333333;letter-spacing:-0.45px;">FRAX</div>
<div class="b" style="left:1193px;top:1140px;width:30px;height:9px;background:linear-gradient(#6d82a8,#dde3ee)"></div>
<div class="b" style="left:1192px;top:1138px;width:32px;height:2.4px;background:#1f3a73;border-radius:1px"></div>
<div class="t" style="left:1233.70px;top:1126.99px;font-size:26px;color:#333333;letter-spacing:-0.45px;">M</div>
<div class="b" style="left:1193px;top:1178px;width:30px;height:9px;background:linear-gradient(#555,#ddd)"></div>
<div class="b" style="left:1192px;top:1176px;width:32px;height:2.4px;background:#222;border-radius:1px"></div>
<div class="t" style="left:1233.70px;top:1164.99px;font-size:26px;color:#333333;letter-spacing:-0.45px;">BSC-BUSD</div>
<svg class="b" style="left:1192px;top:1223px" width="24" height="24" viewBox="0 0 24 24"><path d="M12 0.5L23.6 24H0.4Z" fill="#c8c8c8"/></svg>
<div class="t" style="left:1222.20px;top:1221.53px;font-size:25px;color:#000;letter-spacing:0.30px;">1/4</div>
<svg class="b" style="left:1264px;top:1223px" width="24" height="24" viewBox="0 0 24 24"><path d="M0 0H24L12 24Z" fill="#0b1ff5"/></svg>
<div class="b" style="left:212px;top:1183px;width:940px;height:90px;border:2px solid #999;border-bottom:none;box-sizing:border-box;background:#d3d8fa"></div>
<svg class="b" style="left:0;top:0" width="2298" height="1308" viewBox="0 0 2298 1308">
<line x1="235" y1="1185" x2="235" y2="1265" stroke="#bcc2e8" stroke-width="2"/>
<line x1="475" y1="1185" x2="475" y2="1265" stroke="#bcc2e8" stroke-width="2"/>
<line x1="717" y1="1185" x2="717" y2="1265" stroke="#bcc2e8" stroke-width="2"/>
<line x1="959" y1="1185" x2="959" y2="1265" stroke="#bcc2e8" stroke-width="2"/>
<path d="M222.2,1264.5 401.9,1264.1 490.7,1262.3 535.1,1260.1 579.5,1256.5 601.7,1253.4 615.0,1247.6 628.3,1243.2 646.0,1235.7 668.2,1235.2 681.6,1232.1 700.0,1230.3 714.8,1228.1 735.0,1227.8 756.2,1226.2 759.2,1227.3 771.0,1230.3 775.4,1234.0 788.8,1233.6 825.7,1233.0 847.9,1232.5 859.8,1230.3 867.2,1227.0 892.3,1225.1 921.9,1225.9 936.7,1224.4 958.9,1220.7 973.7,1218.5 995.9,1212.8 1018.0,1211.8 1039.9,1208.8 1058.8,1207.7 1072.1,1201.0 1081.0,1201.0 1112.1,1196.6 1141.0,1192.2 L1141.0,1266.0 222.2,1266.0 Z" fill="url(#gN)"/>
<path d="M222.2,1263.9 401.9,1263.9 490.7,1262.3 535.1,1260.1 579.5,1256.5 601.7,1253.4 615.0,1247.6 628.3,1243.2 646.0,1235.7 668.2,1235.2 681.6,1232.1 700.0,1230.3 714.8,1228.1 735.0,1227.8 756.2,1226.2 759.2,1227.3 771.0,1230.3 775.4,1234.0 788.8,1233.6 825.7,1233.0 847.9,1232.5 859.8,1230.3 867.2,1227.0 892.3,1225.1 921.9,1225.9 936.7,1224.4 958.9,1220.7 973.7,1218.5 995.9,1212.8 1018.0,1211.8 1039.9,1208.8 1058.8,1207.7 1072.1,1201.0 1081.0,1201.0 1112.1,1196.6 1141.0,1192.2" fill="none" stroke="#4c6cf0" stroke-width="1.8"/>
</svg>
<div class="t" style="left:240.10px;top:1238.17px;font-size:22px;color:#5a6495;letter-spacing:0.43px;text-shadow:0 0 3px #d6dbfb,0 0 3px #d6dbfb,0 0 2px #d6dbfb;">2018</div>
<div class="t" style="left:480.80px;top:1238.17px;font-size:22px;color:#5a6495;letter-spacing:0.60px;text-shadow:0 0 3px #d6dbfb,0 0 3px #d6dbfb,0 0 2px #d6dbfb;">2020</div>
<div class="t" style="left:722.70px;top:1238.17px;font-size:22px;color:#5a6495;letter-spacing:0.60px;text-shadow:0 0 3px #d6dbfb,0 0 3px #d6dbfb,0 0 2px #d6dbfb;">2022</div>
<div class="t" style="left:963.80px;top:1238.17px;font-size:22px;color:#5a6495;letter-spacing:0.27px;text-shadow:0 0 3px #d6dbfb,0 0 3px #d6dbfb,0 0 2px #d6dbfb;">2024</div>
<div class="b" style="left:204.1px;top:1209.4px;width:17.6px;height:31px;border:2px solid #999;box-sizing:border-box;background:#f2f2f2"></div>
<div class="b" style="left:210.1px;top:1217.2px;width:1.8px;height:15.7px;background:#999"></div>
<div class="b" style="left:213.7px;top:1217.2px;width:2.2px;height:15.7px;background:#999"></div>
<div class="b" style="left:1142.3px;top:1209.4px;width:17.6px;height:31px;border:2px solid #999;box-sizing:border-box;background:#f2f2f2"></div>
<div class="b" style="left:1148.3px;top:1217.2px;width:1.8px;height:15.7px;background:#999"></div>
<div class="b" style="left:1151.8999999999999px;top:1217.2px;width:2.2px;height:15.7px;background:#999"></div>
<div class="b" style="left:200px;top:1265px;width:980px;height:43px;background:#fff"></div>
<div class="t" style="left:1610.30px;top:281.29px;font-size:41px;color:#15161c;letter-spacing:0.04px;-webkit-text-stroke:0.7px #15161c;">Market</div>
<div class="t" style="left:1611.30px;top:336.59px;font-size:41px;color:#15161c;-webkit-text-stroke:0.7px #15161c;">Caps</div>
<div class="t" style="left:1785.20px;top:313.71px;font-size:32px;color:#72757e;letter-spacing:-1.30px;">GROUP BY</div>
<div class="b" style="left:1968px;top:294px;width:288px;height:72px;border:2px solid #e1e4ea;border-radius:14px;box-sizing:border-box;background:#fff"></div>
<div class="t" style="left:1999.80px;top:315.89px;font-size:28px;color:#8a8f99;letter-spacing:0.67px;-webkit-text-stroke:0.3px #8a8f99;">Network</div>
<svg class="b" style="left:2199px;top:319px" width="34" height="24" viewBox="0 0 34 24"><path d="M4 5.5L16.9 18.5L29.8 5.5" fill="none" stroke="#8a8f99" stroke-width="3"/></svg>
<svg class="b" style="left:0;top:0" width="2298" height="1308" viewBox="0 0 2298 1308">
<path d="M1922.8,966.8 L1922.80,861.72 A5.00,5.00 0 0 1 1928.04,856.72 A110.2,110.2 0 1 1 1898.43,1074.27 A5.00,5.00 0 0 1 1894.72,1068.06 Z" fill="#9dc8f9" stroke="#fff" stroke-width="2.4" stroke-linejoin="round"/>
<path d="M1922.8,966.8 L1894.72,1068.06 A5.00,5.00 0 0 1 1888.34,1071.47 A110.2,110.2 0 0 1 1838.60,895.71 A5.00,5.00 0 0 1 1845.82,895.27 Z" fill="#e68887" stroke="#fff" stroke-width="2.4" stroke-linejoin="round"/>
<path d="M1922.8,966.8 L1845.82,895.27 A5.00,5.00 0 0 1 1845.73,888.03 A110.2,110.2 0 0 1 1859.71,876.45 A5.00,5.00 0 0 1 1866.80,877.88 Z" fill="#e896ef" stroke="#fff" stroke-width="2.4" stroke-linejoin="round"/>
<path d="M1922.8,966.8 L1866.80,877.88 A5.00,5.00 0 0 1 1868.58,870.86 A110.2,110.2 0 0 1 1877.06,866.54 A5.00,5.00 0 0 1 1883.78,869.23 Z" fill="#96c8f9" stroke="#fff" stroke-width="2.4" stroke-linejoin="round"/>
<path d="M1922.8,966.8 L1883.78,869.23 A5.00,5.00 0 0 1 1886.78,862.65 A110.2,110.2 0 0 1 1891.09,861.26 A5.00,5.00 0 0 1 1897.38,864.84 Z" fill="#f0d58f" stroke="#fff" stroke-width="2.4" stroke-linejoin="round"/>
<path d="M1922.8,966.8 L1897.13,863.83 A4.00,4.00 0 0 1 1900.19,858.95 A110.2,110.2 0 0 1 1903.36,858.33 A4.00,4.00 0 0 1 1908.03,861.71 Z" fill="#e2e49a" stroke="#fff" stroke-width="2.4" stroke-linejoin="round"/>
<path d="M1922.8,966.8 L1907.75,859.72 A2.05,2.05 0 0 1 1909.53,857.40 A110.2,110.2 0 0 1 1910.35,857.31 A2.05,2.05 0 0 1 1912.62,859.15 Z" fill="#e08888" stroke="#fff" stroke-width="2.4" stroke-linejoin="round"/>
<path d="M1922.8,966.8 L1912.58,858.73 A1.64,1.64 0 0 1 1914.09,856.95 A110.2,110.2 0 0 1 1914.99,856.88 A1.64,1.64 0 0 1 1916.74,858.42 Z" fill="#a6e2e0" stroke="#fff" stroke-width="2.4" stroke-linejoin="round"/>
<path d="M1840,813.4 L1844.5,813.4 L1872,868.7" fill="none" stroke="#8cc4f8" stroke-width="2"/>
<path d="M1759.5,895.2 L1844.5,873.3 L1852,882.4" fill="none" stroke="#e87de8" stroke-width="2"/>
<path d="M1750.4,1013.6 L1759.5,1013.6 L1817.2,997.2" fill="none" stroke="#e07373" stroke-width="2"/>
<path d="M2032.9,981.7 L2092.1,988.7 L2101.2,988.7" fill="none" stroke="#8cc4f8" stroke-width="2"/>
</svg>
<div class="t" style="left:1729.10px;top:786.23px;font-size:25px;color:#95a1b6;letter-spacing:-0.49px;">Arbitrum</div>
<div class="t" style="left:1729.10px;top:816.79px;font-size:28px;color:#26324a;">$6.9B</div>
<div class="t" style="left:1648.20px;top:867.93px;font-size:25px;color:#95a1b6;letter-spacing:-0.64px;">Solana</div>
<div class="t" style="left:1649.20px;top:898.79px;font-size:28px;color:#26324a;letter-spacing:0.10px;">$10.3B</div>
<div class="t" style="left:1641.00px;top:985.13px;font-size:25px;color:#95a1b6;letter-spacing:-0.73px;">TRON</div>
<div class="t" style="left:1641.00px;top:1016.59px;font-size:28px;color:#26324a;letter-spacing:0.22px;">$79.5B</div>
<div class="t" style="left:2119.90px;top:962.33px;font-size:25px;color:#95a1b6;letter-spacing:-0.39px;">Ethereum</div>
<div class="t" style="left:2121.90px;top:992.99px;font-size:28px;color:#26324a;letter-spacing:-0.12px;">$132.3B</div>
<div class="b" style="left:1571px;top:1000px;width:725px;height:308px;background:radial-gradient(ellipse 210px 150px at 100% 100%, rgba(60,60,70,0.06), rgba(60,60,70,0.025) 50%, rgba(60,60,70,0) 100%)"></div>
<svg class="b" style="left:2054.3px;top:1221.0px" width="49.6" height="49.6" viewBox="-24.8 -24.8 49.6 49.6"><g fill="none" stroke="#c8c8c8" stroke-width="3.2"><circle cx="0" cy="0" r="21.2"/><line x1="0" y1="-21.2" x2="0" y2="21.2" stroke-width="2.4"/><line x1="-21.2" y1="0" x2="21.2" y2="0" stroke-width="2.4"/><ellipse cx="0" cy="0" rx="11.0" ry="21.2" stroke-width="2.4"/><path d="M-17.4,-11.7 Q0,-3.2 17.4,-11.7 M-17.4,11.7 Q0,3.2 17.4,11.7" stroke-width="2.4"/></g></svg>
<div class="t" style="left:2108.20px;top:1211.00px;font-size:60px;color:#c8c8c8;letter-spacing:2.15px;">rwa</div>
<div class="t" style="left:2211.00px;top:1241.48px;font-size:24px;color:#c8c8c8;letter-spacing:0.87px;">.xyz</div>
<div class="t" style="left:2070.00px;top:1281.46px;font-size:24.5px;color:#a5a5ad;letter-spacing:0.14px;">as of 07/13/2025</div>
</body></html>
